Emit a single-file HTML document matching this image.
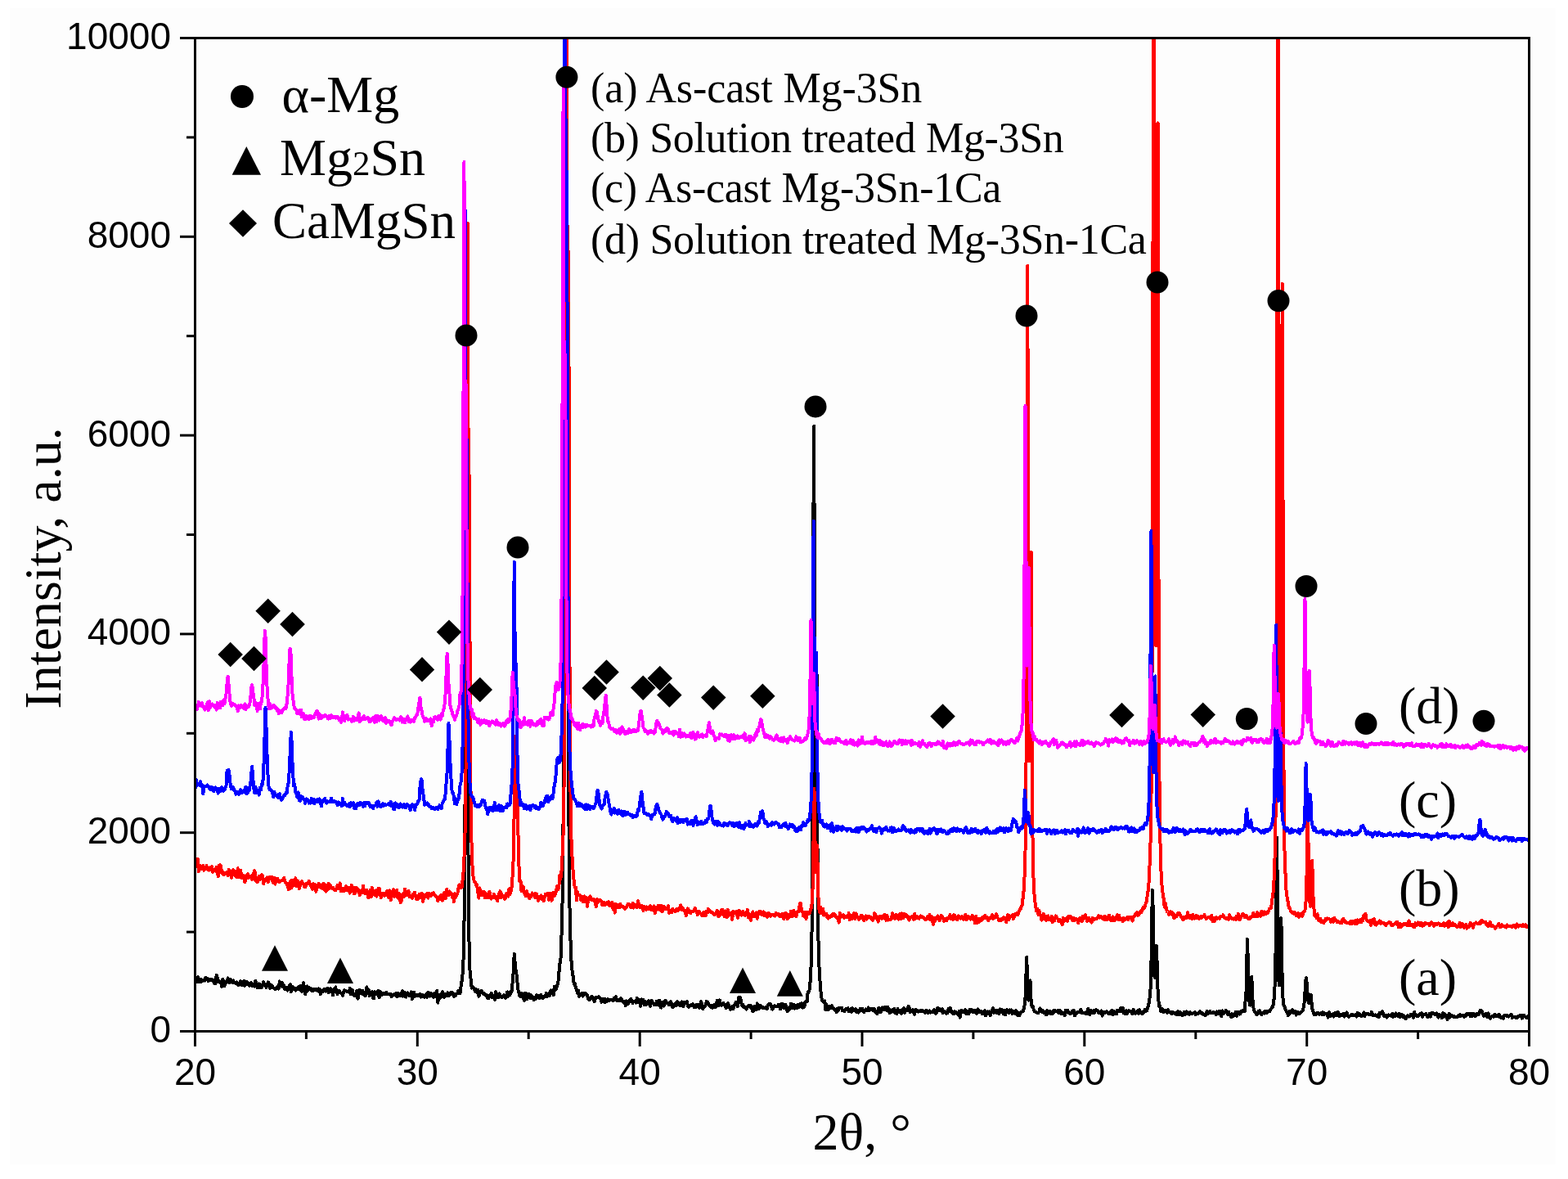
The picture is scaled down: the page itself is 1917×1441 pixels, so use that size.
<!DOCTYPE html><html><head><meta charset="utf-8"><title>XRD</title><style>html,body{margin:0;padding:0;background:#fff;}svg{display:block;}.t{font-family:"Liberation Serif","Times New Roman",serif;}.s{font-family:"Liberation Sans",Arial,sans-serif;}</style></head><body>
<svg width="1917" height="1441" viewBox="0 0 1917 1441">
<rect width="1917" height="1441" fill="#ffffff"/>
<rect x="12" y="10" width="1890" height="1413" fill="#fdfdfd"/>
<defs><clipPath id="pc"><rect x="238.5" y="46.5" width="1631.0" height="1214.0"/></clipPath></defs>
<g clip-path="url(#pc)">
<polyline fill="none" stroke="#000000" stroke-width="4.0" stroke-linejoin="round" stroke-linecap="butt" shape-rendering="crispEdges" points="238.5,1198.4 239.0,1199.2 239.6,1200.0 240.1,1199.4 240.7,1198.7 241.2,1196.5 241.8,1194.2 242.3,1197.3 242.8,1200.4 243.4,1199.8 243.9,1199.2 244.5,1197.8 245.0,1196.5 245.6,1198.0 246.1,1199.6 246.7,1199.3 247.2,1198.9 247.7,1198.7 248.3,1198.5 248.8,1197.9 249.4,1197.4 249.9,1197.9 250.5,1198.4 251.0,1196.5 251.5,1194.7 252.1,1195.5 252.6,1196.3 253.2,1196.0 253.7,1195.8 254.3,1197.5 254.8,1199.3 255.4,1198.8 255.9,1198.3 256.4,1198.0 257.0,1197.7 257.5,1197.2 258.1,1196.6 258.6,1197.4 259.2,1198.1 259.7,1198.5 260.2,1198.9 260.8,1198.5 261.3,1198.1 261.9,1200.3 262.4,1202.5 263.0,1202.2 263.5,1202.0 264.1,1197.0 264.6,1192.0 265.1,1193.3 265.7,1194.7 266.2,1197.2 266.8,1199.8 267.3,1199.5 267.9,1199.2 268.4,1200.1 268.9,1201.0 269.5,1201.0 270.0,1200.9 270.6,1203.5 271.1,1206.0 271.7,1201.4 272.2,1196.8 272.8,1197.7 273.3,1198.6 273.8,1201.9 274.4,1205.2 274.9,1203.2 275.5,1201.3 276.0,1201.4 276.6,1201.5 277.1,1200.0 277.6,1198.4 278.2,1196.9 278.7,1195.4 279.3,1198.0 279.8,1200.6 280.4,1200.6 280.9,1200.7 281.4,1199.0 282.0,1197.4 282.5,1198.3 283.1,1199.2 283.6,1200.1 284.2,1201.0 284.7,1199.8 285.3,1198.5 285.8,1199.7 286.3,1200.9 286.9,1201.2 287.4,1201.6 288.0,1201.7 288.5,1201.7 289.1,1201.1 289.6,1200.5 290.1,1202.1 290.7,1203.6 291.2,1204.0 291.8,1204.4 292.3,1203.5 292.9,1202.6 293.4,1201.0 294.0,1199.4 294.5,1201.5 295.0,1203.6 295.6,1201.9 296.1,1200.3 296.7,1202.2 297.2,1204.2 297.8,1201.6 298.3,1199.0 298.8,1201.9 299.4,1204.8 299.9,1203.7 300.5,1202.6 301.0,1201.1 301.6,1199.7 302.1,1201.1 302.7,1202.6 303.2,1203.3 303.7,1203.9 304.3,1204.3 304.8,1204.8 305.4,1203.1 305.9,1201.5 306.5,1201.4 307.0,1201.3 307.5,1203.1 308.1,1204.8 308.6,1203.8 309.2,1202.8 309.7,1203.7 310.3,1204.5 310.8,1205.0 311.4,1205.6 311.9,1202.2 312.4,1198.8 313.0,1201.4 313.5,1204.1 314.1,1205.5 314.6,1207.1 315.2,1205.2 315.7,1203.4 316.2,1203.0 316.8,1202.5 317.3,1204.9 317.9,1207.1 318.4,1206.4 319.0,1205.6 319.5,1206.3 320.0,1207.0 320.6,1205.1 321.1,1203.3 321.7,1201.7 322.2,1200.2 322.8,1202.1 323.3,1204.1 323.9,1203.8 324.4,1203.5 324.9,1205.2 325.5,1206.9 326.0,1206.1 326.6,1205.3 327.1,1202.8 327.7,1200.4 328.2,1201.0 328.7,1201.6 329.3,1204.6 329.8,1207.6 330.4,1207.5 330.9,1207.4 331.5,1205.7 332.0,1204.1 332.6,1205.1 333.1,1206.1 333.6,1206.8 334.2,1207.5 334.7,1207.7 335.3,1207.9 335.8,1208.5 336.4,1209.2 336.9,1208.4 337.4,1207.5 338.0,1206.9 338.5,1206.3 339.1,1205.8 339.6,1205.4 340.2,1207.0 340.7,1208.6 341.3,1204.0 341.8,1199.4 342.3,1202.1 342.9,1204.9 343.4,1205.0 344.0,1205.2 344.5,1203.2 345.1,1201.3 345.6,1203.8 346.1,1206.4 346.7,1205.4 347.2,1204.4 347.8,1206.8 348.3,1209.3 348.9,1208.2 349.4,1207.1 350.0,1208.3 350.5,1209.3 351.0,1210.0 351.6,1210.6 352.1,1209.3 352.7,1208.0 353.2,1206.3 353.8,1204.6 354.3,1203.8 354.8,1203.1 355.4,1207.7 355.9,1212.4 356.5,1210.0 357.0,1207.7 357.6,1207.0 358.1,1206.3 358.7,1207.4 359.2,1208.6 359.7,1208.1 360.3,1207.6 360.8,1209.0 361.4,1210.5 361.9,1209.4 362.5,1208.3 363.0,1208.3 363.5,1208.3 364.1,1207.3 364.6,1206.3 365.2,1207.9 365.7,1209.4 366.3,1207.4 366.8,1205.3 367.3,1207.6 367.9,1209.9 368.4,1211.1 369.0,1212.2 369.5,1208.1 370.1,1204.0 370.6,1202.7 371.2,1201.4 371.7,1205.6 372.2,1209.7 372.8,1212.4 373.3,1215.0 373.9,1210.4 374.4,1205.8 375.0,1205.6 375.5,1205.4 376.0,1208.0 376.6,1210.5 377.1,1208.7 377.7,1206.8 378.2,1207.3 378.8,1207.8 379.3,1208.1 379.9,1208.4 380.4,1209.7 380.9,1210.9 381.5,1209.8 382.0,1208.7 382.6,1209.7 383.1,1210.8 383.7,1210.4 384.2,1210.0 384.7,1209.3 385.3,1208.6 385.8,1209.4 386.4,1210.2 386.9,1209.4 387.5,1208.7 388.0,1210.0 388.6,1211.4 389.1,1209.9 389.6,1208.5 390.2,1208.6 390.7,1208.7 391.3,1212.1 391.8,1215.4 392.4,1213.3 392.9,1211.2 393.4,1211.0 394.0,1210.8 394.5,1211.3 395.1,1211.9 395.6,1210.5 396.2,1209.1 396.7,1209.3 397.3,1209.6 397.8,1210.6 398.3,1211.6 398.9,1211.5 399.4,1211.4 400.0,1209.6 400.5,1207.8 401.1,1210.5 401.6,1213.1 402.1,1211.2 402.7,1209.4 403.2,1208.8 403.8,1208.3 404.3,1208.6 404.9,1209.0 405.4,1209.8 405.9,1210.7 406.5,1213.5 407.0,1216.3 407.6,1212.6 408.1,1208.9 408.7,1210.7 409.2,1212.5 409.8,1209.5 410.3,1206.5 410.8,1209.4 411.4,1212.3 411.9,1213.6 412.5,1214.9 413.0,1213.5 413.6,1212.0 414.1,1211.5 414.6,1210.9 415.2,1212.0 415.7,1213.0 416.3,1213.5 416.8,1214.0 417.4,1213.8 417.9,1213.7 418.5,1215.4 419.0,1217.0 419.5,1214.7 420.1,1212.3 420.6,1211.3 421.2,1210.2 421.7,1210.8 422.3,1211.3 422.8,1211.3 423.3,1211.4 423.9,1211.6 424.4,1211.9 425.0,1211.8 425.5,1211.7 426.1,1212.1 426.6,1212.5 427.2,1210.3 427.7,1208.0 428.2,1211.5 428.8,1215.0 429.3,1213.3 429.9,1211.6 430.4,1211.0 431.0,1210.3 431.5,1212.8 432.0,1215.3 432.6,1216.3 433.1,1217.2 433.7,1216.2 434.2,1215.1 434.8,1214.6 435.3,1214.1 435.9,1212.5 436.4,1210.9 436.9,1215.7 437.5,1220.6 438.0,1217.9 438.6,1215.2 439.1,1212.6 439.7,1210.1 440.2,1210.8 440.7,1211.5 441.3,1212.9 441.8,1214.3 442.4,1212.5 442.9,1210.5 443.5,1212.9 444.0,1215.2 444.5,1214.3 445.1,1213.3 445.6,1215.3 446.2,1217.3 446.7,1216.7 447.3,1216.2 447.8,1211.3 448.4,1206.4 448.9,1210.0 449.4,1213.6 450.0,1211.5 450.5,1209.5 451.1,1213.2 451.6,1217.0 452.2,1216.0 452.7,1214.9 453.2,1215.6 453.8,1216.2 454.3,1214.3 454.9,1212.2 455.4,1216.1 456.0,1219.8 456.5,1220.1 457.1,1220.3 457.6,1216.1 458.1,1212.0 458.7,1213.8 459.2,1215.5 459.8,1214.0 460.3,1212.6 460.9,1213.3 461.4,1214.1 461.9,1212.5 462.5,1210.8 463.0,1214.9 463.6,1219.1 464.1,1215.5 464.7,1212.0 465.2,1213.0 465.8,1214.1 466.3,1215.3 466.8,1216.4 467.4,1215.0 467.9,1213.6 468.5,1214.2 469.0,1214.7 469.6,1214.3 470.1,1213.9 470.6,1214.5 471.2,1215.1 471.7,1213.9 472.3,1212.6 472.8,1213.6 473.4,1214.6 473.9,1214.9 474.5,1215.2 475.0,1215.0 475.5,1214.7 476.1,1215.2 476.6,1215.8 477.2,1215.4 477.7,1215.0 478.3,1216.6 478.8,1218.1 479.3,1216.9 479.9,1215.7 480.4,1216.1 481.0,1216.4 481.5,1215.8 482.1,1215.1 482.6,1215.3 483.1,1215.5 483.7,1214.6 484.2,1213.7 484.8,1216.0 485.3,1218.3 485.9,1216.1 486.4,1213.9 487.0,1214.4 487.5,1214.8 488.0,1216.1 488.6,1217.4 489.1,1217.4 489.7,1217.4 490.2,1216.4 490.8,1215.3 491.3,1213.2 491.8,1211.2 492.4,1214.4 492.9,1217.6 493.5,1217.4 494.0,1217.2 494.6,1215.1 495.1,1213.0 495.7,1215.8 496.2,1218.6 496.7,1216.7 497.3,1214.8 497.8,1214.2 498.4,1213.6 498.9,1215.1 499.5,1216.6 500.0,1216.3 500.5,1215.9 501.1,1216.4 501.6,1216.9 502.2,1214.7 502.7,1212.4 503.3,1216.8 503.8,1221.1 504.4,1218.0 504.9,1214.9 505.4,1213.7 506.0,1212.5 506.5,1215.3 507.1,1218.1 507.6,1216.9 508.2,1215.6 508.7,1216.5 509.2,1217.4 509.8,1216.5 510.3,1215.6 510.9,1215.9 511.4,1216.2 512.0,1216.5 512.5,1216.9 513.1,1215.7 513.6,1214.6 514.1,1216.6 514.7,1218.7 515.2,1217.5 515.8,1216.3 516.3,1216.1 516.9,1215.7 517.4,1217.1 517.9,1218.3 518.5,1218.7 519.0,1219.1 519.6,1218.1 520.1,1217.1 520.7,1216.1 521.2,1215.1 521.8,1216.9 522.3,1218.8 522.8,1215.7 523.4,1212.7 523.9,1213.7 524.5,1214.7 525.0,1216.1 525.6,1217.5 526.1,1215.7 526.6,1213.8 527.2,1215.5 527.7,1217.1 528.3,1216.8 528.8,1216.5 529.4,1217.6 529.9,1218.7 530.4,1216.3 531.0,1214.0 531.5,1214.4 532.1,1214.8 532.6,1216.2 533.2,1217.6 533.7,1214.3 534.3,1211.0 534.8,1218.3 535.3,1225.6 535.9,1220.8 536.4,1216.0 537.0,1215.9 537.5,1215.8 538.1,1217.6 538.6,1219.5 539.1,1218.1 539.7,1216.9 540.2,1214.6 540.8,1212.3 541.3,1215.3 541.9,1218.3 542.4,1218.6 543.0,1218.8 543.5,1217.0 544.0,1215.3 544.6,1215.3 545.1,1215.4 545.7,1216.2 546.2,1217.0 546.8,1215.2 547.3,1213.3 547.8,1215.0 548.4,1216.8 548.9,1216.6 549.5,1216.4 550.0,1215.4 550.6,1214.4 551.1,1213.5 551.7,1212.6 552.2,1214.1 552.7,1215.4 553.3,1214.5 553.8,1213.5 554.4,1215.7 554.9,1217.9 555.5,1216.7 556.0,1215.4 556.5,1216.1 557.1,1216.8 557.6,1215.7 558.2,1214.6 558.7,1214.5 559.3,1214.4 559.8,1212.6 560.4,1210.7 560.9,1212.1 561.4,1213.3 562.0,1213.9 562.5,1214.2 563.1,1209.9 563.6,1205.0 564.2,1202.0 564.7,1198.1 565.2,1194.1 565.8,1188.3 566.3,1178.4 566.9,1162.9 567.4,1135.9 568.0,1083.5 568.5,987.0 569.0,841.1 569.6,762.0 570.1,854.1 570.7,945.1 571.2,956.5 571.8,949.5 572.3,1017.4 572.9,1096.7 573.4,1145.0 573.9,1171.5 574.5,1186.3 575.0,1192.7 575.6,1196.3 576.1,1202.6 576.7,1207.6 577.2,1206.7 577.7,1205.4 578.3,1206.4 578.8,1207.2 579.4,1208.6 579.9,1209.9 580.5,1210.8 581.0,1211.7 581.6,1210.5 582.1,1209.2 582.6,1211.3 583.2,1213.3 583.7,1211.5 584.3,1209.6 584.8,1213.8 585.4,1217.8 585.9,1216.0 586.4,1214.1 587.0,1213.3 587.5,1212.3 588.1,1211.6 588.6,1211.0 589.2,1211.8 589.7,1213.0 590.3,1213.9 590.8,1214.8 591.3,1214.4 591.9,1213.8 592.4,1214.4 593.0,1214.9 593.5,1216.1 594.1,1217.2 594.6,1216.8 595.1,1216.5 595.7,1218.3 596.2,1220.1 596.8,1220.2 597.3,1220.3 597.9,1218.8 598.4,1217.3 599.0,1217.8 599.5,1218.3 600.0,1216.0 600.6,1213.8 601.1,1216.3 601.7,1218.9 602.2,1218.1 602.8,1217.4 603.3,1218.2 603.8,1218.9 604.4,1220.3 604.9,1221.8 605.5,1217.0 606.0,1212.2 606.6,1215.4 607.1,1218.6 607.6,1217.0 608.2,1215.3 608.7,1217.3 609.3,1219.4 609.8,1216.9 610.4,1214.5 610.9,1215.4 611.5,1216.4 612.0,1217.2 612.5,1218.0 613.1,1218.6 613.6,1219.2 614.2,1218.6 614.7,1218.0 615.3,1217.1 615.8,1216.1 616.3,1216.4 616.9,1216.7 617.4,1218.4 618.0,1220.0 618.5,1218.7 619.1,1217.3 619.6,1214.9 620.2,1212.4 620.7,1215.1 621.2,1217.9 621.8,1216.9 622.3,1215.9 622.9,1216.0 623.4,1216.1 624.0,1214.0 624.5,1211.7 625.0,1212.1 625.6,1212.0 626.1,1206.8 626.7,1199.4 627.2,1194.1 627.8,1185.6 628.3,1172.3 628.9,1166.0 629.4,1173.3 629.9,1181.8 630.5,1185.4 631.0,1188.1 631.6,1191.1 632.1,1196.1 632.7,1203.3 633.2,1208.4 633.7,1211.1 634.3,1212.9 634.8,1215.4 635.4,1217.7 635.9,1217.7 636.5,1217.6 637.0,1215.7 637.6,1213.6 638.1,1216.0 638.6,1218.3 639.2,1218.8 639.7,1219.2 640.3,1220.9 640.8,1222.7 641.4,1218.1 641.9,1213.5 642.4,1215.0 643.0,1216.6 643.5,1219.0 644.1,1221.3 644.6,1218.1 645.2,1214.7 645.7,1214.9 646.2,1215.0 646.8,1217.0 647.3,1219.1 647.9,1219.7 648.4,1220.3 649.0,1218.2 649.5,1216.2 650.1,1217.8 650.6,1219.3 651.1,1218.9 651.7,1218.6 652.2,1220.4 652.8,1222.3 653.3,1220.5 653.9,1218.8 654.4,1220.0 654.9,1221.1 655.5,1218.7 656.0,1216.1 656.6,1216.7 657.1,1217.4 657.7,1217.2 658.2,1217.1 658.8,1218.5 659.3,1220.0 659.8,1219.4 660.4,1218.8 660.9,1217.3 661.5,1215.9 662.0,1217.9 662.6,1219.8 663.1,1220.1 663.6,1220.4 664.2,1219.4 664.7,1218.3 665.3,1218.2 665.8,1217.9 666.4,1217.9 666.9,1217.9 667.5,1215.8 668.0,1213.8 668.5,1215.9 669.1,1218.0 669.6,1217.7 670.2,1217.4 670.7,1215.6 671.3,1213.7 671.8,1215.2 672.3,1216.7 672.9,1213.5 673.4,1210.3 674.0,1210.9 674.5,1211.5 675.1,1211.2 675.6,1210.9 676.2,1213.6 676.7,1216.2 677.2,1211.0 677.8,1205.7 678.3,1207.7 678.9,1209.6 679.4,1209.1 680.0,1208.4 680.5,1206.4 681.0,1204.1 681.6,1203.4 682.1,1202.5 682.7,1196.9 683.2,1190.6 683.8,1184.8 684.3,1178.0 684.9,1176.7 685.4,1173.9 685.9,1160.6 686.5,1143.6 687.0,1126.2 687.6,1100.8 688.1,1057.3 688.7,984.8 689.2,859.6 689.7,611.2 690.3,158.6 690.8,-10.0 691.4,-10.0 691.9,193.0 692.5,414.5 693.0,370.2 693.5,290.7 694.1,503.6 694.6,780.0 695.2,953.0 695.7,1046.3 696.3,1096.9 696.8,1126.5 697.4,1146.0 697.9,1161.5 698.4,1173.2 699.0,1180.5 699.5,1186.1 700.1,1190.0 700.6,1192.9 701.2,1198.0 701.7,1202.5 702.2,1202.3 702.8,1201.9 703.3,1204.7 703.9,1207.2 704.4,1208.5 705.0,1209.7 705.5,1212.0 706.1,1214.2 706.6,1212.5 707.1,1210.7 707.7,1214.3 708.2,1217.8 708.8,1216.3 709.3,1214.8 709.9,1214.8 710.4,1214.6 710.9,1214.3 711.5,1214.0 712.0,1215.7 712.6,1217.5 713.1,1217.0 713.7,1216.5 714.2,1215.2 714.8,1213.9 715.3,1214.1 715.8,1214.2 716.4,1215.2 716.9,1216.1 717.5,1216.2 718.0,1216.3 718.6,1218.7 719.1,1221.1 719.6,1221.6 720.2,1222.2 720.7,1221.7 721.3,1221.2 721.8,1220.6 722.4,1219.9 722.9,1218.9 723.5,1217.9 724.0,1218.4 724.5,1218.9 725.1,1219.9 725.6,1220.9 726.2,1222.4 726.7,1224.0 727.3,1222.6 727.8,1221.3 728.3,1219.9 728.9,1218.6 729.4,1219.1 730.0,1219.5 730.5,1219.0 731.1,1218.5 731.6,1218.2 732.1,1217.9 732.7,1218.7 733.2,1219.5 733.8,1220.1 734.3,1220.7 734.9,1222.7 735.4,1224.8 736.0,1222.8 736.5,1220.8 737.0,1222.4 737.6,1223.9 738.1,1224.4 738.7,1224.8 739.2,1222.8 739.8,1220.8 740.3,1222.7 740.8,1224.6 741.4,1223.8 741.9,1223.0 742.5,1221.9 743.0,1220.9 743.6,1221.9 744.1,1222.9 744.7,1222.7 745.2,1222.5 745.7,1222.2 746.3,1221.9 746.8,1221.8 747.4,1221.8 747.9,1222.1 748.5,1222.3 749.0,1222.6 749.5,1222.8 750.1,1221.2 750.6,1219.6 751.2,1220.6 751.7,1221.6 752.3,1219.9 752.8,1218.2 753.4,1220.3 753.9,1222.4 754.4,1222.8 755.0,1223.2 755.5,1222.7 756.1,1222.1 756.6,1222.2 757.2,1222.3 757.7,1222.6 758.2,1223.0 758.8,1221.6 759.3,1220.3 759.9,1221.1 760.4,1221.8 761.0,1223.0 761.5,1224.1 762.1,1224.9 762.6,1225.6 763.1,1225.0 763.7,1224.3 764.2,1226.9 764.8,1229.4 765.3,1226.4 765.9,1223.4 766.4,1224.8 766.9,1226.2 767.5,1226.5 768.0,1226.9 768.6,1225.2 769.1,1223.5 769.7,1222.6 770.2,1221.7 770.7,1221.2 771.3,1220.7 771.8,1222.2 772.4,1223.7 772.9,1224.8 773.5,1226.0 774.0,1225.1 774.6,1224.2 775.1,1224.2 775.6,1224.2 776.2,1223.7 776.7,1223.2 777.3,1224.4 777.8,1225.6 778.4,1222.6 778.9,1219.7 779.4,1222.6 780.0,1225.5 780.5,1225.4 781.1,1225.2 781.6,1223.6 782.2,1222.0 782.7,1226.0 783.3,1229.9 783.8,1225.7 784.3,1221.5 784.9,1221.8 785.4,1222.2 786.0,1222.2 786.5,1222.2 787.1,1225.1 787.6,1228.0 788.1,1225.9 788.7,1223.8 789.2,1225.7 789.8,1227.6 790.3,1227.6 790.9,1227.6 791.4,1227.2 792.0,1226.8 792.5,1225.0 793.0,1223.1 793.6,1223.9 794.1,1224.6 794.7,1227.2 795.2,1229.8 795.8,1226.4 796.3,1223.0 796.8,1223.5 797.4,1224.1 797.9,1224.9 798.5,1225.7 799.0,1226.8 799.6,1228.0 800.1,1227.4 800.7,1226.9 801.2,1227.5 801.7,1228.0 802.3,1225.9 802.8,1223.8 803.4,1226.1 803.9,1228.3 804.5,1227.9 805.0,1227.5 805.5,1225.1 806.1,1222.6 806.6,1226.3 807.2,1229.9 807.7,1230.8 808.3,1231.6 808.8,1228.1 809.3,1224.6 809.9,1225.6 810.4,1226.5 811.0,1228.1 811.5,1229.7 812.1,1226.6 812.6,1223.5 813.2,1223.2 813.7,1222.8 814.2,1223.7 814.8,1224.6 815.3,1225.4 815.9,1226.2 816.4,1226.1 817.0,1226.0 817.5,1227.3 818.0,1228.5 818.6,1228.1 819.1,1227.6 819.7,1225.9 820.2,1224.2 820.8,1226.2 821.3,1228.3 821.9,1229.7 822.4,1231.1 822.9,1230.3 823.5,1229.5 824.0,1229.1 824.6,1228.8 825.1,1227.7 825.7,1226.5 826.2,1227.6 826.7,1228.7 827.3,1226.5 827.8,1224.3 828.4,1226.3 828.9,1228.3 829.5,1227.3 830.0,1226.4 830.6,1227.8 831.1,1229.2 831.6,1228.4 832.2,1227.7 832.7,1226.0 833.3,1224.4 833.8,1226.0 834.4,1227.5 834.9,1229.0 835.4,1230.3 836.0,1227.8 836.5,1225.2 837.1,1225.8 837.6,1226.4 838.2,1226.1 838.7,1225.7 839.3,1224.9 839.8,1224.1 840.3,1226.8 840.9,1229.7 841.4,1230.1 842.0,1230.6 842.5,1230.1 843.1,1229.7 843.6,1229.2 844.1,1228.7 844.7,1228.5 845.2,1228.3 845.8,1228.8 846.3,1229.2 846.9,1228.2 847.4,1227.2 848.0,1229.1 848.5,1231.0 849.0,1231.2 849.6,1231.4 850.1,1231.3 850.7,1231.2 851.2,1229.5 851.8,1227.7 852.3,1228.3 852.8,1228.8 853.4,1228.3 853.9,1227.9 854.5,1229.9 855.0,1232.0 855.6,1230.2 856.1,1228.4 856.6,1226.2 857.2,1224.0 857.7,1226.6 858.3,1229.3 858.8,1231.1 859.4,1232.9 859.9,1231.6 860.5,1230.3 861.0,1230.5 861.5,1230.6 862.1,1229.6 862.6,1228.5 863.2,1226.2 863.7,1224.0 864.3,1224.2 864.8,1224.5 865.3,1225.3 865.9,1226.1 866.4,1227.5 867.0,1228.9 867.5,1229.6 868.1,1230.2 868.6,1230.7 869.2,1231.2 869.7,1230.1 870.2,1229.0 870.8,1230.4 871.3,1231.8 871.9,1230.4 872.4,1228.9 873.0,1228.3 873.5,1227.7 874.0,1229.3 874.6,1231.0 875.1,1228.9 875.7,1227.0 876.2,1224.9 876.8,1222.9 877.3,1224.7 877.9,1226.6 878.4,1227.9 878.9,1229.2 879.5,1225.8 880.0,1222.4 880.6,1225.5 881.1,1228.6 881.7,1228.7 882.2,1228.8 882.7,1227.6 883.3,1226.4 883.8,1226.3 884.4,1226.2 884.9,1227.2 885.5,1228.3 886.0,1228.2 886.6,1228.0 887.1,1230.0 887.6,1232.1 888.2,1231.2 888.7,1230.3 889.3,1228.2 889.8,1226.2 890.4,1227.1 890.9,1228.0 891.4,1229.7 892.0,1231.5 892.5,1232.8 893.1,1234.1 893.6,1232.3 894.2,1230.6 894.7,1230.4 895.2,1230.2 895.8,1231.8 896.3,1233.3 896.9,1231.0 897.4,1228.8 898.0,1228.2 898.5,1227.7 899.1,1226.2 899.6,1224.6 900.1,1225.2 900.7,1225.6 901.2,1227.9 901.8,1230.1 902.3,1224.8 902.9,1219.3 903.4,1219.9 903.9,1221.1 904.5,1219.7 905.0,1219.0 905.6,1222.1 906.1,1225.2 906.7,1227.3 907.2,1229.1 907.8,1228.6 908.3,1228.0 908.8,1229.5 909.4,1231.0 909.9,1231.2 910.5,1231.3 911.0,1231.1 911.6,1230.9 912.1,1232.3 912.6,1233.6 913.2,1232.6 913.7,1231.5 914.3,1230.4 914.8,1229.3 915.4,1229.0 915.9,1228.7 916.5,1228.6 917.0,1228.6 917.5,1230.2 918.1,1231.7 918.6,1230.9 919.2,1230.0 919.7,1233.3 920.3,1236.5 920.8,1235.5 921.3,1234.4 921.9,1232.1 922.4,1229.9 923.0,1229.7 923.5,1229.6 924.1,1231.9 924.6,1234.2 925.2,1230.3 925.7,1226.5 926.2,1228.1 926.8,1229.7 927.3,1231.2 927.9,1232.7 928.4,1230.7 929.0,1228.7 929.5,1229.2 930.0,1229.7 930.6,1229.9 931.1,1230.1 931.7,1231.2 932.2,1232.3 932.8,1231.8 933.3,1231.2 933.8,1231.5 934.4,1231.8 934.9,1232.0 935.5,1232.1 936.0,1231.5 936.6,1230.9 937.1,1232.0 937.7,1233.1 938.2,1231.0 938.7,1228.9 939.3,1228.1 939.8,1227.3 940.4,1226.9 940.9,1226.6 941.5,1226.9 942.0,1227.2 942.5,1228.5 943.1,1229.9 943.6,1231.7 944.2,1233.6 944.7,1232.8 945.3,1231.9 945.8,1231.1 946.4,1230.3 946.9,1229.8 947.4,1229.3 948.0,1229.8 948.5,1230.3 949.1,1230.4 949.6,1230.4 950.2,1230.2 950.7,1229.9 951.2,1228.9 951.8,1228.0 952.3,1229.0 952.9,1230.0 953.4,1231.7 954.0,1233.4 954.5,1230.0 955.1,1226.7 955.6,1228.8 956.1,1231.0 956.7,1229.1 957.2,1227.1 957.8,1229.7 958.3,1232.3 958.9,1231.3 959.4,1230.4 959.9,1229.1 960.5,1227.7 961.0,1230.1 961.6,1232.5 962.1,1234.3 962.7,1236.1 963.2,1234.2 963.8,1232.3 964.3,1233.3 964.8,1234.3 965.4,1232.8 965.9,1231.3 966.5,1229.0 967.0,1226.6 967.6,1229.4 968.1,1232.2 968.6,1231.2 969.2,1230.3 969.7,1229.2 970.3,1228.0 970.8,1230.4 971.4,1232.7 971.9,1232.1 972.4,1231.3 973.0,1230.3 973.5,1229.2 974.1,1230.6 974.6,1231.9 975.2,1229.9 975.7,1227.9 976.3,1229.4 976.8,1231.0 977.3,1229.1 977.9,1227.3 978.4,1228.7 979.0,1230.2 979.5,1228.2 980.1,1226.3 980.6,1228.9 981.1,1231.6 981.7,1230.1 982.2,1228.5 982.8,1229.5 983.3,1230.5 983.9,1227.5 984.4,1224.4 985.0,1224.1 985.5,1223.6 986.0,1224.1 986.6,1224.4 987.1,1218.7 987.7,1212.7 988.2,1212.5 988.8,1211.7 989.3,1210.8 989.8,1209.1 990.4,1202.5 990.9,1193.6 991.5,1182.7 992.0,1165.9 992.6,1134.3 993.1,1076.7 993.7,969.4 994.2,773.4 994.7,525.3 995.3,521.0 995.8,749.4 996.4,918.3 996.9,978.2 997.5,945.4 998.0,852.5 998.5,824.3 999.1,940.4 999.6,1057.9 1000.2,1126.9 1000.7,1162.9 1001.3,1178.5 1001.8,1186.9 1002.4,1197.3 1002.9,1205.2 1003.4,1211.4 1004.0,1216.4 1004.5,1219.9 1005.1,1222.8 1005.6,1223.4 1006.2,1223.8 1006.7,1224.6 1007.2,1225.2 1007.8,1224.4 1008.3,1223.5 1008.9,1228.9 1009.4,1234.1 1010.0,1231.0 1010.5,1227.9 1011.1,1231.2 1011.6,1234.4 1012.1,1234.3 1012.7,1234.3 1013.2,1232.9 1013.8,1231.6 1014.3,1230.7 1014.9,1229.9 1015.4,1230.7 1015.9,1231.5 1016.5,1230.3 1017.0,1229.1 1017.6,1230.8 1018.1,1232.5 1018.7,1232.5 1019.2,1232.4 1019.7,1233.2 1020.3,1233.9 1020.8,1234.5 1021.4,1235.0 1021.9,1235.9 1022.5,1236.9 1023.0,1234.7 1023.6,1232.6 1024.1,1234.2 1024.6,1235.7 1025.2,1233.9 1025.7,1232.0 1026.3,1232.0 1026.8,1231.9 1027.4,1232.2 1027.9,1232.5 1028.4,1232.0 1029.0,1231.6 1029.5,1233.5 1030.1,1235.5 1030.6,1235.3 1031.2,1235.2 1031.7,1235.6 1032.3,1236.0 1032.8,1234.7 1033.3,1233.4 1033.9,1233.9 1034.4,1234.3 1035.0,1233.6 1035.5,1233.0 1036.1,1232.6 1036.6,1232.2 1037.1,1234.1 1037.7,1236.0 1038.2,1236.1 1038.8,1236.1 1039.3,1234.8 1039.9,1233.4 1040.4,1235.2 1041.0,1237.0 1041.5,1234.5 1042.0,1232.0 1042.6,1233.6 1043.1,1235.2 1043.7,1234.7 1044.2,1234.3 1044.8,1234.4 1045.3,1234.5 1045.8,1233.8 1046.4,1233.2 1046.9,1235.2 1047.5,1237.2 1048.0,1236.7 1048.6,1236.3 1049.1,1237.0 1049.7,1237.6 1050.2,1236.6 1050.7,1235.6 1051.3,1234.2 1051.8,1232.8 1052.4,1233.8 1052.9,1234.7 1053.5,1233.8 1054.0,1232.8 1054.5,1234.4 1055.1,1236.0 1055.6,1236.6 1056.2,1237.4 1056.7,1236.4 1057.3,1235.5 1057.8,1234.5 1058.3,1233.5 1058.9,1233.7 1059.4,1233.9 1060.0,1234.5 1060.5,1235.0 1061.1,1233.2 1061.6,1231.5 1062.2,1233.0 1062.7,1234.6 1063.2,1234.6 1063.8,1234.6 1064.3,1233.8 1064.9,1233.0 1065.4,1233.1 1066.0,1233.3 1066.5,1234.0 1067.0,1234.7 1067.6,1233.8 1068.1,1233.0 1068.7,1233.2 1069.2,1233.4 1069.8,1235.2 1070.3,1237.0 1070.9,1236.6 1071.4,1236.1 1071.9,1237.7 1072.5,1239.2 1073.0,1236.4 1073.6,1233.6 1074.1,1232.7 1074.7,1231.7 1075.2,1234.4 1075.7,1237.0 1076.3,1236.8 1076.8,1236.7 1077.4,1234.9 1077.9,1233.1 1078.5,1232.3 1079.0,1231.5 1079.6,1233.0 1080.1,1234.5 1080.6,1232.9 1081.2,1231.2 1081.7,1232.7 1082.3,1234.3 1082.8,1232.5 1083.4,1230.6 1083.9,1232.7 1084.4,1234.7 1085.0,1232.8 1085.5,1231.0 1086.1,1232.9 1086.6,1234.8 1087.2,1236.5 1087.7,1238.2 1088.3,1236.4 1088.8,1234.5 1089.3,1235.6 1089.9,1236.6 1090.4,1235.2 1091.0,1233.9 1091.5,1233.8 1092.1,1233.7 1092.6,1233.3 1093.1,1232.8 1093.7,1235.6 1094.2,1238.2 1094.8,1237.2 1095.3,1236.1 1095.9,1237.7 1096.4,1239.2 1096.9,1236.2 1097.5,1233.2 1098.0,1234.0 1098.6,1234.7 1099.1,1234.9 1099.7,1235.0 1100.2,1236.3 1100.8,1237.7 1101.3,1238.1 1101.8,1238.7 1102.4,1236.3 1102.9,1234.0 1103.5,1233.6 1104.0,1233.2 1104.6,1232.6 1105.1,1231.9 1105.6,1234.9 1106.2,1237.9 1106.7,1236.4 1107.3,1234.9 1107.8,1234.3 1108.4,1233.7 1108.9,1234.3 1109.5,1234.9 1110.0,1232.4 1110.5,1229.9 1111.1,1230.7 1111.6,1231.6 1112.2,1234.3 1112.7,1237.1 1113.3,1236.7 1113.8,1236.3 1114.3,1236.3 1114.9,1236.2 1115.4,1235.2 1116.0,1234.2 1116.5,1235.9 1117.1,1237.5 1117.6,1238.7 1118.2,1239.9 1118.7,1236.8 1119.2,1233.7 1119.8,1234.9 1120.3,1236.0 1120.9,1235.5 1121.4,1235.0 1122.0,1235.8 1122.5,1236.6 1123.0,1236.3 1123.6,1236.0 1124.1,1235.9 1124.7,1235.8 1125.2,1235.2 1125.8,1234.6 1126.3,1235.5 1126.9,1236.4 1127.4,1235.9 1127.9,1235.3 1128.5,1235.8 1129.0,1236.2 1129.6,1236.3 1130.1,1236.3 1130.7,1237.0 1131.2,1237.7 1131.7,1236.4 1132.3,1235.1 1132.8,1235.4 1133.4,1235.6 1133.9,1236.9 1134.5,1238.2 1135.0,1236.9 1135.5,1235.6 1136.1,1235.5 1136.6,1235.4 1137.2,1236.5 1137.7,1237.6 1138.3,1237.0 1138.8,1236.5 1139.4,1236.4 1139.9,1236.3 1140.4,1236.6 1141.0,1236.8 1141.5,1235.5 1142.1,1234.1 1142.6,1235.7 1143.2,1237.3 1143.7,1238.0 1144.2,1238.6 1144.8,1237.6 1145.3,1236.5 1145.9,1234.1 1146.4,1231.8 1147.0,1233.5 1147.5,1235.2 1148.1,1234.1 1148.6,1233.0 1149.1,1233.8 1149.7,1234.6 1150.2,1235.1 1150.8,1235.5 1151.3,1234.3 1151.9,1233.1 1152.4,1235.6 1152.9,1238.2 1153.5,1236.9 1154.0,1235.7 1154.6,1236.6 1155.1,1237.6 1155.7,1237.5 1156.2,1237.4 1156.8,1238.1 1157.3,1238.7 1157.8,1238.5 1158.4,1238.3 1158.9,1235.6 1159.5,1233.0 1160.0,1234.5 1160.6,1236.0 1161.1,1233.9 1161.6,1231.9 1162.2,1233.6 1162.7,1235.4 1163.3,1236.6 1163.8,1237.8 1164.4,1238.1 1164.9,1238.5 1165.5,1239.0 1166.0,1239.5 1166.5,1238.0 1167.1,1236.4 1167.6,1237.2 1168.2,1237.9 1168.7,1237.7 1169.3,1237.4 1169.8,1238.5 1170.3,1239.6 1170.9,1239.8 1171.4,1240.0 1172.0,1238.0 1172.5,1236.0 1173.1,1239.9 1173.6,1243.7 1174.2,1239.9 1174.7,1236.0 1175.2,1235.5 1175.8,1235.0 1176.3,1235.8 1176.9,1236.6 1177.4,1236.7 1178.0,1236.9 1178.5,1236.7 1179.0,1236.5 1179.6,1235.5 1180.1,1234.4 1180.7,1236.6 1181.2,1238.9 1181.8,1237.6 1182.3,1236.4 1182.8,1237.9 1183.4,1239.4 1183.9,1239.3 1184.5,1239.2 1185.0,1236.6 1185.6,1233.9 1186.1,1234.1 1186.7,1234.4 1187.2,1234.3 1187.7,1234.2 1188.3,1235.4 1188.8,1236.7 1189.4,1236.5 1189.9,1236.4 1190.5,1236.6 1191.0,1236.8 1191.5,1235.7 1192.1,1234.6 1192.6,1235.7 1193.2,1236.8 1193.7,1237.7 1194.3,1238.7 1194.8,1236.1 1195.4,1233.5 1195.9,1234.7 1196.4,1235.9 1197.0,1236.3 1197.5,1236.8 1198.1,1236.4 1198.6,1235.9 1199.2,1235.8 1199.7,1235.6 1200.2,1237.5 1200.8,1239.4 1201.3,1238.9 1201.9,1238.5 1202.4,1238.2 1203.0,1237.9 1203.5,1236.6 1204.1,1235.2 1204.6,1238.3 1205.1,1241.4 1205.7,1239.8 1206.2,1238.2 1206.8,1237.4 1207.3,1236.5 1207.9,1236.8 1208.4,1236.9 1208.9,1236.7 1209.5,1236.5 1210.0,1238.8 1210.6,1241.2 1211.1,1239.2 1211.7,1237.3 1212.2,1237.0 1212.8,1236.7 1213.3,1234.5 1213.8,1232.3 1214.4,1235.0 1214.9,1237.8 1215.5,1236.1 1216.0,1234.5 1216.6,1234.5 1217.1,1234.6 1217.6,1236.3 1218.2,1238.0 1218.7,1236.7 1219.3,1235.2 1219.8,1236.8 1220.4,1238.4 1220.9,1238.6 1221.4,1238.8 1222.0,1236.0 1222.5,1233.3 1223.1,1234.9 1223.6,1236.5 1224.2,1235.3 1224.7,1234.0 1225.3,1235.6 1225.8,1237.2 1226.3,1238.3 1226.9,1239.2 1227.4,1237.1 1228.0,1234.8 1228.5,1237.6 1229.1,1240.4 1229.6,1238.2 1230.1,1236.0 1230.7,1235.0 1231.2,1234.1 1231.8,1235.1 1232.3,1236.2 1232.9,1237.2 1233.4,1238.2 1234.0,1236.2 1234.5,1234.3 1235.0,1235.7 1235.6,1237.0 1236.1,1235.7 1236.7,1234.4 1237.2,1236.9 1237.8,1239.3 1238.3,1238.3 1238.8,1237.4 1239.4,1236.8 1239.9,1236.3 1240.5,1237.8 1241.0,1239.2 1241.6,1237.1 1242.1,1235.0 1242.7,1236.0 1243.2,1236.9 1243.7,1239.1 1244.3,1241.4 1244.8,1239.7 1245.4,1238.0 1245.9,1239.5 1246.5,1241.0 1247.0,1240.0 1247.5,1238.8 1248.1,1237.9 1248.6,1236.8 1249.2,1236.8 1249.7,1236.6 1250.3,1236.2 1250.8,1235.6 1251.4,1234.0 1251.9,1232.0 1252.4,1229.6 1253.0,1225.8 1253.5,1219.6 1254.1,1207.5 1254.6,1186.8 1255.2,1170.0 1255.7,1183.7 1256.2,1205.3 1256.8,1217.4 1257.3,1222.5 1257.9,1222.6 1258.4,1218.0 1259.0,1205.9 1259.5,1198.4 1260.0,1210.3 1260.6,1223.0 1261.1,1228.0 1261.7,1230.3 1262.2,1230.6 1262.8,1230.3 1263.3,1232.5 1263.9,1234.5 1264.4,1235.6 1264.9,1236.6 1265.5,1236.6 1266.0,1236.6 1266.6,1237.0 1267.1,1237.3 1267.7,1237.7 1268.2,1238.0 1268.7,1238.0 1269.3,1238.0 1269.8,1237.2 1270.4,1236.3 1270.9,1234.4 1271.5,1232.4 1272.0,1233.6 1272.6,1234.8 1273.1,1235.7 1273.6,1236.7 1274.2,1235.9 1274.7,1235.2 1275.3,1236.3 1275.8,1237.5 1276.4,1237.7 1276.9,1238.0 1277.4,1237.4 1278.0,1236.8 1278.5,1238.6 1279.1,1240.4 1279.6,1237.8 1280.2,1235.3 1280.7,1237.1 1281.3,1238.9 1281.8,1237.7 1282.3,1236.5 1282.9,1236.4 1283.4,1236.2 1284.0,1237.6 1284.5,1239.0 1285.1,1237.9 1285.6,1236.8 1286.1,1238.1 1286.7,1239.3 1287.2,1237.3 1287.8,1235.3 1288.3,1236.2 1288.9,1237.2 1289.4,1236.3 1290.0,1235.4 1290.5,1235.9 1291.0,1236.4 1291.6,1236.2 1292.1,1236.0 1292.7,1235.4 1293.2,1234.7 1293.8,1236.4 1294.3,1238.1 1294.8,1236.5 1295.4,1234.8 1295.9,1235.2 1296.5,1235.6 1297.0,1237.4 1297.6,1239.2 1298.1,1239.3 1298.6,1239.4 1299.2,1239.1 1299.7,1238.8 1300.3,1238.4 1300.8,1238.0 1301.4,1239.6 1301.9,1241.2 1302.5,1237.8 1303.0,1234.5 1303.5,1234.8 1304.1,1235.2 1304.6,1234.9 1305.2,1234.7 1305.7,1236.5 1306.3,1238.3 1306.8,1237.9 1307.3,1237.4 1307.9,1238.1 1308.4,1238.8 1309.0,1238.6 1309.5,1238.4 1310.1,1237.3 1310.6,1236.1 1311.2,1235.6 1311.7,1235.2 1312.2,1235.2 1312.8,1235.3 1313.3,1238.3 1313.9,1241.4 1314.4,1240.4 1315.0,1239.3 1315.5,1239.0 1316.0,1238.6 1316.6,1237.7 1317.1,1236.8 1317.7,1236.9 1318.2,1237.1 1318.8,1237.0 1319.3,1236.9 1319.9,1237.1 1320.4,1237.2 1320.9,1235.5 1321.5,1233.7 1322.0,1235.9 1322.6,1238.1 1323.1,1237.8 1323.7,1237.4 1324.2,1237.9 1324.7,1238.4 1325.3,1238.1 1325.8,1237.9 1326.4,1238.4 1326.9,1238.9 1327.5,1238.0 1328.0,1237.2 1328.6,1237.9 1329.1,1238.6 1329.6,1235.5 1330.2,1232.5 1330.7,1233.7 1331.3,1235.0 1331.8,1237.5 1332.4,1240.0 1332.9,1237.3 1333.4,1234.7 1334.0,1235.5 1334.5,1236.3 1335.1,1237.2 1335.6,1238.1 1336.2,1236.7 1336.7,1235.3 1337.3,1236.8 1337.8,1238.4 1338.3,1236.6 1338.9,1234.8 1339.4,1234.5 1340.0,1234.2 1340.5,1234.9 1341.1,1235.5 1341.6,1235.4 1342.1,1235.2 1342.7,1236.7 1343.2,1238.1 1343.8,1237.8 1344.3,1237.4 1344.9,1237.9 1345.4,1238.3 1345.9,1236.9 1346.5,1235.5 1347.0,1238.5 1347.6,1241.6 1348.1,1239.2 1348.7,1236.8 1349.2,1236.8 1349.8,1236.9 1350.3,1237.4 1350.8,1237.9 1351.4,1237.4 1351.9,1236.9 1352.5,1236.7 1353.0,1236.4 1353.6,1237.2 1354.1,1237.9 1354.6,1238.7 1355.2,1239.4 1355.7,1239.1 1356.3,1238.8 1356.8,1238.8 1357.4,1238.9 1357.9,1237.3 1358.5,1235.8 1359.0,1235.4 1359.5,1235.1 1360.1,1237.5 1360.6,1240.0 1361.2,1238.0 1361.7,1236.1 1362.3,1236.8 1362.8,1237.5 1363.3,1237.8 1363.9,1238.1 1364.4,1238.7 1365.0,1239.4 1365.5,1236.9 1366.1,1234.5 1366.6,1235.2 1367.2,1235.8 1367.7,1235.8 1368.2,1235.6 1368.8,1235.6 1369.3,1235.6 1369.9,1233.7 1370.4,1231.9 1371.0,1234.1 1371.5,1236.3 1372.0,1234.1 1372.6,1231.9 1373.1,1235.0 1373.7,1238.1 1374.2,1238.4 1374.8,1238.7 1375.3,1238.8 1375.9,1238.7 1376.4,1237.0 1376.9,1235.3 1377.5,1237.1 1378.0,1238.9 1378.6,1237.2 1379.1,1235.6 1379.7,1235.3 1380.2,1235.1 1380.7,1235.4 1381.3,1235.7 1381.8,1235.8 1382.4,1236.0 1382.9,1236.9 1383.5,1237.8 1384.0,1238.3 1384.5,1238.8 1385.1,1236.2 1385.6,1233.6 1386.2,1234.9 1386.7,1236.2 1387.3,1237.4 1387.8,1238.7 1388.4,1238.1 1388.9,1237.5 1389.4,1237.8 1390.0,1238.2 1390.5,1236.5 1391.1,1234.7 1391.6,1236.9 1392.2,1239.0 1392.7,1236.7 1393.2,1234.3 1393.8,1235.7 1394.3,1237.0 1394.9,1237.9 1395.4,1238.7 1396.0,1238.9 1396.5,1239.2 1397.1,1237.9 1397.6,1236.5 1398.1,1236.8 1398.7,1237.0 1399.2,1235.5 1399.8,1234.0 1400.3,1233.8 1400.9,1233.6 1401.4,1234.6 1401.9,1235.5 1402.5,1233.7 1403.0,1231.7 1403.6,1230.4 1404.1,1228.9 1404.7,1225.6 1405.2,1221.5 1405.8,1218.7 1406.3,1213.3 1406.8,1201.9 1407.4,1182.5 1407.9,1149.4 1408.5,1108.3 1409.0,1088.0 1409.6,1109.1 1410.1,1148.7 1410.6,1178.9 1411.2,1192.1 1411.7,1194.8 1412.3,1189.4 1412.8,1175.8 1413.4,1159.1 1413.9,1155.8 1414.5,1173.2 1415.0,1193.8 1415.5,1208.7 1416.1,1218.1 1416.6,1225.1 1417.2,1230.0 1417.7,1230.3 1418.3,1230.1 1418.8,1233.4 1419.3,1236.4 1419.9,1234.6 1420.4,1232.7 1421.0,1233.6 1421.5,1234.5 1422.1,1235.8 1422.6,1237.1 1423.1,1236.4 1423.7,1235.6 1424.2,1235.3 1424.8,1234.9 1425.3,1235.6 1425.9,1236.3 1426.4,1236.9 1427.0,1237.6 1427.5,1235.8 1428.0,1234.1 1428.6,1235.5 1429.1,1236.8 1429.7,1237.1 1430.2,1237.3 1430.8,1237.1 1431.3,1236.8 1431.8,1237.9 1432.4,1238.9 1432.9,1237.8 1433.5,1236.8 1434.0,1237.0 1434.6,1237.3 1435.1,1237.7 1435.7,1238.1 1436.2,1238.7 1436.7,1239.3 1437.3,1238.5 1437.8,1237.6 1438.4,1239.1 1438.9,1240.5 1439.5,1238.4 1440.0,1236.4 1440.5,1238.2 1441.1,1240.1 1441.6,1238.3 1442.2,1236.5 1442.7,1237.0 1443.3,1237.5 1443.8,1237.9 1444.4,1238.3 1444.9,1239.7 1445.4,1241.1 1446.0,1240.2 1446.5,1239.2 1447.1,1238.2 1447.6,1237.2 1448.2,1238.7 1448.7,1240.1 1449.2,1238.8 1449.8,1237.5 1450.3,1237.0 1450.9,1236.5 1451.4,1237.6 1452.0,1238.6 1452.5,1238.4 1453.1,1238.2 1453.6,1239.0 1454.1,1239.7 1454.7,1238.4 1455.2,1237.2 1455.8,1237.9 1456.3,1238.7 1456.9,1238.9 1457.4,1239.1 1457.9,1238.8 1458.5,1238.6 1459.0,1238.4 1459.6,1238.2 1460.1,1237.7 1460.7,1237.2 1461.2,1238.6 1461.7,1240.0 1462.3,1239.4 1462.8,1238.8 1463.4,1239.1 1463.9,1239.4 1464.5,1238.7 1465.0,1237.9 1465.6,1238.2 1466.1,1238.4 1466.6,1237.4 1467.2,1236.4 1467.7,1237.3 1468.3,1238.2 1468.8,1238.8 1469.4,1239.4 1469.9,1239.0 1470.4,1238.6 1471.0,1239.4 1471.5,1240.2 1472.1,1239.9 1472.6,1239.6 1473.2,1240.5 1473.7,1241.4 1474.3,1240.0 1474.8,1238.6 1475.3,1237.2 1475.9,1235.8 1476.4,1237.3 1477.0,1238.8 1477.5,1238.1 1478.1,1237.4 1478.6,1236.6 1479.1,1235.7 1479.7,1237.0 1480.2,1238.3 1480.8,1238.0 1481.3,1237.7 1481.9,1237.9 1482.4,1238.1 1483.0,1237.5 1483.5,1236.9 1484.0,1237.4 1484.6,1237.8 1485.1,1237.8 1485.7,1237.9 1486.2,1239.1 1486.8,1240.4 1487.3,1238.4 1487.8,1236.5 1488.4,1237.2 1488.9,1237.9 1489.5,1238.4 1490.0,1238.8 1490.6,1237.2 1491.1,1235.6 1491.7,1235.7 1492.2,1235.8 1492.7,1238.9 1493.3,1242.0 1493.8,1238.7 1494.4,1235.5 1494.9,1237.4 1495.5,1239.3 1496.0,1238.0 1496.5,1236.8 1497.1,1236.7 1497.6,1236.7 1498.2,1235.6 1498.7,1234.6 1499.3,1235.5 1499.8,1236.6 1500.4,1238.2 1500.9,1239.8 1501.4,1238.3 1502.0,1236.8 1502.5,1238.7 1503.1,1240.5 1503.6,1240.4 1504.2,1240.2 1504.7,1241.7 1505.2,1243.1 1505.8,1241.1 1506.3,1239.1 1506.9,1240.5 1507.4,1242.0 1508.0,1241.7 1508.5,1241.4 1509.0,1240.4 1509.6,1239.4 1510.1,1238.2 1510.7,1236.9 1511.2,1239.3 1511.8,1241.8 1512.3,1239.2 1512.9,1236.7 1513.4,1237.2 1513.9,1237.8 1514.5,1238.7 1515.0,1239.6 1515.6,1239.6 1516.1,1239.5 1516.7,1237.7 1517.2,1235.8 1517.7,1236.1 1518.3,1236.4 1518.8,1235.8 1519.4,1235.2 1519.9,1235.8 1520.5,1236.3 1521.0,1236.5 1521.6,1236.3 1522.1,1230.5 1522.6,1223.0 1523.2,1218.5 1523.7,1207.7 1524.3,1179.4 1524.8,1148.0 1525.4,1158.2 1525.9,1189.8 1526.4,1208.7 1527.0,1217.9 1527.5,1225.1 1528.1,1228.6 1528.6,1224.0 1529.2,1214.2 1529.7,1200.1 1530.3,1193.8 1530.8,1206.4 1531.3,1219.8 1531.9,1227.4 1532.4,1231.3 1533.0,1234.1 1533.5,1236.0 1534.1,1236.5 1534.6,1236.8 1535.1,1237.8 1535.7,1238.7 1536.2,1239.5 1536.8,1240.2 1537.3,1239.4 1537.9,1238.7 1538.4,1237.1 1539.0,1235.6 1539.5,1235.4 1540.0,1235.3 1540.6,1236.2 1541.1,1237.1 1541.7,1238.7 1542.2,1240.2 1542.8,1239.1 1543.3,1238.0 1543.8,1237.7 1544.4,1237.4 1544.9,1237.9 1545.5,1238.4 1546.0,1237.0 1546.6,1235.6 1547.1,1235.6 1547.6,1235.7 1548.2,1236.8 1548.7,1237.9 1549.3,1237.1 1549.8,1236.2 1550.4,1235.9 1550.9,1235.6 1551.5,1235.9 1552.0,1236.3 1552.5,1235.2 1553.1,1234.0 1553.6,1233.4 1554.2,1232.6 1554.7,1231.9 1555.3,1231.0 1555.8,1230.5 1556.3,1229.6 1556.9,1226.7 1557.4,1222.7 1558.0,1216.4 1558.5,1206.5 1559.1,1191.3 1559.6,1160.4 1560.2,1102.9 1560.7,1028.6 1561.2,1024.0 1561.8,1098.1 1562.3,1154.2 1562.9,1183.1 1563.4,1198.9 1564.0,1204.3 1564.5,1199.2 1565.0,1182.5 1565.6,1152.3 1566.1,1122.2 1566.7,1136.3 1567.2,1174.8 1567.8,1202.8 1568.3,1218.0 1568.9,1224.5 1569.4,1227.9 1569.9,1229.7 1570.5,1230.8 1571.0,1232.3 1571.6,1233.4 1572.1,1235.1 1572.7,1236.5 1573.2,1237.0 1573.7,1237.4 1574.3,1239.3 1574.8,1241.1 1575.4,1240.7 1575.9,1240.2 1576.5,1238.0 1577.0,1235.7 1577.6,1236.9 1578.1,1238.0 1578.6,1236.5 1579.2,1235.0 1579.7,1234.5 1580.3,1234.1 1580.8,1236.0 1581.4,1237.9 1581.9,1237.8 1582.4,1237.9 1583.0,1236.9 1583.5,1235.9 1584.1,1238.3 1584.6,1240.6 1585.2,1238.7 1585.7,1236.8 1586.2,1236.7 1586.8,1236.6 1587.3,1238.0 1587.9,1239.3 1588.4,1238.9 1589.0,1238.4 1589.5,1237.9 1590.1,1237.3 1590.6,1237.1 1591.1,1236.7 1591.7,1236.4 1592.2,1235.9 1592.8,1234.6 1593.3,1232.8 1593.9,1230.7 1594.4,1227.4 1594.9,1221.0 1595.5,1212.4 1596.0,1203.7 1596.6,1195.6 1597.1,1195.0 1597.7,1202.6 1598.2,1210.1 1598.8,1216.3 1599.3,1222.3 1599.8,1225.6 1600.4,1226.3 1600.9,1225.0 1601.5,1220.2 1602.0,1215.5 1602.6,1215.8 1603.1,1220.0 1603.6,1226.6 1604.2,1232.4 1604.7,1234.4 1605.3,1235.4 1605.8,1237.7 1606.4,1239.6 1606.9,1240.1 1607.5,1240.4 1608.0,1240.2 1608.5,1239.9 1609.1,1239.5 1609.6,1239.0 1610.2,1238.6 1610.7,1238.1 1611.3,1237.9 1611.8,1237.6 1612.3,1238.7 1612.9,1239.8 1613.4,1239.6 1614.0,1239.5 1614.5,1238.8 1615.1,1238.2 1615.6,1238.9 1616.2,1239.6 1616.7,1238.4 1617.2,1237.3 1617.8,1238.6 1618.3,1240.0 1618.9,1239.2 1619.4,1238.5 1620.0,1238.6 1620.5,1238.8 1621.0,1239.0 1621.6,1239.3 1622.1,1239.4 1622.7,1239.5 1623.2,1241.5 1623.8,1243.6 1624.3,1240.5 1624.8,1237.3 1625.4,1238.7 1625.9,1240.1 1626.5,1240.9 1627.0,1241.8 1627.6,1241.4 1628.1,1241.0 1628.7,1240.3 1629.2,1239.5 1629.7,1241.0 1630.3,1242.6 1630.8,1240.4 1631.4,1238.3 1631.9,1238.2 1632.5,1238.0 1633.0,1239.5 1633.5,1241.1 1634.1,1239.6 1634.6,1238.1 1635.2,1237.5 1635.7,1236.8 1636.3,1239.3 1636.8,1241.8 1637.4,1241.7 1637.9,1241.6 1638.4,1241.6 1639.0,1241.6 1639.5,1240.6 1640.1,1239.7 1640.6,1240.1 1641.2,1240.6 1641.7,1239.6 1642.2,1238.6 1642.8,1240.6 1643.3,1242.6 1643.9,1241.8 1644.4,1241.1 1645.0,1241.1 1645.5,1241.2 1646.1,1239.3 1646.6,1237.4 1647.1,1239.6 1647.7,1241.7 1648.2,1242.3 1648.8,1242.8 1649.3,1242.5 1649.9,1242.2 1650.4,1241.8 1650.9,1241.4 1651.5,1240.8 1652.0,1240.1 1652.6,1239.9 1653.1,1239.6 1653.7,1240.4 1654.2,1241.2 1654.8,1241.0 1655.3,1240.9 1655.8,1240.8 1656.4,1240.7 1656.9,1240.2 1657.5,1239.7 1658.0,1241.1 1658.6,1242.5 1659.1,1240.3 1659.6,1238.1 1660.2,1239.0 1660.7,1239.8 1661.3,1239.4 1661.8,1239.0 1662.4,1240.2 1662.9,1241.4 1663.5,1241.7 1664.0,1241.9 1664.5,1241.8 1665.1,1241.6 1665.6,1241.2 1666.2,1240.7 1666.7,1239.1 1667.3,1237.4 1667.8,1239.9 1668.3,1242.4 1668.9,1241.1 1669.4,1239.9 1670.0,1239.4 1670.5,1238.9 1671.1,1239.0 1671.6,1239.1 1672.1,1238.9 1672.7,1238.8 1673.2,1239.5 1673.8,1240.3 1674.3,1240.4 1674.9,1240.5 1675.4,1240.2 1676.0,1239.9 1676.5,1238.3 1677.0,1236.8 1677.6,1238.7 1678.1,1240.6 1678.7,1241.0 1679.2,1241.3 1679.8,1241.3 1680.3,1241.4 1680.8,1240.9 1681.4,1240.4 1681.9,1240.9 1682.5,1241.4 1683.0,1241.9 1683.6,1242.4 1684.1,1241.4 1684.7,1240.4 1685.2,1241.8 1685.7,1243.2 1686.3,1240.6 1686.8,1237.9 1687.4,1238.3 1687.9,1238.5 1688.5,1238.6 1689.0,1238.7 1689.5,1237.4 1690.1,1236.2 1690.6,1237.2 1691.2,1238.3 1691.7,1240.1 1692.3,1241.9 1692.8,1242.0 1693.4,1242.2 1693.9,1241.6 1694.4,1241.0 1695.0,1242.3 1695.5,1243.7 1696.1,1242.7 1696.6,1241.6 1697.2,1241.1 1697.7,1240.5 1698.2,1240.9 1698.8,1241.4 1699.3,1241.0 1699.9,1240.7 1700.4,1241.4 1701.0,1242.1 1701.5,1240.5 1702.1,1238.9 1702.6,1240.8 1703.1,1242.6 1703.7,1241.4 1704.2,1240.3 1704.8,1241.2 1705.3,1242.0 1705.9,1240.2 1706.4,1238.4 1706.9,1239.2 1707.5,1240.0 1708.0,1240.4 1708.6,1240.8 1709.1,1241.5 1709.7,1242.2 1710.2,1240.7 1710.7,1239.2 1711.3,1241.3 1711.8,1243.3 1712.4,1242.4 1712.9,1241.5 1713.5,1240.8 1714.0,1240.1 1714.6,1241.4 1715.1,1242.8 1715.6,1242.2 1716.2,1241.5 1716.7,1242.5 1717.3,1243.4 1717.8,1244.3 1718.4,1245.3 1718.9,1244.3 1719.4,1243.2 1720.0,1242.3 1720.5,1241.4 1721.1,1241.4 1721.6,1241.4 1722.2,1242.0 1722.7,1242.6 1723.3,1242.1 1723.8,1241.7 1724.3,1240.6 1724.9,1239.6 1725.4,1239.5 1726.0,1239.5 1726.5,1240.4 1727.1,1241.2 1727.6,1242.4 1728.1,1243.6 1728.7,1240.1 1729.2,1236.5 1729.8,1239.0 1730.3,1241.4 1730.9,1240.8 1731.4,1240.3 1732.0,1241.1 1732.5,1241.9 1733.0,1242.1 1733.6,1242.2 1734.1,1241.7 1734.7,1241.2 1735.2,1240.5 1735.8,1239.7 1736.3,1239.4 1736.8,1239.0 1737.4,1238.6 1737.9,1238.3 1738.5,1240.4 1739.0,1242.6 1739.6,1241.6 1740.1,1240.6 1740.7,1240.3 1741.2,1240.1 1741.7,1240.3 1742.3,1240.5 1742.8,1239.8 1743.4,1239.0 1743.9,1240.2 1744.5,1241.4 1745.0,1242.2 1745.5,1242.9 1746.1,1242.7 1746.6,1242.6 1747.2,1240.6 1747.7,1238.6 1748.3,1240.6 1748.8,1242.6 1749.3,1241.0 1749.9,1239.5 1750.4,1238.6 1751.0,1237.8 1751.5,1238.3 1752.1,1238.8 1752.6,1238.9 1753.2,1239.1 1753.7,1239.7 1754.2,1240.4 1754.8,1239.6 1755.3,1238.9 1755.9,1238.7 1756.4,1238.4 1757.0,1239.4 1757.5,1240.3 1758.0,1241.9 1758.6,1243.5 1759.1,1241.6 1759.7,1239.8 1760.2,1240.5 1760.8,1241.3 1761.3,1240.9 1761.9,1240.7 1762.4,1242.5 1762.9,1244.4 1763.5,1241.3 1764.0,1238.2 1764.6,1240.4 1765.1,1242.6 1765.7,1241.0 1766.2,1239.3 1766.7,1239.8 1767.3,1240.4 1767.8,1240.8 1768.4,1241.2 1768.9,1243.6 1769.5,1246.0 1770.0,1243.3 1770.6,1240.6 1771.1,1239.9 1771.6,1239.1 1772.2,1241.3 1772.7,1243.5 1773.3,1242.0 1773.8,1240.5 1774.4,1241.0 1774.9,1241.6 1775.4,1241.9 1776.0,1242.2 1776.5,1242.5 1777.1,1242.7 1777.6,1242.5 1778.2,1242.3 1778.7,1242.6 1779.3,1242.7 1779.8,1242.7 1780.3,1242.6 1780.9,1242.8 1781.4,1243.1 1782.0,1242.2 1782.5,1241.3 1783.1,1241.1 1783.6,1240.8 1784.1,1240.5 1784.7,1240.2 1785.2,1241.2 1785.8,1242.2 1786.3,1241.6 1786.9,1241.0 1787.4,1241.2 1787.9,1241.5 1788.5,1241.4 1789.0,1241.3 1789.6,1242.1 1790.1,1242.8 1790.7,1241.8 1791.2,1240.8 1791.8,1241.2 1792.3,1241.6 1792.8,1240.3 1793.4,1238.9 1793.9,1238.9 1794.5,1239.0 1795.0,1239.5 1795.6,1240.0 1796.1,1239.4 1796.6,1238.9 1797.2,1240.3 1797.7,1241.8 1798.3,1240.6 1798.8,1239.4 1799.4,1240.6 1799.9,1241.8 1800.5,1240.2 1801.0,1238.6 1801.5,1239.7 1802.1,1240.7 1802.6,1241.3 1803.2,1241.8 1803.7,1241.7 1804.3,1241.6 1804.8,1240.3 1805.3,1238.8 1805.9,1239.7 1806.4,1240.5 1807.0,1240.4 1807.5,1240.2 1808.1,1239.2 1808.6,1238.1 1809.2,1236.4 1809.7,1235.0 1810.2,1235.0 1810.8,1235.4 1811.3,1235.6 1811.9,1235.9 1812.4,1237.9 1813.0,1239.8 1813.5,1240.9 1814.0,1241.8 1814.6,1240.8 1815.1,1239.8 1815.7,1239.3 1816.2,1238.7 1816.8,1240.3 1817.3,1241.8 1817.9,1242.4 1818.4,1242.9 1818.9,1240.7 1819.5,1238.4 1820.0,1240.3 1820.6,1242.2 1821.1,1243.5 1821.7,1244.8 1822.2,1243.8 1822.7,1242.8 1823.3,1242.5 1823.8,1242.3 1824.4,1242.1 1824.9,1242.0 1825.5,1242.4 1826.0,1242.7 1826.6,1241.3 1827.1,1240.0 1827.6,1240.0 1828.2,1240.1 1828.7,1241.0 1829.3,1241.9 1829.8,1241.3 1830.4,1240.6 1830.9,1241.4 1831.4,1242.1 1832.0,1240.8 1832.5,1239.6 1833.1,1241.5 1833.6,1243.4 1834.2,1243.6 1834.7,1243.7 1835.2,1243.2 1835.8,1242.7 1836.3,1242.7 1836.9,1242.8 1837.4,1243.8 1838.0,1244.8 1838.5,1243.0 1839.1,1241.3 1839.6,1241.4 1840.1,1241.5 1840.7,1241.4 1841.2,1241.3 1841.8,1241.7 1842.3,1242.1 1842.9,1241.6 1843.4,1241.2 1843.9,1241.8 1844.5,1242.4 1845.0,1241.9 1845.6,1241.3 1846.1,1240.8 1846.7,1240.2 1847.2,1240.1 1847.8,1240.2 1848.3,1242.1 1848.8,1244.1 1849.4,1243.5 1849.9,1242.9 1850.5,1243.0 1851.0,1243.0 1851.6,1243.3 1852.1,1243.6 1852.6,1243.5 1853.2,1243.4 1853.7,1243.9 1854.3,1244.3 1854.8,1244.1 1855.4,1243.8 1855.9,1242.9 1856.5,1242.0 1857.0,1241.7 1857.5,1241.4 1858.1,1241.1 1858.6,1240.9 1859.2,1240.8 1859.7,1240.8 1860.3,1242.7 1860.8,1244.6 1861.3,1243.3 1861.9,1242.0 1862.4,1241.4 1863.0,1240.8 1863.5,1241.7 1864.1,1242.5 1864.6,1242.6 1865.2,1242.7 1865.7,1243.4 1866.2,1244.2 1866.8,1243.4 1867.3,1242.5 1867.9,1243.4 1868.4,1244.2 1869.0,1244.0 1869.5,1243.8"/>
<polyline fill="none" stroke="#ff0000" stroke-width="4.0" stroke-linejoin="round" stroke-linecap="butt" shape-rendering="crispEdges" points="238.5,1057.8 239.0,1056.7 239.6,1055.6 240.1,1056.0 240.7,1056.4 241.2,1053.0 241.8,1049.6 242.3,1057.4 242.8,1065.1 243.4,1064.1 243.9,1063.0 244.5,1060.5 245.0,1058.0 245.6,1060.0 246.1,1062.1 246.7,1061.3 247.2,1060.5 247.7,1059.2 248.3,1057.9 248.8,1060.8 249.4,1063.8 249.9,1061.7 250.5,1059.6 251.0,1059.7 251.5,1059.8 252.1,1059.0 252.6,1058.2 253.2,1060.4 253.7,1062.7 254.3,1061.8 254.8,1060.9 255.4,1062.2 255.9,1063.6 256.4,1061.7 257.0,1059.9 257.5,1061.4 258.1,1062.9 258.6,1061.2 259.2,1059.4 259.7,1062.6 260.2,1065.7 260.8,1064.5 261.3,1063.4 261.9,1063.7 262.4,1064.0 263.0,1064.2 263.5,1064.5 264.1,1062.1 264.6,1059.7 265.1,1063.0 265.7,1066.3 266.2,1068.6 266.8,1071.0 267.3,1064.4 267.9,1057.8 268.4,1057.6 268.9,1057.4 269.5,1057.8 270.0,1058.3 270.6,1062.6 271.1,1066.9 271.7,1065.9 272.2,1065.0 272.8,1067.0 273.3,1069.0 273.8,1068.6 274.4,1068.3 274.9,1067.6 275.5,1066.9 276.0,1067.2 276.6,1067.6 277.1,1066.9 277.6,1066.2 278.2,1068.1 278.7,1069.9 279.3,1066.3 279.8,1062.7 280.4,1063.9 280.9,1065.0 281.4,1066.2 282.0,1067.3 282.5,1070.1 283.1,1072.9 283.6,1068.4 284.2,1064.0 284.7,1063.5 285.3,1063.1 285.8,1064.1 286.3,1065.1 286.9,1067.9 287.4,1070.7 288.0,1068.6 288.5,1066.6 289.1,1069.4 289.6,1072.3 290.1,1066.7 290.7,1061.2 291.2,1066.6 291.8,1072.0 292.3,1072.0 292.9,1071.9 293.4,1067.7 294.0,1063.5 294.5,1066.4 295.0,1069.4 295.6,1071.4 296.1,1073.4 296.7,1071.6 297.2,1069.8 297.8,1071.5 298.3,1073.3 298.8,1075.8 299.4,1078.4 299.9,1074.8 300.5,1071.3 301.0,1070.4 301.6,1069.5 302.1,1068.8 302.7,1068.1 303.2,1070.7 303.7,1073.3 304.3,1072.0 304.8,1070.7 305.4,1070.9 305.9,1071.2 306.5,1071.5 307.0,1071.9 307.5,1073.4 308.1,1074.9 308.6,1072.0 309.2,1069.1 309.7,1068.3 310.3,1067.4 310.8,1065.7 311.4,1064.1 311.9,1070.4 312.4,1076.7 313.0,1074.7 313.5,1072.8 314.1,1075.4 314.6,1078.0 315.2,1075.5 315.7,1073.0 316.2,1071.9 316.8,1070.8 317.3,1073.1 317.9,1075.3 318.4,1074.4 319.0,1073.5 319.5,1071.4 320.0,1069.4 320.6,1070.0 321.1,1070.7 321.7,1075.3 322.2,1080.0 322.8,1077.7 323.3,1075.3 323.9,1075.6 324.4,1075.9 324.9,1074.8 325.5,1073.7 326.0,1073.1 326.6,1072.4 327.1,1075.2 327.7,1077.9 328.2,1076.1 328.7,1074.3 329.3,1073.1 329.8,1071.9 330.4,1073.0 330.9,1074.2 331.5,1072.9 332.0,1071.7 332.6,1073.8 333.1,1075.8 333.6,1077.5 334.2,1079.2 334.7,1075.9 335.3,1072.6 335.8,1076.6 336.4,1080.6 336.9,1077.2 337.4,1073.7 338.0,1075.4 338.5,1077.1 339.1,1075.6 339.6,1074.2 340.2,1075.6 340.7,1076.9 341.3,1077.6 341.8,1078.3 342.3,1077.7 342.9,1077.0 343.4,1076.6 344.0,1076.2 344.5,1076.2 345.1,1076.2 345.6,1075.9 346.1,1075.6 346.7,1074.2 347.2,1072.8 347.8,1074.9 348.3,1077.0 348.9,1078.0 349.4,1079.1 350.0,1080.0 350.5,1081.0 351.0,1080.7 351.6,1080.4 352.1,1083.7 352.7,1087.0 353.2,1083.5 353.8,1079.9 354.3,1078.7 354.8,1077.4 355.4,1081.5 355.9,1085.6 356.5,1080.6 357.0,1075.7 357.6,1079.2 358.1,1082.7 358.7,1079.5 359.2,1076.2 359.7,1078.6 360.3,1080.9 360.8,1077.1 361.4,1073.2 361.9,1078.3 362.5,1083.3 363.0,1081.6 363.5,1079.9 364.1,1078.6 364.6,1077.2 365.2,1081.7 365.7,1086.1 366.3,1084.4 366.8,1082.7 367.3,1081.3 367.9,1080.0 368.4,1078.6 369.0,1077.3 369.5,1078.7 370.1,1080.0 370.6,1080.0 371.2,1080.1 371.7,1081.9 372.2,1083.7 372.8,1084.0 373.3,1084.4 373.9,1082.0 374.4,1079.6 375.0,1079.9 375.5,1080.1 376.0,1080.1 376.6,1080.1 377.1,1078.6 377.7,1077.2 378.2,1078.5 378.8,1079.8 379.3,1080.8 379.9,1081.8 380.4,1083.3 380.9,1084.8 381.5,1086.0 382.0,1087.2 382.6,1083.7 383.1,1080.1 383.7,1082.5 384.2,1084.8 384.7,1083.1 385.3,1081.4 385.8,1085.6 386.4,1089.9 386.9,1086.3 387.5,1082.7 388.0,1083.7 388.6,1084.7 389.1,1082.4 389.6,1080.1 390.2,1080.5 390.7,1080.9 391.3,1082.8 391.8,1084.8 392.4,1084.0 392.9,1083.2 393.4,1084.7 394.0,1086.1 394.5,1082.9 395.1,1079.7 395.6,1083.4 396.2,1087.0 396.7,1084.1 397.3,1081.2 397.8,1085.4 398.3,1089.7 398.9,1086.2 399.4,1082.8 400.0,1085.2 400.5,1087.7 401.1,1083.7 401.6,1079.7 402.1,1083.0 402.7,1086.3 403.2,1084.3 403.8,1082.2 404.3,1083.1 404.9,1083.9 405.4,1084.8 405.9,1085.8 406.5,1085.2 407.0,1084.6 407.6,1085.6 408.1,1086.6 408.7,1087.4 409.2,1088.3 409.8,1088.3 410.3,1088.3 410.8,1087.2 411.4,1086.1 411.9,1084.1 412.5,1082.0 413.0,1083.0 413.6,1084.0 414.1,1085.1 414.6,1086.1 415.2,1082.8 415.7,1079.5 416.3,1084.3 416.8,1089.1 417.4,1087.4 417.9,1085.7 418.5,1085.6 419.0,1085.6 419.5,1087.5 420.1,1089.5 420.6,1089.0 421.2,1088.5 421.7,1087.8 422.3,1087.1 422.8,1085.1 423.3,1083.2 423.9,1085.6 424.4,1088.0 425.0,1088.3 425.5,1088.5 426.1,1086.7 426.6,1084.8 427.2,1088.1 427.7,1091.5 428.2,1090.7 428.8,1090.0 429.3,1086.0 429.9,1081.9 430.4,1085.5 431.0,1089.1 431.5,1086.8 432.0,1084.5 432.6,1088.5 433.1,1092.5 433.7,1091.9 434.2,1091.3 434.8,1088.0 435.3,1084.7 435.9,1085.0 436.4,1085.4 436.9,1087.0 437.5,1088.8 438.0,1088.3 438.6,1087.9 439.1,1091.0 439.7,1094.1 440.2,1092.9 440.7,1091.7 441.3,1090.0 441.8,1088.3 442.4,1089.7 442.9,1091.1 443.5,1086.8 444.0,1082.5 444.5,1086.4 445.1,1090.4 445.6,1091.4 446.2,1092.4 446.7,1090.8 447.3,1089.2 447.8,1088.5 448.4,1087.8 448.9,1090.1 449.4,1092.4 450.0,1094.9 450.5,1097.4 451.1,1094.6 451.6,1091.8 452.2,1089.7 452.7,1087.6 453.2,1091.8 453.8,1096.1 454.3,1090.6 454.9,1085.0 455.4,1089.0 456.0,1092.9 456.5,1091.1 457.1,1089.3 457.6,1091.8 458.1,1094.3 458.7,1091.4 459.2,1088.4 459.8,1092.0 460.3,1095.6 460.9,1094.0 461.4,1092.4 461.9,1089.2 462.5,1086.0 463.0,1085.8 463.6,1085.6 464.1,1088.5 464.7,1091.4 465.2,1094.2 465.8,1096.9 466.3,1095.0 466.8,1093.1 467.4,1093.0 467.9,1092.9 468.5,1092.3 469.0,1091.8 469.6,1093.3 470.1,1094.8 470.6,1094.2 471.2,1093.5 471.7,1093.4 472.3,1093.2 472.8,1091.1 473.4,1089.0 473.9,1092.6 474.5,1096.2 475.0,1096.5 475.5,1096.9 476.1,1092.6 476.6,1088.3 477.2,1094.3 477.7,1100.3 478.3,1097.8 478.8,1095.3 479.3,1093.5 479.9,1091.6 480.4,1089.4 481.0,1087.2 481.5,1091.4 482.1,1095.7 482.6,1095.6 483.1,1095.5 483.7,1093.6 484.2,1091.8 484.8,1089.9 485.3,1088.0 485.9,1092.9 486.4,1097.7 487.0,1095.0 487.5,1092.2 488.0,1092.4 488.6,1092.6 489.1,1098.0 489.7,1103.3 490.2,1102.1 490.8,1100.8 491.3,1098.8 491.8,1096.9 492.4,1094.6 492.9,1092.3 493.5,1094.1 494.0,1096.0 494.6,1091.2 495.1,1086.5 495.7,1090.4 496.2,1094.3 496.7,1092.9 497.3,1091.6 497.8,1090.7 498.4,1089.9 498.9,1089.5 499.5,1089.0 500.0,1092.5 500.5,1096.0 501.1,1095.3 501.6,1094.7 502.2,1095.0 502.7,1095.3 503.3,1096.6 503.8,1097.9 504.4,1095.4 504.9,1092.9 505.4,1092.4 506.0,1092.0 506.5,1091.3 507.1,1090.6 507.6,1093.1 508.2,1095.6 508.7,1097.5 509.2,1099.4 509.8,1097.9 510.3,1096.5 510.9,1097.7 511.4,1098.9 512.0,1095.9 512.5,1092.8 513.1,1093.8 513.6,1094.8 514.1,1094.2 514.7,1093.6 515.2,1092.7 515.8,1091.8 516.3,1096.8 516.9,1101.8 517.4,1100.3 517.9,1098.7 518.5,1096.2 519.0,1093.6 519.6,1093.7 520.1,1093.7 520.7,1094.9 521.2,1096.0 521.8,1093.8 522.3,1091.5 522.8,1094.6 523.4,1097.7 523.9,1094.9 524.5,1092.1 525.0,1093.6 525.6,1095.1 526.1,1094.0 526.6,1092.9 527.2,1093.7 527.7,1094.6 528.3,1093.2 528.8,1091.9 529.4,1091.6 529.9,1091.2 530.4,1092.3 531.0,1093.3 531.5,1093.8 532.1,1094.2 532.6,1094.8 533.2,1095.4 533.7,1095.9 534.3,1096.4 534.8,1098.7 535.3,1101.1 535.9,1099.9 536.4,1098.8 537.0,1097.1 537.5,1095.5 538.1,1097.1 538.6,1098.7 539.1,1096.4 539.7,1094.0 540.2,1097.3 540.8,1100.6 541.3,1099.0 541.9,1097.4 542.4,1094.2 543.0,1091.0 543.5,1094.4 544.0,1097.7 544.6,1097.8 545.1,1097.9 545.7,1092.3 546.2,1086.6 546.8,1089.8 547.3,1092.9 547.8,1093.4 548.4,1093.9 548.9,1091.6 549.5,1089.3 550.0,1090.6 550.6,1091.9 551.1,1091.9 551.7,1091.8 552.2,1093.9 552.7,1096.0 553.3,1095.3 553.8,1094.8 554.4,1098.4 554.9,1102.1 555.5,1097.1 556.0,1092.0 556.5,1094.5 557.1,1096.9 557.6,1094.9 558.2,1092.8 558.7,1092.6 559.3,1092.4 559.8,1089.3 560.4,1086.1 560.9,1083.8 561.4,1081.4 562.0,1082.2 562.5,1082.8 563.1,1083.9 563.6,1085.0 564.2,1084.5 564.7,1083.7 565.2,1079.1 565.8,1073.6 566.3,1068.6 566.9,1061.8 567.4,1049.9 568.0,1033.5 568.5,1018.9 569.0,992.5 569.6,932.2 570.1,813.5 570.7,587.8 571.2,299.8 571.8,273.0 572.3,484.9 572.9,592.7 573.4,569.5 573.9,617.5 574.5,784.1 575.0,908.0 575.6,977.8 576.1,1015.5 576.7,1036.4 577.2,1051.3 577.7,1061.8 578.3,1068.5 578.8,1073.6 579.4,1075.8 579.9,1077.2 580.5,1078.1 581.0,1078.6 581.6,1080.1 582.1,1081.4 582.6,1081.7 583.2,1081.9 583.7,1086.4 584.3,1090.7 584.8,1094.2 585.4,1097.6 585.9,1091.5 586.4,1085.5 587.0,1088.9 587.5,1092.3 588.1,1093.1 588.6,1093.8 589.2,1091.7 589.7,1089.7 590.3,1091.8 590.8,1093.8 591.3,1091.8 591.9,1089.8 592.4,1093.6 593.0,1097.5 593.5,1094.8 594.1,1092.1 594.6,1093.4 595.1,1094.8 595.7,1095.9 596.2,1097.1 596.8,1095.5 597.3,1093.9 597.9,1092.0 598.4,1090.0 599.0,1092.2 599.5,1094.3 600.0,1096.5 600.6,1098.7 601.1,1097.5 601.7,1096.2 602.2,1096.8 602.8,1097.3 603.3,1095.2 603.8,1093.0 604.4,1094.8 604.9,1096.6 605.5,1097.4 606.0,1098.2 606.6,1096.9 607.1,1095.7 607.6,1098.6 608.2,1101.4 608.7,1097.9 609.3,1094.5 609.8,1093.0 610.4,1091.5 610.9,1090.4 611.5,1089.3 612.0,1093.4 612.5,1097.5 613.1,1095.3 613.6,1093.2 614.2,1094.7 614.7,1096.3 615.3,1095.5 615.8,1094.7 616.3,1096.7 616.9,1098.7 617.4,1098.2 618.0,1097.7 618.5,1095.1 619.1,1092.4 619.6,1093.2 620.2,1093.9 620.7,1094.7 621.2,1095.5 621.8,1091.0 622.3,1086.4 622.9,1089.9 623.4,1093.3 624.0,1091.7 624.5,1089.7 625.0,1087.2 625.6,1083.9 626.1,1077.7 626.7,1069.3 627.2,1060.4 627.8,1045.5 628.3,1016.6 628.9,974.0 629.4,929.2 629.9,900.0 630.5,905.8 631.0,931.3 631.6,950.8 632.1,960.3 632.7,975.0 633.2,1002.4 633.7,1031.8 634.3,1053.1 634.8,1067.6 635.4,1077.2 635.9,1077.9 636.5,1077.1 637.0,1083.6 637.6,1089.3 638.1,1085.9 638.6,1082.4 639.2,1083.2 639.7,1083.8 640.3,1087.9 640.8,1091.8 641.4,1092.6 641.9,1093.3 642.4,1094.4 643.0,1095.4 643.5,1092.3 644.1,1089.2 644.6,1091.8 645.2,1094.3 645.7,1094.6 646.2,1094.9 646.8,1096.7 647.3,1098.5 647.9,1096.4 648.4,1094.3 649.0,1095.3 649.5,1096.2 650.1,1093.8 650.6,1091.5 651.1,1092.7 651.7,1093.9 652.2,1093.6 652.8,1093.2 653.3,1095.1 653.9,1097.0 654.4,1094.5 654.9,1092.0 655.5,1092.4 656.0,1092.7 656.6,1094.9 657.1,1097.1 657.7,1098.9 658.2,1100.7 658.8,1098.5 659.3,1096.3 659.8,1096.2 660.4,1096.2 660.9,1095.4 661.5,1094.5 662.0,1096.9 662.6,1099.3 663.1,1098.5 663.6,1097.7 664.2,1099.5 664.7,1101.3 665.3,1099.1 665.8,1096.8 666.4,1094.7 666.9,1092.6 667.5,1093.1 668.0,1093.6 668.5,1093.0 669.1,1092.4 669.6,1092.1 670.2,1091.8 670.7,1095.8 671.3,1099.8 671.8,1099.1 672.3,1098.4 672.9,1095.1 673.4,1091.7 674.0,1096.3 674.5,1100.8 675.1,1098.1 675.6,1095.4 676.2,1093.3 676.7,1091.1 677.2,1092.9 677.8,1094.7 678.3,1093.6 678.9,1092.4 679.4,1090.7 680.0,1088.9 680.5,1086.2 681.0,1083.2 681.6,1085.3 682.1,1087.2 682.7,1086.0 683.2,1084.5 683.8,1077.3 684.3,1069.6 684.9,1072.1 685.4,1074.2 685.9,1070.0 686.5,1064.8 687.0,1055.6 687.6,1044.0 688.1,1032.5 688.7,1016.0 689.2,989.0 689.7,947.1 690.3,874.5 690.8,735.9 691.4,473.1 691.9,40.1 692.5,-10.0 693.0,-10.0 693.5,275.3 694.1,386.2 694.6,314.3 695.2,307.1 695.7,537.0 696.3,761.6 696.8,891.0 697.4,958.8 697.9,998.6 698.4,1023.3 699.0,1037.4 699.5,1047.0 700.1,1056.9 700.6,1064.6 701.2,1071.4 701.7,1077.2 702.2,1081.1 702.8,1084.4 703.3,1084.6 703.9,1084.5 704.4,1092.7 705.0,1100.4 705.5,1095.4 706.1,1090.3 706.6,1092.1 707.1,1093.8 707.7,1093.8 708.2,1093.7 708.8,1094.0 709.3,1094.2 709.9,1097.4 710.4,1100.5 710.9,1098.2 711.5,1095.9 712.0,1099.0 712.6,1102.1 713.1,1102.1 713.7,1101.9 714.2,1098.7 714.8,1095.5 715.3,1098.8 715.8,1102.1 716.4,1099.6 716.9,1097.2 717.5,1102.5 718.0,1107.8 718.6,1103.3 719.1,1098.9 719.6,1098.3 720.2,1097.7 720.7,1096.6 721.3,1095.4 721.8,1096.5 722.4,1097.7 722.9,1098.9 723.5,1100.2 724.0,1099.7 724.5,1099.3 725.1,1099.1 725.6,1099.0 726.2,1100.0 726.7,1101.0 727.3,1102.0 727.8,1102.9 728.3,1105.6 728.9,1108.2 729.4,1103.7 730.0,1099.1 730.5,1100.9 731.1,1102.7 731.6,1102.1 732.1,1101.6 732.7,1100.7 733.2,1099.8 733.8,1100.2 734.3,1100.5 734.9,1101.0 735.4,1101.5 736.0,1103.9 736.5,1106.4 737.0,1105.1 737.6,1103.8 738.1,1103.3 738.7,1102.8 739.2,1104.5 739.8,1106.1 740.3,1105.5 740.8,1104.9 741.4,1104.2 741.9,1103.4 742.5,1104.4 743.0,1105.5 743.6,1103.9 744.1,1102.4 744.7,1104.9 745.2,1107.3 745.7,1107.4 746.3,1107.3 746.8,1106.2 747.4,1105.0 747.9,1103.9 748.5,1102.7 749.0,1106.8 749.5,1110.8 750.1,1108.8 750.6,1106.8 751.2,1111.2 751.7,1115.6 752.3,1110.3 752.8,1105.0 753.4,1107.2 753.9,1109.5 754.4,1107.6 755.0,1105.7 755.5,1106.7 756.1,1107.7 756.6,1108.5 757.2,1109.4 757.7,1107.0 758.2,1104.7 758.8,1105.8 759.3,1106.9 759.9,1107.3 760.4,1107.8 761.0,1107.8 761.5,1107.8 762.1,1108.6 762.6,1109.4 763.1,1110.1 763.7,1110.8 764.2,1110.6 764.8,1110.3 765.3,1109.5 765.9,1108.7 766.4,1107.8 766.9,1107.0 767.5,1105.8 768.0,1104.7 768.6,1105.2 769.1,1105.7 769.7,1105.9 770.2,1106.1 770.7,1107.8 771.3,1109.5 771.8,1108.0 772.4,1106.5 772.9,1105.3 773.5,1104.0 774.0,1106.8 774.6,1109.6 775.1,1107.5 775.6,1105.5 776.2,1105.6 776.7,1105.6 777.3,1106.4 777.8,1107.2 778.4,1108.2 778.9,1109.2 779.4,1105.1 780.0,1101.1 780.5,1103.1 781.1,1105.1 781.6,1107.1 782.2,1109.1 782.7,1108.5 783.3,1107.9 783.8,1107.2 784.3,1106.6 784.9,1107.1 785.4,1107.5 786.0,1110.2 786.5,1113.0 787.1,1110.3 787.6,1107.7 788.1,1109.4 788.7,1111.2 789.2,1111.4 789.8,1111.7 790.3,1110.1 790.9,1108.5 791.4,1110.0 792.0,1111.4 792.5,1110.3 793.0,1109.1 793.6,1108.9 794.1,1108.7 794.7,1107.9 795.2,1107.0 795.8,1109.8 796.3,1112.5 796.8,1110.6 797.4,1108.8 797.9,1108.7 798.5,1108.6 799.0,1108.0 799.6,1107.3 800.1,1111.7 800.7,1116.0 801.2,1114.6 801.7,1113.2 802.3,1112.0 802.8,1110.7 803.4,1109.9 803.9,1109.1 804.5,1107.9 805.0,1106.7 805.5,1109.2 806.1,1111.8 806.6,1111.7 807.2,1111.7 807.7,1109.3 808.3,1106.8 808.8,1110.5 809.3,1114.1 809.9,1113.4 810.4,1112.8 811.0,1110.3 811.5,1107.8 812.1,1108.3 812.6,1108.9 813.2,1109.2 813.7,1109.4 814.2,1110.4 814.8,1111.4 815.3,1111.2 815.9,1110.9 816.4,1109.0 817.0,1107.0 817.5,1111.6 818.0,1116.0 818.6,1114.5 819.1,1112.9 819.7,1114.2 820.2,1115.5 820.8,1115.4 821.3,1115.3 821.9,1113.1 822.4,1111.0 822.9,1111.8 823.5,1112.6 824.0,1113.2 824.6,1113.8 825.1,1114.0 825.7,1114.2 826.2,1113.1 826.7,1112.0 827.3,1111.5 827.8,1111.0 828.4,1112.0 828.9,1112.9 829.5,1111.7 830.0,1110.4 830.6,1110.6 831.1,1110.8 831.6,1108.5 832.2,1106.4 832.7,1109.3 833.3,1112.3 833.8,1110.8 834.4,1109.4 834.9,1110.2 835.4,1111.1 836.0,1112.0 836.5,1112.9 837.1,1113.6 837.6,1114.2 838.2,1116.6 838.7,1119.0 839.3,1116.8 839.8,1114.6 840.3,1112.5 840.9,1110.4 841.4,1112.7 842.0,1115.0 842.5,1114.2 843.1,1113.3 843.6,1114.8 844.1,1116.3 844.7,1114.9 845.2,1113.5 845.8,1113.6 846.3,1113.5 846.9,1113.8 847.4,1114.0 848.0,1113.8 848.5,1113.5 849.0,1111.7 849.6,1110.0 850.1,1111.5 850.7,1113.0 851.2,1113.9 851.8,1114.8 852.3,1116.5 852.8,1118.2 853.4,1116.2 853.9,1114.1 854.5,1114.0 855.0,1114.0 855.6,1115.3 856.1,1116.6 856.6,1116.5 857.2,1116.5 857.7,1117.9 858.3,1119.4 858.8,1117.9 859.4,1116.5 859.9,1115.7 860.5,1114.9 861.0,1116.9 861.5,1118.8 862.1,1119.1 862.6,1119.4 863.2,1116.7 863.7,1113.9 864.3,1114.8 864.8,1115.6 865.3,1113.1 865.9,1110.6 866.4,1112.4 867.0,1114.3 867.5,1113.7 868.1,1113.1 868.6,1114.1 869.2,1115.2 869.7,1115.0 870.2,1114.7 870.8,1115.3 871.3,1115.8 871.9,1116.1 872.4,1116.3 873.0,1117.2 873.5,1118.1 874.0,1117.8 874.6,1117.5 875.1,1116.4 875.7,1115.2 876.2,1114.1 876.8,1113.0 877.3,1116.3 877.9,1119.7 878.4,1120.0 878.9,1120.2 879.5,1117.7 880.0,1115.1 880.6,1116.5 881.1,1117.9 881.7,1115.0 882.2,1112.0 882.7,1111.9 883.3,1111.8 883.8,1113.5 884.4,1115.2 884.9,1117.6 885.5,1120.0 886.0,1116.6 886.6,1113.3 887.1,1113.8 887.6,1114.2 888.2,1117.7 888.7,1121.1 889.3,1116.4 889.8,1111.7 890.4,1115.2 890.9,1118.7 891.4,1118.5 892.0,1118.3 892.5,1117.4 893.1,1116.4 893.6,1116.9 894.2,1117.4 894.7,1120.7 895.2,1123.9 895.8,1118.7 896.3,1113.6 896.9,1114.6 897.4,1115.7 898.0,1115.8 898.5,1116.0 899.1,1115.5 899.6,1115.0 900.1,1114.3 900.7,1113.6 901.2,1117.7 901.8,1121.8 902.3,1120.0 902.9,1118.2 903.4,1115.5 903.9,1112.8 904.5,1114.2 905.0,1115.6 905.6,1117.0 906.1,1118.5 906.7,1118.5 907.2,1118.5 907.8,1116.1 908.3,1113.7 908.8,1115.7 909.4,1117.6 909.9,1118.1 910.5,1118.6 911.0,1118.7 911.6,1118.7 912.1,1118.5 912.6,1118.3 913.2,1115.1 913.7,1111.9 914.3,1116.7 914.8,1121.5 915.4,1119.3 915.9,1117.2 916.5,1119.5 917.0,1121.8 917.5,1123.5 918.1,1125.1 918.6,1121.1 919.2,1117.2 919.7,1115.8 920.3,1114.4 920.8,1117.2 921.3,1120.1 921.9,1118.7 922.4,1117.4 923.0,1117.1 923.5,1116.8 924.1,1116.1 924.6,1115.4 925.2,1119.1 925.7,1122.8 926.2,1119.9 926.8,1117.0 927.3,1115.6 927.9,1114.1 928.4,1115.2 929.0,1116.4 929.5,1115.3 930.0,1114.2 930.6,1116.0 931.1,1117.7 931.7,1116.9 932.2,1116.1 932.8,1115.3 933.3,1114.5 933.8,1116.7 934.4,1119.0 934.9,1117.4 935.5,1115.8 936.0,1117.6 936.6,1119.5 937.1,1120.2 937.7,1120.9 938.2,1118.7 938.7,1116.5 939.3,1116.1 939.8,1115.8 940.4,1116.9 940.9,1118.0 941.5,1119.0 942.0,1119.9 942.5,1118.7 943.1,1117.5 943.6,1117.8 944.2,1118.0 944.7,1117.9 945.3,1117.8 945.8,1118.3 946.4,1118.8 946.9,1119.3 947.4,1119.7 948.0,1118.0 948.5,1116.2 949.1,1116.5 949.6,1116.9 950.2,1117.6 950.7,1118.4 951.2,1117.6 951.8,1116.9 952.3,1118.1 952.9,1119.3 953.4,1119.9 954.0,1120.5 954.5,1119.7 955.1,1119.0 955.6,1118.1 956.1,1117.2 956.7,1116.9 957.2,1116.6 957.8,1119.8 958.3,1123.2 958.9,1122.0 959.4,1120.9 959.9,1118.3 960.5,1115.7 961.0,1116.1 961.6,1116.4 962.1,1119.9 962.7,1123.3 963.2,1122.7 963.8,1122.0 964.3,1120.0 964.8,1118.0 965.4,1119.2 965.9,1120.5 966.5,1117.0 967.0,1113.5 967.6,1115.4 968.1,1117.5 968.6,1118.5 969.2,1119.6 969.7,1116.3 970.3,1112.9 970.8,1114.4 971.4,1115.8 971.9,1117.7 972.4,1119.6 973.0,1119.9 973.5,1120.0 974.1,1117.2 974.6,1114.3 975.2,1114.5 975.7,1114.4 976.3,1114.5 976.8,1114.2 977.3,1109.1 977.9,1104.8 978.4,1104.0 979.0,1104.7 979.5,1108.8 980.1,1112.5 980.6,1113.4 981.1,1114.0 981.7,1116.9 982.2,1119.6 982.8,1118.4 983.3,1117.1 983.9,1115.9 984.4,1114.7 985.0,1119.0 985.5,1123.2 986.0,1119.2 986.6,1115.2 987.1,1116.2 987.7,1117.2 988.2,1117.0 988.8,1116.8 989.3,1116.3 989.8,1115.7 990.4,1114.0 990.9,1111.9 991.5,1110.8 992.0,1109.0 992.6,1104.3 993.1,1096.8 993.7,1082.2 994.2,1054.8 994.7,1012.3 995.3,964.0 995.8,970.4 996.4,1020.4 996.9,1055.0 997.5,1066.3 998.0,1058.7 998.5,1038.8 999.1,1033.2 999.6,1058.0 1000.2,1085.9 1000.7,1103.0 1001.3,1110.5 1001.8,1114.8 1002.4,1112.0 1002.9,1108.5 1003.4,1112.7 1004.0,1116.4 1004.5,1115.9 1005.1,1115.2 1005.6,1112.9 1006.2,1110.5 1006.7,1114.6 1007.2,1118.6 1007.8,1117.3 1008.3,1116.1 1008.9,1116.6 1009.4,1117.1 1010.0,1117.0 1010.5,1116.9 1011.1,1119.4 1011.6,1121.8 1012.1,1122.2 1012.7,1122.5 1013.2,1121.4 1013.8,1120.2 1014.3,1120.7 1014.9,1121.3 1015.4,1120.2 1015.9,1119.1 1016.5,1119.3 1017.0,1119.6 1017.6,1118.3 1018.1,1117.1 1018.7,1118.0 1019.2,1119.0 1019.7,1118.0 1020.3,1117.1 1020.8,1118.6 1021.4,1120.1 1021.9,1120.8 1022.5,1121.5 1023.0,1121.1 1023.6,1120.6 1024.1,1122.0 1024.6,1123.3 1025.2,1125.4 1025.7,1127.5 1026.3,1121.6 1026.8,1115.6 1027.4,1118.4 1027.9,1121.2 1028.4,1120.6 1029.0,1120.0 1029.5,1120.2 1030.1,1120.4 1030.6,1119.3 1031.2,1118.2 1031.7,1120.0 1032.3,1121.7 1032.8,1121.3 1033.3,1120.9 1033.9,1120.5 1034.4,1120.1 1035.0,1120.7 1035.5,1121.3 1036.1,1121.0 1036.6,1120.7 1037.1,1118.5 1037.7,1116.2 1038.2,1120.4 1038.8,1124.5 1039.3,1122.6 1039.9,1120.8 1040.4,1119.9 1041.0,1119.1 1041.5,1120.8 1042.0,1122.6 1042.6,1121.5 1043.1,1120.3 1043.7,1118.4 1044.2,1116.3 1044.8,1120.0 1045.3,1123.5 1045.8,1119.9 1046.4,1116.4 1046.9,1117.9 1047.5,1119.6 1048.0,1119.9 1048.6,1120.4 1049.1,1122.0 1049.7,1123.7 1050.2,1123.6 1050.7,1123.5 1051.3,1122.3 1051.8,1121.1 1052.4,1119.9 1052.9,1118.7 1053.5,1119.0 1054.0,1119.4 1054.5,1121.3 1055.1,1123.1 1055.6,1124.1 1056.2,1125.1 1056.7,1123.7 1057.3,1122.2 1057.8,1120.9 1058.3,1119.4 1058.9,1121.5 1059.4,1123.6 1060.0,1121.7 1060.5,1119.8 1061.1,1119.6 1061.6,1119.5 1062.2,1119.5 1062.7,1119.7 1063.2,1120.8 1063.8,1121.9 1064.3,1121.6 1064.9,1121.3 1065.4,1122.4 1066.0,1123.5 1066.5,1124.0 1067.0,1124.6 1067.6,1123.8 1068.1,1122.9 1068.7,1119.6 1069.2,1116.1 1069.8,1117.0 1070.3,1117.9 1070.9,1120.2 1071.4,1122.4 1071.9,1122.0 1072.5,1121.6 1073.0,1124.2 1073.6,1126.6 1074.1,1123.6 1074.7,1120.7 1075.2,1120.2 1075.7,1119.9 1076.3,1121.1 1076.8,1122.3 1077.4,1122.4 1077.9,1122.6 1078.5,1121.1 1079.0,1119.6 1079.6,1120.6 1080.1,1121.6 1080.6,1119.8 1081.2,1118.0 1081.7,1118.4 1082.3,1118.9 1082.8,1121.8 1083.4,1124.8 1083.9,1121.8 1084.4,1118.7 1085.0,1121.7 1085.5,1124.6 1086.1,1124.3 1086.6,1123.9 1087.2,1123.9 1087.7,1123.8 1088.3,1123.8 1088.8,1123.9 1089.3,1123.4 1089.9,1122.9 1090.4,1119.5 1091.0,1116.1 1091.5,1117.4 1092.1,1118.7 1092.6,1119.0 1093.1,1119.4 1093.7,1121.2 1094.2,1123.0 1094.8,1120.4 1095.3,1117.8 1095.9,1118.3 1096.4,1118.8 1096.9,1119.1 1097.5,1119.5 1098.0,1121.6 1098.6,1123.7 1099.1,1120.4 1099.7,1117.2 1100.2,1117.5 1100.8,1117.8 1101.3,1120.4 1101.8,1123.0 1102.4,1119.7 1102.9,1116.4 1103.5,1119.4 1104.0,1122.3 1104.6,1121.2 1105.1,1120.1 1105.6,1118.6 1106.2,1117.1 1106.7,1118.4 1107.3,1119.8 1107.8,1119.0 1108.4,1118.3 1108.9,1119.7 1109.5,1121.1 1110.0,1121.4 1110.5,1121.7 1111.1,1123.1 1111.6,1124.6 1112.2,1122.9 1112.7,1121.2 1113.3,1121.4 1113.8,1121.6 1114.3,1120.8 1114.9,1120.0 1115.4,1120.7 1116.0,1121.4 1116.5,1122.6 1117.1,1123.9 1117.6,1120.2 1118.2,1116.6 1118.7,1119.6 1119.2,1122.7 1119.8,1121.2 1120.3,1119.7 1120.9,1120.5 1121.4,1121.2 1122.0,1121.4 1122.5,1121.6 1123.0,1122.2 1123.6,1122.7 1124.1,1121.9 1124.7,1121.0 1125.2,1120.2 1125.8,1119.5 1126.3,1120.4 1126.9,1121.3 1127.4,1121.1 1127.9,1121.0 1128.5,1121.0 1129.0,1121.0 1129.6,1121.7 1130.1,1122.4 1130.7,1123.4 1131.2,1124.4 1131.7,1123.7 1132.3,1122.9 1132.8,1123.1 1133.4,1123.2 1133.9,1121.5 1134.5,1119.8 1135.0,1121.1 1135.5,1122.5 1136.1,1120.3 1136.6,1118.2 1137.2,1121.2 1137.7,1124.2 1138.3,1122.1 1138.8,1120.2 1139.4,1122.9 1139.9,1125.6 1140.4,1127.8 1141.0,1129.9 1141.5,1125.9 1142.1,1121.8 1142.6,1123.8 1143.2,1125.7 1143.7,1124.5 1144.2,1123.2 1144.8,1121.8 1145.3,1120.5 1145.9,1120.0 1146.4,1119.5 1147.0,1121.2 1147.5,1122.8 1148.1,1123.9 1148.6,1125.0 1149.1,1123.9 1149.7,1122.8 1150.2,1120.8 1150.8,1118.8 1151.3,1119.5 1151.9,1120.1 1152.4,1121.1 1152.9,1122.1 1153.5,1123.9 1154.0,1125.6 1154.6,1124.2 1155.1,1122.9 1155.7,1122.9 1156.2,1122.9 1156.8,1123.9 1157.3,1125.1 1157.8,1123.5 1158.4,1121.9 1158.9,1122.2 1159.5,1122.4 1160.0,1122.3 1160.6,1122.1 1161.1,1120.2 1161.6,1118.2 1162.2,1120.7 1162.7,1123.2 1163.3,1123.0 1163.8,1122.8 1164.4,1123.3 1164.9,1123.7 1165.5,1121.0 1166.0,1118.3 1166.5,1118.5 1167.1,1118.8 1167.6,1120.8 1168.2,1122.8 1168.7,1122.1 1169.3,1121.4 1169.8,1122.8 1170.3,1124.3 1170.9,1121.9 1171.4,1119.5 1172.0,1121.0 1172.5,1122.4 1173.1,1121.5 1173.6,1120.4 1174.2,1121.5 1174.7,1122.5 1175.2,1121.4 1175.8,1120.2 1176.3,1121.3 1176.9,1122.4 1177.4,1123.0 1178.0,1123.7 1178.5,1123.4 1179.0,1123.2 1179.6,1120.5 1180.1,1117.8 1180.7,1121.1 1181.2,1124.4 1181.8,1123.9 1182.3,1123.4 1182.8,1121.6 1183.4,1119.9 1183.9,1120.0 1184.5,1120.2 1185.0,1121.2 1185.6,1122.2 1186.1,1122.9 1186.7,1123.6 1187.2,1122.5 1187.7,1121.4 1188.3,1120.1 1188.8,1118.9 1189.4,1121.1 1189.9,1123.4 1190.5,1123.3 1191.0,1123.1 1191.5,1125.8 1192.1,1128.4 1192.6,1124.0 1193.2,1119.7 1193.7,1124.1 1194.3,1128.5 1194.8,1127.6 1195.4,1126.7 1195.9,1125.0 1196.4,1123.3 1197.0,1124.9 1197.5,1126.5 1198.1,1124.8 1198.6,1123.1 1199.2,1124.2 1199.7,1125.3 1200.2,1123.4 1200.8,1121.4 1201.3,1122.3 1201.9,1123.1 1202.4,1121.8 1203.0,1120.4 1203.5,1119.6 1204.1,1118.9 1204.6,1120.3 1205.1,1121.8 1205.7,1121.3 1206.2,1120.8 1206.8,1122.2 1207.3,1123.6 1207.9,1124.4 1208.4,1125.1 1208.9,1123.4 1209.5,1121.7 1210.0,1122.0 1210.6,1122.2 1211.1,1122.3 1211.7,1122.5 1212.2,1120.4 1212.8,1118.3 1213.3,1120.5 1213.8,1122.8 1214.4,1122.5 1214.9,1122.2 1215.5,1122.1 1216.0,1122.0 1216.6,1120.7 1217.1,1119.4 1217.6,1118.3 1218.2,1117.2 1218.7,1119.2 1219.3,1121.2 1219.8,1121.8 1220.4,1122.5 1220.9,1123.7 1221.4,1124.9 1222.0,1124.7 1222.5,1124.5 1223.1,1124.9 1223.6,1125.2 1224.2,1123.9 1224.7,1122.6 1225.3,1123.5 1225.8,1124.3 1226.3,1122.7 1226.9,1121.1 1227.4,1122.0 1228.0,1122.9 1228.5,1123.1 1229.1,1123.4 1229.6,1125.3 1230.1,1127.3 1230.7,1124.4 1231.2,1121.6 1231.8,1119.9 1232.3,1118.2 1232.9,1121.3 1233.4,1124.4 1234.0,1121.8 1234.5,1119.3 1235.0,1120.0 1235.6,1120.7 1236.1,1120.3 1236.7,1119.9 1237.2,1119.1 1237.8,1118.2 1238.3,1120.7 1238.8,1123.1 1239.4,1122.0 1239.9,1120.9 1240.5,1119.2 1241.0,1117.4 1241.6,1117.8 1242.1,1118.3 1242.7,1117.3 1243.2,1116.3 1243.7,1117.2 1244.3,1118.0 1244.8,1116.5 1245.4,1114.8 1245.9,1113.8 1246.5,1112.6 1247.0,1111.9 1247.5,1111.0 1248.1,1110.0 1248.6,1108.6 1249.2,1107.5 1249.7,1105.8 1250.3,1101.0 1250.8,1095.2 1251.4,1090.8 1251.9,1084.6 1252.4,1075.1 1253.0,1060.9 1253.5,1040.5 1254.1,1002.7 1254.6,918.1 1255.2,755.5 1255.7,491.2 1256.2,325.0 1256.8,518.3 1257.3,756.6 1257.9,885.1 1258.4,930.3 1259.0,914.0 1259.5,832.8 1260.0,703.3 1260.6,674.5 1261.1,808.9 1261.7,937.3 1262.2,1006.5 1262.8,1040.8 1263.3,1066.8 1263.9,1083.7 1264.4,1092.1 1264.9,1098.0 1265.5,1102.9 1266.0,1106.7 1266.6,1110.5 1267.1,1113.6 1267.7,1112.2 1268.2,1110.5 1268.7,1114.2 1269.3,1117.7 1269.8,1115.2 1270.4,1112.6 1270.9,1115.2 1271.5,1117.7 1272.0,1118.6 1272.6,1119.5 1273.1,1122.2 1273.6,1124.7 1274.2,1121.7 1274.7,1118.6 1275.3,1117.8 1275.8,1116.9 1276.4,1119.8 1276.9,1122.6 1277.4,1121.2 1278.0,1119.8 1278.5,1122.4 1279.1,1125.0 1279.6,1122.4 1280.2,1119.9 1280.7,1119.7 1281.3,1119.5 1281.8,1121.9 1282.3,1124.3 1282.9,1123.2 1283.4,1122.1 1284.0,1123.3 1284.5,1124.6 1285.1,1122.3 1285.6,1119.9 1286.1,1123.7 1286.7,1127.3 1287.2,1125.0 1287.8,1122.6 1288.3,1124.1 1288.9,1125.5 1289.4,1123.3 1290.0,1121.1 1290.5,1120.3 1291.0,1119.5 1291.6,1120.8 1292.1,1122.2 1292.7,1122.6 1293.2,1123.2 1293.8,1124.8 1294.3,1126.5 1294.8,1125.3 1295.4,1124.1 1295.9,1124.6 1296.5,1125.0 1297.0,1125.0 1297.6,1124.9 1298.1,1127.6 1298.6,1130.3 1299.2,1126.0 1299.7,1121.8 1300.3,1124.1 1300.8,1126.4 1301.4,1124.9 1301.9,1123.4 1302.5,1123.8 1303.0,1124.2 1303.5,1123.3 1304.1,1122.3 1304.6,1124.0 1305.2,1125.7 1305.7,1122.9 1306.3,1120.2 1306.8,1120.1 1307.3,1120.0 1307.9,1121.2 1308.4,1122.4 1309.0,1121.4 1309.5,1120.4 1310.1,1122.5 1310.6,1124.5 1311.2,1124.8 1311.7,1125.1 1312.2,1123.3 1312.8,1121.6 1313.3,1123.4 1313.9,1125.3 1314.4,1123.9 1315.0,1122.6 1315.5,1123.4 1316.0,1124.2 1316.6,1124.3 1317.1,1124.3 1317.7,1126.2 1318.2,1128.1 1318.8,1125.9 1319.3,1123.8 1319.9,1122.7 1320.4,1121.6 1320.9,1121.5 1321.5,1121.5 1322.0,1123.8 1322.6,1126.1 1323.1,1123.0 1323.7,1120.0 1324.2,1121.3 1324.7,1122.6 1325.3,1122.7 1325.8,1122.7 1326.4,1120.5 1326.9,1118.2 1327.5,1120.3 1328.0,1122.5 1328.6,1124.1 1329.1,1125.8 1329.6,1125.1 1330.2,1124.3 1330.7,1123.1 1331.3,1121.9 1331.8,1123.5 1332.4,1125.1 1332.9,1124.8 1333.4,1124.6 1334.0,1126.1 1334.5,1127.7 1335.1,1124.7 1335.6,1121.8 1336.2,1122.3 1336.7,1122.8 1337.3,1123.3 1337.8,1123.8 1338.3,1123.5 1338.9,1123.2 1339.4,1123.3 1340.0,1123.4 1340.5,1123.0 1341.1,1122.7 1341.6,1121.9 1342.1,1121.2 1342.7,1120.2 1343.2,1119.3 1343.8,1120.4 1344.3,1121.5 1344.9,1120.6 1345.4,1119.8 1345.9,1120.1 1346.5,1120.5 1347.0,1120.9 1347.6,1121.3 1348.1,1122.3 1348.7,1123.3 1349.2,1123.5 1349.8,1123.8 1350.3,1121.7 1350.8,1119.7 1351.4,1121.2 1351.9,1122.8 1352.5,1123.5 1353.0,1124.3 1353.6,1123.6 1354.1,1122.9 1354.6,1121.3 1355.2,1119.7 1355.7,1119.1 1356.3,1118.6 1356.8,1121.7 1357.4,1124.8 1357.9,1124.9 1358.5,1125.0 1359.0,1124.3 1359.5,1123.5 1360.1,1122.0 1360.6,1120.5 1361.2,1123.0 1361.7,1125.4 1362.3,1125.0 1362.8,1124.6 1363.3,1123.2 1363.9,1121.8 1364.4,1121.6 1365.0,1121.4 1365.5,1119.7 1366.1,1118.0 1366.6,1120.9 1367.2,1123.8 1367.7,1121.4 1368.2,1119.0 1368.8,1121.4 1369.3,1123.9 1369.9,1123.9 1370.4,1124.0 1371.0,1123.4 1371.5,1122.8 1372.0,1124.4 1372.6,1126.0 1373.1,1124.0 1373.7,1121.9 1374.2,1122.8 1374.8,1123.6 1375.3,1123.7 1375.9,1123.8 1376.4,1123.1 1376.9,1122.4 1377.5,1121.6 1378.0,1120.8 1378.6,1122.5 1379.1,1124.2 1379.7,1123.3 1380.2,1122.4 1380.7,1121.8 1381.3,1121.1 1381.8,1121.1 1382.4,1121.0 1382.9,1121.3 1383.5,1121.5 1384.0,1123.6 1384.5,1125.7 1385.1,1123.3 1385.6,1120.9 1386.2,1120.3 1386.7,1119.8 1387.3,1118.7 1387.8,1117.7 1388.4,1117.3 1388.9,1116.8 1389.4,1115.9 1390.0,1114.9 1390.5,1116.9 1391.1,1119.0 1391.6,1118.6 1392.2,1118.2 1392.7,1116.8 1393.2,1115.3 1393.8,1114.5 1394.3,1113.5 1394.9,1114.2 1395.4,1114.9 1396.0,1113.9 1396.5,1112.9 1397.1,1111.1 1397.6,1109.2 1398.1,1109.9 1398.7,1110.6 1399.2,1109.2 1399.8,1107.5 1400.3,1105.7 1400.9,1103.6 1401.4,1102.5 1401.9,1101.0 1402.5,1096.3 1403.0,1090.9 1403.6,1089.0 1404.1,1086.2 1404.7,1076.0 1405.2,1063.6 1405.8,1053.7 1406.3,1039.8 1406.8,1017.0 1407.4,983.1 1407.9,926.9 1408.5,827.6 1409.0,634.5 1409.6,242.4 1410.1,-10.0 1410.6,-10.0 1411.2,-10.0 1411.7,280.8 1412.3,618.8 1412.8,762.6 1413.4,789.5 1413.9,718.5 1414.5,520.0 1415.0,208.7 1415.5,150.2 1416.1,477.0 1416.6,758.3 1417.2,909.3 1417.7,982.6 1418.3,1021.6 1418.8,1045.5 1419.3,1061.4 1419.9,1072.5 1420.4,1080.7 1421.0,1086.4 1421.5,1090.8 1422.1,1094.7 1422.6,1097.9 1423.1,1103.6 1423.7,1108.7 1424.2,1106.3 1424.8,1103.7 1425.3,1106.9 1425.9,1109.9 1426.4,1112.2 1427.0,1114.4 1427.5,1114.5 1428.0,1114.5 1428.6,1116.2 1429.1,1117.8 1429.7,1117.4 1430.2,1117.0 1430.8,1115.6 1431.3,1114.1 1431.8,1115.5 1432.4,1116.9 1432.9,1116.1 1433.5,1115.3 1434.0,1118.0 1434.6,1120.7 1435.1,1121.4 1435.7,1122.1 1436.2,1120.3 1436.7,1118.5 1437.3,1119.6 1437.8,1120.6 1438.4,1119.6 1438.9,1118.5 1439.5,1117.4 1440.0,1116.2 1440.5,1117.1 1441.1,1118.1 1441.6,1117.0 1442.2,1116.1 1442.7,1117.4 1443.3,1118.7 1443.8,1119.9 1444.4,1121.1 1444.9,1121.9 1445.4,1122.7 1446.0,1123.5 1446.5,1124.2 1447.1,1122.6 1447.6,1120.9 1448.2,1121.4 1448.7,1121.9 1449.2,1121.9 1449.8,1122.0 1450.3,1122.0 1450.9,1122.1 1451.4,1118.6 1452.0,1115.2 1452.5,1117.2 1453.1,1119.2 1453.6,1120.8 1454.1,1122.3 1454.7,1120.5 1455.2,1118.6 1455.8,1120.1 1456.3,1121.5 1456.9,1122.3 1457.4,1123.0 1457.9,1120.5 1458.5,1118.0 1459.0,1119.8 1459.6,1121.6 1460.1,1122.1 1460.7,1122.6 1461.2,1122.3 1461.7,1122.1 1462.3,1120.5 1462.8,1118.9 1463.4,1120.6 1463.9,1122.3 1464.5,1121.3 1465.0,1120.3 1465.6,1121.6 1466.1,1122.9 1466.6,1122.5 1467.2,1122.2 1467.7,1121.2 1468.3,1120.3 1468.8,1121.0 1469.4,1121.7 1469.9,1120.8 1470.4,1119.9 1471.0,1119.9 1471.5,1119.9 1472.1,1119.1 1472.6,1118.2 1473.2,1119.6 1473.7,1120.9 1474.3,1121.9 1474.8,1123.0 1475.3,1122.4 1475.9,1121.7 1476.4,1121.6 1477.0,1121.6 1477.5,1121.0 1478.1,1120.5 1478.6,1120.6 1479.1,1120.7 1479.7,1121.9 1480.2,1123.2 1480.8,1121.0 1481.3,1118.9 1481.9,1122.4 1482.4,1125.9 1483.0,1123.9 1483.5,1121.9 1484.0,1124.1 1484.6,1126.3 1485.1,1125.4 1485.7,1124.4 1486.2,1122.8 1486.8,1121.2 1487.3,1122.3 1487.8,1123.3 1488.4,1122.8 1488.9,1122.3 1489.5,1122.4 1490.0,1122.5 1490.6,1122.7 1491.1,1122.9 1491.7,1121.5 1492.2,1120.1 1492.7,1119.9 1493.3,1119.7 1493.8,1119.9 1494.4,1120.0 1494.9,1119.1 1495.5,1118.3 1496.0,1119.4 1496.5,1120.7 1497.1,1121.4 1497.6,1122.1 1498.2,1122.4 1498.7,1122.6 1499.3,1122.7 1499.8,1122.8 1500.4,1122.4 1500.9,1121.8 1501.4,1122.9 1502.0,1123.9 1502.5,1121.1 1503.1,1118.2 1503.6,1119.7 1504.2,1121.1 1504.7,1121.1 1505.2,1121.1 1505.8,1122.3 1506.3,1123.5 1506.9,1123.4 1507.4,1123.3 1508.0,1123.5 1508.5,1123.7 1509.0,1123.0 1509.6,1122.2 1510.1,1123.0 1510.7,1123.8 1511.2,1121.7 1511.8,1119.6 1512.3,1120.4 1512.9,1121.3 1513.4,1119.0 1513.9,1116.9 1514.5,1120.4 1515.0,1124.0 1515.6,1123.9 1516.1,1123.8 1516.7,1121.7 1517.2,1119.6 1517.7,1119.3 1518.3,1119.1 1518.8,1117.9 1519.4,1116.7 1519.9,1117.2 1520.5,1117.8 1521.0,1119.4 1521.6,1121.0 1522.1,1120.9 1522.6,1120.9 1523.2,1119.9 1523.7,1119.0 1524.3,1120.3 1524.8,1121.6 1525.4,1121.8 1525.9,1121.7 1526.4,1122.7 1527.0,1123.4 1527.5,1123.1 1528.1,1122.9 1528.6,1121.6 1529.2,1120.4 1529.7,1120.5 1530.3,1120.6 1530.8,1120.3 1531.3,1120.1 1531.9,1118.0 1532.4,1115.8 1533.0,1117.8 1533.5,1119.8 1534.1,1119.4 1534.6,1119.1 1535.1,1119.7 1535.7,1120.3 1536.2,1117.8 1536.8,1115.2 1537.3,1117.5 1537.9,1119.8 1538.4,1118.4 1539.0,1116.9 1539.5,1117.6 1540.0,1118.3 1540.6,1119.0 1541.1,1119.7 1541.7,1117.0 1542.2,1114.2 1542.8,1114.2 1543.3,1114.2 1543.8,1116.3 1544.4,1118.4 1544.9,1116.4 1545.5,1114.3 1546.0,1114.5 1546.6,1114.7 1547.1,1116.1 1547.6,1117.4 1548.2,1116.3 1548.7,1115.1 1549.3,1115.5 1549.8,1115.9 1550.4,1114.7 1550.9,1113.4 1551.5,1112.2 1552.0,1110.8 1552.5,1110.6 1553.1,1110.3 1553.6,1109.9 1554.2,1109.1 1554.7,1104.2 1555.3,1098.7 1555.8,1096.6 1556.3,1093.5 1556.9,1086.8 1557.4,1078.2 1558.0,1065.8 1558.5,1049.0 1559.1,1027.1 1559.6,993.3 1560.2,932.6 1560.7,817.4 1561.2,587.0 1561.8,158.6 1562.3,-10.0 1562.9,-10.0 1563.4,332.8 1564.0,671.2 1564.5,836.9 1565.0,905.4 1565.6,912.1 1566.1,866.5 1566.7,746.7 1567.2,520.7 1567.8,346.9 1568.3,523.1 1568.9,774.8 1569.4,924.3 1569.9,1000.2 1570.5,1039.6 1571.0,1058.0 1571.6,1069.2 1572.1,1081.4 1572.7,1090.8 1573.2,1094.4 1573.7,1096.9 1574.3,1100.4 1574.8,1103.2 1575.4,1106.7 1575.9,1109.8 1576.5,1110.1 1577.0,1110.1 1577.6,1112.2 1578.1,1114.2 1578.6,1114.6 1579.2,1114.9 1579.7,1115.4 1580.3,1115.7 1580.8,1116.1 1581.4,1116.5 1581.9,1115.6 1582.4,1114.6 1583.0,1115.9 1583.5,1117.0 1584.1,1118.1 1584.6,1119.1 1585.2,1119.2 1585.7,1119.3 1586.2,1117.7 1586.8,1116.2 1587.3,1118.5 1587.9,1120.8 1588.4,1120.4 1589.0,1120.0 1589.5,1118.3 1590.1,1116.7 1590.6,1116.9 1591.1,1117.1 1591.7,1118.5 1592.2,1119.7 1592.8,1117.3 1593.3,1114.7 1593.9,1114.9 1594.4,1114.8 1594.9,1113.8 1595.5,1112.0 1596.0,1108.0 1596.6,1101.2 1597.1,1088.2 1597.7,1062.7 1598.2,1020.9 1598.8,988.0 1599.3,1011.4 1599.8,1053.8 1600.4,1082.0 1600.9,1096.0 1601.5,1104.3 1602.0,1107.7 1602.6,1100.1 1603.1,1084.9 1603.6,1065.6 1604.2,1051.9 1604.7,1067.4 1605.3,1090.4 1605.8,1103.6 1606.4,1110.1 1606.9,1115.6 1607.5,1119.4 1608.0,1119.7 1608.5,1119.6 1609.1,1121.0 1609.6,1122.2 1610.2,1119.7 1610.7,1117.2 1611.3,1121.1 1611.8,1124.9 1612.3,1125.2 1612.9,1125.5 1613.4,1124.1 1614.0,1122.6 1614.5,1124.7 1615.1,1126.7 1615.6,1125.9 1616.2,1125.1 1616.7,1125.8 1617.2,1126.4 1617.8,1127.3 1618.3,1128.1 1618.9,1126.6 1619.4,1125.0 1620.0,1124.0 1620.5,1123.0 1621.0,1123.9 1621.6,1124.7 1622.1,1123.6 1622.7,1122.5 1623.2,1122.9 1623.8,1123.4 1624.3,1123.4 1624.8,1123.4 1625.4,1123.4 1625.9,1123.4 1626.5,1125.0 1627.0,1126.6 1627.6,1126.3 1628.1,1126.1 1628.7,1124.6 1629.2,1123.2 1629.7,1125.0 1630.3,1126.9 1630.8,1124.5 1631.4,1122.1 1631.9,1123.0 1632.5,1123.9 1633.0,1124.4 1633.5,1124.8 1634.1,1126.0 1634.6,1127.2 1635.2,1126.9 1635.7,1126.6 1636.3,1126.5 1636.8,1126.4 1637.4,1127.2 1637.9,1128.0 1638.4,1127.5 1639.0,1127.0 1639.5,1127.6 1640.1,1128.2 1640.6,1126.3 1641.2,1124.5 1641.7,1123.7 1642.2,1122.9 1642.8,1124.0 1643.3,1125.1 1643.9,1126.2 1644.4,1127.3 1645.0,1126.8 1645.5,1126.5 1646.1,1127.2 1646.6,1127.9 1647.1,1128.0 1647.7,1128.1 1648.2,1128.1 1648.8,1128.1 1649.3,1128.5 1649.9,1128.8 1650.4,1127.5 1650.9,1126.2 1651.5,1127.7 1652.0,1129.3 1652.6,1127.6 1653.1,1126.0 1653.7,1126.8 1654.2,1127.7 1654.8,1126.7 1655.3,1125.6 1655.8,1127.2 1656.4,1128.7 1656.9,1126.8 1657.5,1124.8 1658.0,1127.1 1658.6,1129.4 1659.1,1126.9 1659.6,1124.4 1660.2,1125.7 1660.7,1127.0 1661.3,1126.6 1661.8,1126.1 1662.4,1125.3 1662.9,1124.4 1663.5,1125.9 1664.0,1127.3 1664.5,1125.3 1665.1,1123.3 1665.6,1124.2 1666.2,1125.2 1666.7,1122.1 1667.3,1119.1 1667.8,1118.7 1668.3,1118.5 1668.9,1117.6 1669.4,1117.0 1670.0,1120.1 1670.5,1123.3 1671.1,1124.5 1671.6,1125.7 1672.1,1125.9 1672.7,1125.9 1673.2,1126.1 1673.8,1126.1 1674.3,1125.7 1674.9,1125.3 1675.4,1128.2 1676.0,1131.0 1676.5,1129.8 1677.0,1128.5 1677.6,1126.4 1678.1,1124.4 1678.7,1125.7 1679.2,1127.0 1679.8,1125.1 1680.3,1123.2 1680.8,1126.7 1681.4,1130.1 1681.9,1130.3 1682.5,1130.6 1683.0,1130.1 1683.6,1129.7 1684.1,1128.4 1684.7,1127.2 1685.2,1126.9 1685.7,1126.5 1686.3,1126.0 1686.8,1125.5 1687.4,1127.2 1687.9,1129.0 1688.5,1128.1 1689.0,1127.2 1689.5,1127.7 1690.1,1128.1 1690.6,1127.9 1691.2,1127.7 1691.7,1128.0 1692.3,1128.2 1692.8,1129.2 1693.4,1130.1 1693.9,1130.7 1694.4,1131.3 1695.0,1130.0 1695.5,1128.8 1696.1,1128.7 1696.6,1128.7 1697.2,1127.9 1697.7,1127.1 1698.2,1127.1 1698.8,1127.1 1699.3,1127.3 1699.9,1127.4 1700.4,1129.0 1701.0,1130.6 1701.5,1130.1 1702.1,1129.6 1702.6,1130.2 1703.1,1130.8 1703.7,1130.4 1704.2,1130.0 1704.8,1129.4 1705.3,1128.7 1705.9,1128.1 1706.4,1127.4 1706.9,1128.1 1707.5,1128.9 1708.0,1128.0 1708.6,1127.2 1709.1,1130.1 1709.7,1132.9 1710.2,1131.6 1710.7,1130.3 1711.3,1129.9 1711.8,1129.4 1712.4,1131.4 1712.9,1133.4 1713.5,1131.5 1714.0,1129.5 1714.6,1130.2 1715.1,1130.9 1715.6,1130.2 1716.2,1129.4 1716.7,1129.7 1717.3,1130.0 1717.8,1129.3 1718.4,1128.6 1718.9,1129.2 1719.4,1129.8 1720.0,1130.5 1720.5,1131.2 1721.1,1129.1 1721.6,1127.0 1722.2,1126.2 1722.7,1125.5 1723.3,1128.5 1723.8,1131.5 1724.3,1130.6 1724.9,1129.8 1725.4,1130.5 1726.0,1131.3 1726.5,1130.5 1727.1,1129.7 1727.6,1131.3 1728.1,1132.8 1728.7,1133.0 1729.2,1133.2 1729.8,1130.8 1730.3,1128.3 1730.9,1129.8 1731.4,1131.2 1732.0,1130.1 1732.5,1129.0 1733.0,1128.2 1733.6,1127.3 1734.1,1128.4 1734.7,1129.4 1735.2,1130.1 1735.8,1130.8 1736.3,1129.3 1736.8,1127.8 1737.4,1127.9 1737.9,1128.0 1738.5,1130.0 1739.0,1132.1 1739.6,1131.1 1740.1,1130.2 1740.7,1130.5 1741.2,1130.8 1741.7,1129.5 1742.3,1128.1 1742.8,1128.2 1743.4,1128.4 1743.9,1128.7 1744.5,1129.1 1745.0,1129.0 1745.5,1128.9 1746.1,1128.9 1746.6,1128.9 1747.2,1130.1 1747.7,1131.4 1748.3,1130.5 1748.8,1129.5 1749.3,1128.3 1749.9,1127.1 1750.4,1127.7 1751.0,1128.2 1751.5,1128.9 1752.1,1129.6 1752.6,1130.7 1753.2,1131.9 1753.7,1130.4 1754.2,1128.9 1754.8,1129.2 1755.3,1129.5 1755.9,1129.7 1756.4,1130.0 1757.0,1129.4 1757.5,1128.8 1758.0,1128.6 1758.6,1128.4 1759.1,1128.8 1759.7,1129.2 1760.2,1130.2 1760.8,1131.3 1761.3,1131.0 1761.9,1130.8 1762.4,1130.4 1762.9,1129.9 1763.5,1130.6 1764.0,1131.2 1764.6,1129.9 1765.1,1128.4 1765.7,1130.1 1766.2,1131.7 1766.7,1131.3 1767.3,1131.0 1767.8,1130.6 1768.4,1130.3 1768.9,1128.8 1769.5,1127.4 1770.0,1130.3 1770.6,1133.2 1771.1,1129.4 1771.6,1125.6 1772.2,1127.1 1772.7,1128.6 1773.3,1128.7 1773.8,1128.8 1774.4,1130.1 1774.9,1131.4 1775.4,1129.7 1776.0,1128.0 1776.5,1129.4 1777.1,1130.7 1777.6,1130.5 1778.2,1130.2 1778.7,1130.2 1779.3,1130.2 1779.8,1131.2 1780.3,1132.2 1780.9,1132.7 1781.4,1133.2 1782.0,1132.4 1782.5,1131.7 1783.1,1131.2 1783.6,1130.6 1784.1,1129.1 1784.7,1127.6 1785.2,1130.5 1785.8,1133.4 1786.3,1132.1 1786.9,1130.9 1787.4,1129.8 1787.9,1128.7 1788.5,1130.4 1789.0,1132.0 1789.6,1133.1 1790.1,1134.1 1790.7,1132.8 1791.2,1131.5 1791.8,1130.6 1792.3,1129.7 1792.8,1132.2 1793.4,1134.8 1793.9,1133.4 1794.5,1132.1 1795.0,1131.9 1795.6,1131.6 1796.1,1132.1 1796.6,1132.6 1797.2,1130.1 1797.7,1127.6 1798.3,1129.1 1798.8,1130.6 1799.4,1130.4 1799.9,1130.2 1800.5,1132.0 1801.0,1133.7 1801.5,1131.5 1802.1,1129.2 1802.6,1129.1 1803.2,1129.0 1803.7,1128.3 1804.3,1127.5 1804.8,1127.9 1805.3,1128.2 1805.9,1128.5 1806.4,1128.8 1807.0,1129.0 1807.5,1129.1 1808.1,1128.3 1808.6,1127.4 1809.2,1128.4 1809.7,1129.4 1810.2,1127.3 1810.8,1125.4 1811.3,1125.0 1811.9,1125.0 1812.4,1125.9 1813.0,1127.1 1813.5,1127.3 1814.0,1127.5 1814.6,1127.4 1815.1,1127.1 1815.7,1126.9 1816.2,1126.7 1816.8,1128.5 1817.3,1130.3 1817.9,1129.7 1818.4,1129.0 1818.9,1130.7 1819.5,1132.4 1820.0,1130.8 1820.6,1129.1 1821.1,1128.0 1821.7,1126.8 1822.2,1128.5 1822.7,1130.3 1823.3,1131.2 1823.8,1132.2 1824.4,1131.6 1824.9,1131.0 1825.5,1131.6 1826.0,1132.2 1826.6,1132.4 1827.1,1132.6 1827.6,1133.8 1828.2,1134.9 1828.7,1133.8 1829.3,1132.6 1829.8,1132.1 1830.4,1131.7 1830.9,1131.1 1831.4,1130.5 1832.0,1129.7 1832.5,1128.9 1833.1,1131.1 1833.6,1133.4 1834.2,1133.2 1834.7,1133.1 1835.2,1131.6 1835.8,1130.1 1836.3,1131.3 1836.9,1132.5 1837.4,1132.4 1838.0,1132.3 1838.5,1131.9 1839.1,1131.6 1839.6,1131.7 1840.1,1131.8 1840.7,1132.7 1841.2,1133.5 1841.8,1132.0 1842.3,1130.5 1842.9,1130.9 1843.4,1131.3 1843.9,1131.5 1844.5,1131.8 1845.0,1131.8 1845.6,1131.9 1846.1,1131.8 1846.7,1131.7 1847.2,1132.2 1847.8,1132.6 1848.3,1132.9 1848.8,1133.3 1849.4,1132.3 1849.9,1131.2 1850.5,1131.9 1851.0,1132.5 1851.6,1131.9 1852.1,1131.2 1852.6,1132.5 1853.2,1133.9 1853.7,1131.7 1854.3,1129.5 1854.8,1130.3 1855.4,1131.2 1855.9,1131.9 1856.5,1132.6 1857.0,1132.0 1857.5,1131.4 1858.1,1131.4 1858.6,1131.3 1859.2,1131.2 1859.7,1131.0 1860.3,1131.6 1860.8,1132.1 1861.3,1131.0 1861.9,1130.0 1862.4,1130.8 1863.0,1131.6 1863.5,1131.7 1864.1,1131.9 1864.6,1131.1 1865.2,1130.4 1865.7,1131.8 1866.2,1133.2 1866.8,1132.8 1867.3,1132.3 1867.9,1132.8 1868.4,1133.4 1869.0,1133.7 1869.5,1134.1"/>
<polyline fill="none" stroke="#0000ff" stroke-width="4.0" stroke-linejoin="round" stroke-linecap="butt" shape-rendering="crispEdges" points="238.5,964.4 239.0,958.5 239.6,952.6 240.1,956.5 240.7,960.5 241.2,959.3 241.8,958.2 242.3,958.4 242.8,958.8 243.4,959.2 243.9,959.7 244.5,957.6 245.0,955.4 245.6,957.9 246.1,960.4 246.7,959.8 247.2,959.1 247.7,964.7 248.3,970.2 248.8,966.3 249.4,962.4 249.9,961.7 250.5,960.9 251.0,961.0 251.5,961.2 252.1,960.7 252.6,960.3 253.2,959.9 253.7,959.5 254.3,960.5 254.8,961.5 255.4,962.7 255.9,964.0 256.4,963.1 257.0,962.2 257.5,963.8 258.1,965.4 258.6,963.9 259.2,962.3 259.7,962.6 260.2,962.9 260.8,964.9 261.3,967.0 261.9,965.8 262.4,964.7 263.0,963.6 263.5,962.5 264.1,963.1 264.6,963.7 265.1,964.8 265.7,965.8 266.2,967.7 266.8,969.5 267.3,966.6 267.9,963.7 268.4,963.7 268.9,963.7 269.5,965.4 270.0,967.0 270.6,964.6 271.1,962.2 271.7,963.1 272.2,963.9 272.8,965.4 273.3,966.9 273.8,966.2 274.4,965.4 274.9,964.1 275.5,962.4 276.0,961.5 276.6,959.9 277.1,951.5 277.6,941.7 278.2,942.1 278.7,944.1 279.3,941.0 279.8,941.9 280.4,946.1 280.9,949.7 281.4,955.8 282.0,960.7 282.5,962.8 283.1,964.4 283.6,963.7 284.2,962.8 284.7,962.5 285.3,962.1 285.8,964.0 286.3,965.8 286.9,966.1 287.4,966.4 288.0,968.6 288.5,970.8 289.1,970.2 289.6,969.5 290.1,969.0 290.7,968.3 291.2,969.5 291.8,970.7 292.3,969.0 292.9,967.3 293.4,966.3 294.0,965.3 294.5,967.2 295.0,969.2 295.6,969.1 296.1,969.1 296.7,968.1 297.2,967.1 297.8,966.4 298.3,965.7 298.8,967.1 299.4,968.5 299.9,965.0 300.5,961.6 301.0,965.8 301.6,970.1 302.1,969.9 302.7,969.6 303.2,966.5 303.7,963.3 304.3,964.7 304.8,965.7 305.4,962.2 305.9,957.5 306.5,955.5 307.0,952.6 307.5,943.2 308.1,937.0 308.6,942.1 309.2,949.6 309.7,957.3 310.3,963.7 310.8,967.0 311.4,969.2 311.9,965.7 312.4,961.8 313.0,964.4 313.5,966.7 314.1,967.8 314.6,968.8 315.2,967.5 315.7,966.1 316.2,968.8 316.8,971.5 317.3,967.3 317.9,963.0 318.4,964.3 319.0,965.4 319.5,962.1 320.0,958.3 320.6,959.1 321.1,958.8 321.7,951.0 322.2,940.3 322.8,927.2 323.3,909.4 323.9,886.0 324.4,865.0 324.9,868.2 325.5,888.5 326.0,907.2 326.6,924.7 327.1,939.5 327.7,949.9 328.2,957.4 328.7,962.5 329.3,964.4 329.8,965.4 330.4,965.5 330.9,965.3 331.5,965.9 332.0,966.5 332.6,967.1 333.1,967.7 333.6,971.0 334.2,974.3 334.7,971.0 335.3,967.6 335.8,969.0 336.4,970.3 336.9,970.8 337.4,971.4 338.0,972.4 338.5,973.3 339.1,974.1 339.6,974.8 340.2,972.8 340.7,970.8 341.3,970.5 341.8,970.1 342.3,972.5 342.9,974.8 343.4,976.4 344.0,977.9 344.5,977.1 345.1,976.3 345.6,975.3 346.1,974.2 346.7,973.1 347.2,971.9 347.8,972.1 348.3,972.3 348.9,970.8 349.4,969.2 350.0,969.5 350.5,969.6 351.0,965.7 351.6,961.2 352.1,959.4 352.7,956.4 353.2,949.9 353.8,940.8 354.3,930.1 354.8,917.0 355.4,902.7 355.9,895.0 356.5,904.1 357.0,921.3 357.6,933.8 358.1,944.4 358.7,953.9 359.2,960.6 359.7,960.4 360.3,959.0 360.8,963.9 361.4,968.1 361.9,969.2 362.5,969.9 363.0,972.3 363.5,974.6 364.1,971.6 364.6,968.5 365.2,973.5 365.7,978.3 366.3,978.6 366.8,978.7 367.3,975.9 367.9,973.0 368.4,973.5 369.0,973.9 369.5,974.2 370.1,974.4 370.6,975.4 371.2,976.5 371.7,977.3 372.2,978.1 372.8,980.0 373.3,981.8 373.9,979.1 374.4,976.3 375.0,977.6 375.5,978.8 376.0,978.1 376.6,977.4 377.1,979.5 377.7,981.7 378.2,980.6 378.8,979.5 379.3,980.5 379.9,981.5 380.4,978.7 380.9,975.8 381.5,977.1 382.0,978.2 382.6,977.5 383.1,976.7 383.7,979.5 384.2,982.3 384.7,981.2 385.3,980.1 385.8,978.9 386.4,977.7 386.9,977.6 387.5,977.5 388.0,978.7 388.6,980.0 389.1,978.5 389.6,977.1 390.2,976.8 390.7,976.5 391.3,978.3 391.8,980.2 392.4,982.8 392.9,985.4 393.4,982.2 394.0,979.0 394.5,978.6 395.1,978.3 395.6,977.5 396.2,976.6 396.7,976.3 397.3,976.1 397.8,978.3 398.3,980.6 398.9,981.1 399.4,981.5 400.0,980.5 400.5,979.5 401.1,980.0 401.6,980.4 402.1,980.1 402.7,979.8 403.2,979.8 403.8,979.8 404.3,977.7 404.9,975.6 405.4,977.0 405.9,978.4 406.5,979.4 407.0,980.3 407.6,979.5 408.1,978.8 408.7,979.5 409.2,980.2 409.8,980.0 410.3,979.8 410.8,980.5 411.4,981.1 411.9,982.5 412.5,983.9 413.0,982.2 413.6,980.5 414.1,980.6 414.6,980.8 415.2,981.9 415.7,983.0 416.3,982.8 416.8,982.5 417.4,983.8 417.9,985.1 418.5,980.5 419.0,975.9 419.5,979.8 420.1,983.6 420.6,982.2 421.2,980.9 421.7,981.8 422.3,982.8 422.8,983.7 423.3,984.6 423.9,984.8 424.4,985.0 425.0,984.8 425.5,984.6 426.1,983.4 426.6,982.3 427.2,984.0 427.7,985.9 428.2,983.6 428.8,981.3 429.3,981.5 429.9,981.8 430.4,983.0 431.0,984.1 431.5,982.5 432.0,980.9 432.6,984.2 433.1,987.7 433.7,986.4 434.2,985.1 434.8,986.6 435.3,988.1 435.9,985.4 436.4,982.7 436.9,982.2 437.5,981.7 438.0,982.2 438.6,982.8 439.1,983.4 439.7,984.1 440.2,982.4 440.7,980.7 441.3,981.9 441.8,983.0 442.4,982.5 442.9,982.0 443.5,984.0 444.0,986.1 444.5,983.4 445.1,980.8 445.6,983.1 446.2,985.4 446.7,983.5 447.3,981.6 447.8,981.3 448.4,981.0 448.9,981.4 449.4,981.8 450.0,981.2 450.5,980.7 451.1,982.4 451.6,984.1 452.2,985.2 452.7,986.4 453.2,985.4 453.8,984.4 454.3,985.0 454.9,985.6 455.4,986.9 456.0,988.2 456.5,986.6 457.1,985.0 457.6,985.0 458.1,985.0 458.7,984.4 459.2,983.8 459.8,982.2 460.3,980.4 460.9,983.2 461.4,985.9 461.9,982.6 462.5,979.3 463.0,982.1 463.6,985.0 464.1,984.1 464.7,983.4 465.2,984.9 465.8,986.4 466.3,985.1 466.8,983.8 467.4,983.0 467.9,982.2 468.5,983.6 469.0,985.0 469.6,983.7 470.1,982.5 470.6,982.9 471.2,983.2 471.7,983.5 472.3,983.8 472.8,983.6 473.4,983.4 473.9,983.4 474.5,983.4 475.0,982.7 475.5,982.1 476.1,983.0 476.6,984.0 477.2,981.8 477.7,979.7 478.3,982.4 478.8,985.1 479.3,984.0 479.9,983.0 480.4,986.0 481.0,988.9 481.5,989.2 482.1,989.4 482.6,985.4 483.1,981.4 483.7,983.9 484.2,986.3 484.8,985.9 485.3,985.5 485.9,984.4 486.4,983.3 487.0,985.3 487.5,987.3 488.0,986.3 488.6,985.3 489.1,983.8 489.7,982.4 490.2,984.3 490.8,986.1 491.3,986.2 491.8,986.3 492.4,986.5 492.9,986.6 493.5,984.8 494.0,983.1 494.6,985.2 495.1,987.3 495.7,987.4 496.2,987.5 496.7,985.2 497.3,983.0 497.8,983.6 498.4,984.2 498.9,985.0 499.5,985.7 500.0,985.2 500.5,984.7 501.1,987.5 501.6,990.3 502.2,988.4 502.7,986.5 503.3,985.0 503.8,983.4 504.4,983.5 504.9,983.6 505.4,984.3 506.0,985.0 506.5,987.6 507.1,990.2 507.6,986.8 508.2,983.4 508.7,983.3 509.2,983.2 509.8,983.0 510.3,982.6 510.9,980.7 511.4,978.3 512.0,979.0 512.5,978.7 513.1,970.3 513.6,960.5 514.1,956.0 514.7,953.3 515.2,952.0 515.8,955.2 516.3,962.0 516.9,968.5 517.4,970.8 517.9,972.1 518.5,978.5 519.0,984.0 519.6,982.8 520.1,981.4 520.7,982.4 521.2,983.2 521.8,982.4 522.3,981.5 522.8,982.0 523.4,982.3 523.9,983.8 524.5,985.3 525.0,985.7 525.6,986.3 526.1,986.2 526.6,986.2 527.2,987.2 527.7,988.2 528.3,988.1 528.8,987.9 529.4,987.4 529.9,986.8 530.4,988.0 531.0,989.1 531.5,988.8 532.1,988.5 532.6,987.5 533.2,986.6 533.7,987.4 534.3,988.2 534.8,988.7 535.3,989.3 535.9,987.8 536.4,986.3 537.0,985.3 537.5,984.3 538.1,985.3 538.6,986.2 539.1,987.2 539.7,988.2 540.2,985.0 540.8,981.7 541.3,981.0 541.9,980.3 542.4,979.1 543.0,977.7 543.5,977.7 544.0,977.1 544.6,969.8 545.1,960.8 545.7,957.1 546.2,950.9 546.8,939.2 547.3,924.0 547.8,902.0 548.4,884.0 548.9,887.4 549.5,904.2 550.0,920.2 550.6,935.3 551.1,946.8 551.7,954.8 552.2,962.6 552.7,968.2 553.3,968.9 553.8,968.8 554.4,971.7 554.9,974.3 555.5,978.4 556.0,982.3 556.5,979.4 557.1,976.3 557.6,979.9 558.2,983.4 558.7,980.5 559.3,977.3 559.8,977.7 560.4,977.8 560.9,974.9 561.4,971.7 562.0,966.1 562.5,959.9 563.1,958.4 563.6,955.8 564.2,950.1 564.7,941.9 565.2,925.8 565.8,901.3 566.3,862.1 566.9,786.9 567.4,648.2 568.0,424.9 568.5,256.0 569.0,372.5 569.6,523.7 570.1,548.1 570.7,536.2 571.2,640.7 571.8,777.1 572.3,864.1 572.9,906.2 573.4,928.4 573.9,945.4 574.5,957.2 575.0,964.8 575.6,970.6 576.1,972.2 576.7,973.0 577.2,973.8 577.7,974.1 578.3,975.3 578.8,976.2 579.4,978.8 579.9,981.1 580.5,982.9 581.0,984.6 581.6,984.3 582.1,984.0 582.6,984.8 583.2,985.6 583.7,984.8 584.3,983.9 584.8,985.2 585.4,986.3 585.9,985.6 586.4,984.7 587.0,984.8 587.5,984.7 588.1,983.1 588.6,981.1 589.2,979.7 589.7,978.0 590.3,978.1 590.8,978.7 591.3,978.2 591.9,978.6 592.4,980.4 593.0,982.1 593.5,985.3 594.1,988.3 594.6,988.0 595.1,987.6 595.7,991.6 596.2,995.4 596.8,993.1 597.3,990.7 597.9,988.9 598.4,987.0 599.0,988.6 599.5,990.2 600.0,989.7 600.6,989.2 601.1,988.0 601.7,986.9 602.2,989.1 602.8,991.3 603.3,989.1 603.8,986.8 604.4,984.0 604.9,981.1 605.5,985.4 606.0,989.7 606.6,987.8 607.1,985.9 607.6,988.2 608.2,990.5 608.7,987.9 609.3,985.4 609.8,984.8 610.4,984.2 610.9,987.5 611.5,990.9 612.0,987.9 612.5,984.8 613.1,986.4 613.6,987.9 614.2,989.4 614.7,990.8 615.3,989.1 615.8,987.3 616.3,986.9 616.9,986.5 617.4,986.5 618.0,986.4 618.5,986.9 619.1,987.4 619.6,985.0 620.2,982.4 620.7,983.5 621.2,984.5 621.8,983.6 622.3,982.4 622.9,983.1 623.4,983.6 624.0,977.8 624.5,971.1 625.0,965.8 625.6,958.3 626.1,950.1 626.7,933.8 627.2,894.7 627.8,821.9 628.3,722.4 628.9,687.0 629.4,759.1 629.9,816.4 630.5,821.9 631.0,811.6 631.6,845.7 632.1,897.1 632.7,933.8 633.2,953.7 633.7,960.5 634.3,963.4 634.8,969.7 635.4,974.7 635.9,979.8 636.5,984.4 637.0,982.9 637.6,981.2 638.1,982.1 638.6,982.8 639.2,982.9 639.7,982.9 640.3,985.5 640.8,987.9 641.4,987.7 641.9,987.4 642.4,985.8 643.0,984.2 643.5,986.4 644.1,988.6 644.6,988.0 645.2,987.5 645.7,988.0 646.2,988.5 646.8,986.8 647.3,985.0 647.9,987.7 648.4,990.3 649.0,988.6 649.5,986.8 650.1,986.0 650.6,985.2 651.1,984.6 651.7,983.9 652.2,984.2 652.8,984.5 653.3,985.8 653.9,987.2 654.4,986.0 654.9,984.8 655.5,986.6 656.0,988.3 656.6,987.8 657.1,987.3 657.7,988.3 658.2,989.3 658.8,988.7 659.3,988.0 659.8,986.8 660.4,985.6 660.9,983.2 661.5,980.7 662.0,982.9 662.6,985.1 663.1,985.1 663.6,985.1 664.2,983.7 664.7,982.1 665.3,981.6 665.8,980.9 666.4,978.2 666.9,975.5 667.5,974.4 668.0,973.8 668.5,973.1 669.1,973.0 669.6,976.8 670.2,980.4 670.7,979.5 671.3,978.3 671.8,977.5 672.3,976.6 672.9,975.1 673.4,973.5 674.0,974.2 674.5,974.7 675.1,975.4 675.6,975.9 676.2,972.7 676.7,969.0 677.2,964.3 677.8,958.9 678.3,957.3 678.9,955.0 679.4,948.9 680.0,942.3 680.5,935.3 681.0,929.6 681.6,926.5 682.1,926.0 682.7,928.2 683.2,931.0 683.8,931.6 684.3,930.8 684.9,929.4 685.4,925.2 685.9,914.6 686.5,898.9 687.0,883.1 687.6,856.2 688.1,799.4 688.7,693.4 689.2,496.2 689.7,141.0 690.3,-10.0 690.8,-10.0 691.4,99.1 691.9,310.2 692.5,282.3 693.0,209.4 693.5,368.8 694.1,601.6 694.6,756.9 695.2,840.6 695.7,885.2 696.3,911.8 696.8,928.7 697.4,940.5 697.9,947.6 698.4,952.6 699.0,958.3 699.5,962.9 700.1,967.7 700.6,971.9 701.2,974.5 701.7,976.8 702.2,977.0 702.8,977.0 703.3,978.3 703.9,979.5 704.4,980.8 705.0,981.8 705.5,983.7 706.1,985.4 706.6,983.4 707.1,981.4 707.7,981.5 708.2,981.5 708.8,983.5 709.3,985.4 709.9,984.1 710.4,982.8 710.9,983.6 711.5,984.4 712.0,985.3 712.6,986.3 713.1,987.0 713.7,987.6 714.2,986.0 714.8,984.3 715.3,986.7 715.8,989.0 716.4,986.2 716.9,983.4 717.5,986.2 718.0,988.9 718.6,986.5 719.1,984.0 719.6,984.3 720.2,984.6 720.7,986.8 721.3,989.1 721.8,987.9 722.4,986.7 722.9,986.3 723.5,985.9 724.0,986.3 724.5,986.6 725.1,987.5 725.6,988.3 726.2,987.2 726.7,985.8 727.3,984.7 727.8,983.0 728.3,982.0 728.9,980.3 729.4,974.3 730.0,968.1 730.5,966.0 731.1,966.8 731.6,969.6 732.1,973.4 732.7,979.1 733.2,983.8 733.8,985.5 734.3,986.6 734.9,987.7 735.4,988.5 736.0,987.0 736.5,985.2 737.0,984.5 737.6,983.5 738.1,983.4 738.7,982.8 739.2,978.6 739.8,973.8 740.3,971.6 740.8,969.8 741.4,968.0 741.9,968.7 742.5,969.9 743.0,972.0 743.6,976.5 744.1,980.4 744.7,982.8 745.2,984.7 745.7,988.4 746.3,991.7 746.8,993.8 747.4,995.6 747.9,993.3 748.5,990.9 749.0,991.6 749.5,992.2 750.1,990.0 750.6,987.7 751.2,990.7 751.7,993.6 752.3,993.5 752.8,993.3 753.4,992.1 753.9,990.9 754.4,993.0 755.0,995.1 755.5,992.5 756.1,989.9 756.6,991.5 757.2,993.1 757.7,993.6 758.2,994.2 758.8,992.8 759.3,991.4 759.9,993.9 760.4,996.4 761.0,996.8 761.5,997.1 762.1,994.5 762.6,991.8 763.1,991.8 763.7,991.8 764.2,994.0 764.8,996.3 765.3,995.7 765.9,995.0 766.4,993.8 766.9,992.6 767.5,993.7 768.0,994.8 768.6,995.0 769.1,995.2 769.7,995.1 770.2,995.0 770.7,996.0 771.3,997.0 771.8,996.4 772.4,995.9 772.9,997.4 773.5,999.0 774.0,998.6 774.6,998.3 775.1,997.7 775.6,997.0 776.2,997.5 776.7,998.0 777.3,998.2 777.8,998.4 778.4,997.4 778.9,996.1 779.4,993.1 780.0,989.7 780.5,990.4 781.1,990.5 781.6,986.3 782.2,981.1 782.7,978.0 783.3,974.9 783.8,969.6 784.3,968.0 784.9,972.5 785.4,978.2 786.0,982.7 786.5,986.3 787.1,990.8 787.6,994.4 788.1,994.2 788.7,993.5 789.2,993.8 789.8,993.9 790.3,995.0 790.9,996.0 791.4,995.4 792.0,994.7 792.5,995.5 793.0,996.4 793.6,996.3 794.1,996.3 794.7,996.8 795.2,997.2 795.8,999.2 796.3,1001.2 796.8,998.7 797.4,996.0 797.9,996.4 798.5,996.7 799.0,995.9 799.6,995.0 800.1,995.0 800.7,994.8 801.2,990.9 801.7,986.7 802.3,985.0 802.8,983.5 803.4,983.0 803.9,983.8 804.5,985.8 805.0,988.7 805.5,990.4 806.1,991.9 806.6,993.2 807.2,994.2 807.7,994.9 808.3,995.3 808.8,997.5 809.3,999.4 809.9,1000.7 810.4,1001.8 811.0,1000.4 811.5,998.8 812.1,998.2 812.6,997.5 813.2,997.1 813.7,996.6 814.2,994.2 814.8,992.0 815.3,992.5 815.9,993.4 816.4,994.0 817.0,994.8 817.5,996.2 818.0,997.7 818.6,998.0 819.1,998.3 819.7,997.5 820.2,996.6 820.8,999.5 821.3,1002.4 821.9,1003.2 822.4,1004.0 822.9,1002.0 823.5,1000.0 824.0,1000.9 824.6,1001.9 825.1,1002.0 825.7,1002.1 826.2,1002.9 826.7,1003.7 827.3,1001.5 827.8,999.2 828.4,1002.7 828.9,1006.2 829.5,1004.0 830.0,1001.7 830.6,1003.6 831.1,1005.5 831.6,1004.1 832.2,1002.9 832.7,1002.4 833.3,1002.0 833.8,1002.4 834.4,1002.8 834.9,1004.1 835.4,1005.4 836.0,1003.7 836.5,1002.0 837.1,1002.7 837.6,1003.5 838.2,1003.5 838.7,1003.6 839.3,1002.4 839.8,1001.1 840.3,1004.4 840.9,1007.6 841.4,1006.8 842.0,1006.0 842.5,1005.4 843.1,1004.7 843.6,1006.0 844.1,1007.3 844.7,1005.1 845.2,1002.8 845.8,1003.9 846.3,1004.9 846.9,1006.9 847.4,1008.9 848.0,1008.1 848.5,1007.3 849.0,1003.9 849.6,1000.5 850.1,999.3 850.7,998.3 851.2,1000.9 851.8,1003.5 852.3,1005.9 852.8,1008.3 853.4,1006.7 853.9,1005.1 854.5,1005.4 855.0,1005.6 855.6,1006.4 856.1,1007.2 856.6,1005.5 857.2,1003.8 857.7,1005.0 858.3,1006.1 858.8,1006.7 859.4,1007.3 859.9,1006.9 860.5,1006.4 861.0,1006.1 861.5,1005.9 862.1,1004.6 862.6,1003.2 863.2,1004.0 863.7,1004.8 864.3,1003.0 864.8,1000.8 865.3,1001.2 865.9,1000.9 866.4,999.4 867.0,997.6 867.5,990.5 868.1,985.2 868.6,985.0 869.2,986.5 869.7,992.1 870.2,997.1 870.8,1000.2 871.3,1002.7 871.9,1004.6 872.4,1006.2 873.0,1006.9 873.5,1007.4 874.0,1005.8 874.6,1004.0 875.1,1004.2 875.7,1004.3 876.2,1006.6 876.8,1008.8 877.3,1006.3 877.9,1003.8 878.4,1006.1 878.9,1008.5 879.5,1007.2 880.0,1006.0 880.6,1007.2 881.1,1008.5 881.7,1008.7 882.2,1008.8 882.7,1009.0 883.3,1009.3 883.8,1009.4 884.4,1009.5 884.9,1007.7 885.5,1005.7 886.0,1007.1 886.6,1008.3 887.1,1007.9 887.6,1007.4 888.2,1007.4 888.7,1007.5 889.3,1008.3 889.8,1009.2 890.4,1007.6 890.9,1006.0 891.4,1005.6 892.0,1005.3 892.5,1005.4 893.1,1005.5 893.6,1006.1 894.2,1006.7 894.7,1007.9 895.2,1009.0 895.8,1007.4 896.3,1005.8 896.9,1007.9 897.4,1010.0 898.0,1009.2 898.5,1008.3 899.1,1007.9 899.6,1007.6 900.1,1006.6 900.7,1005.7 901.2,1007.5 901.8,1009.4 902.3,1010.0 902.9,1010.5 903.4,1008.0 903.9,1005.3 904.5,1008.4 905.0,1011.4 905.6,1011.8 906.1,1012.2 906.7,1010.7 907.2,1009.2 907.8,1009.3 908.3,1009.3 908.8,1011.3 909.4,1013.2 909.9,1011.9 910.5,1010.6 911.0,1008.4 911.6,1006.2 912.1,1007.2 912.6,1008.3 913.2,1008.3 913.7,1008.3 914.3,1008.5 914.8,1008.6 915.4,1006.4 915.9,1004.0 916.5,1007.3 917.0,1010.5 917.5,1009.0 918.1,1007.4 918.6,1008.2 919.2,1009.1 919.7,1008.8 920.3,1008.6 920.8,1009.7 921.3,1010.9 921.9,1009.7 922.4,1008.4 923.0,1007.7 923.5,1006.9 924.1,1008.0 924.6,1008.9 925.2,1009.3 925.7,1009.6 926.2,1007.1 926.8,1004.3 927.3,1005.1 927.9,1005.7 928.4,1002.9 929.0,999.6 929.5,996.3 930.0,992.8 930.6,993.0 931.1,994.3 931.7,991.9 932.2,991.0 932.8,995.8 933.3,1000.6 933.8,1001.3 934.4,1001.6 934.9,1004.2 935.5,1006.4 936.0,1005.3 936.6,1004.1 937.1,1004.9 937.7,1005.6 938.2,1007.8 938.7,1009.9 939.3,1009.0 939.8,1008.1 940.4,1008.0 940.9,1007.9 941.5,1007.4 942.0,1007.0 942.5,1008.0 943.1,1009.1 943.6,1007.2 944.2,1005.4 944.7,1005.7 945.3,1005.9 945.8,1006.8 946.4,1007.6 946.9,1006.5 947.4,1005.3 948.0,1005.1 948.5,1005.0 949.1,1005.6 949.6,1006.4 950.2,1006.6 950.7,1006.8 951.2,1007.0 951.8,1007.2 952.3,1009.4 952.9,1011.5 953.4,1011.0 954.0,1010.5 954.5,1010.9 955.1,1011.3 955.6,1010.2 956.1,1009.1 956.7,1008.9 957.2,1008.6 957.8,1007.8 958.3,1007.0 958.9,1008.3 959.4,1009.5 959.9,1007.8 960.5,1006.0 961.0,1007.5 961.6,1009.1 962.1,1010.4 962.7,1011.7 963.2,1012.4 963.8,1013.1 964.3,1012.3 964.8,1011.4 965.4,1009.4 965.9,1007.4 966.5,1008.8 967.0,1010.2 967.6,1008.9 968.1,1007.6 968.6,1009.3 969.2,1011.1 969.7,1010.2 970.3,1009.3 970.8,1010.5 971.4,1011.6 971.9,1013.6 972.4,1015.6 973.0,1014.1 973.5,1012.7 974.1,1014.5 974.6,1016.2 975.2,1014.2 975.7,1012.2 976.3,1011.7 976.8,1011.2 977.3,1012.8 977.9,1014.3 978.4,1014.3 979.0,1014.3 979.5,1011.5 980.1,1008.7 980.6,1008.9 981.1,1009.2 981.7,1007.2 982.2,1005.3 982.8,1006.4 983.3,1007.5 983.9,1008.4 984.4,1009.4 985.0,1008.1 985.5,1006.8 986.0,1006.0 986.6,1005.0 987.1,1003.5 987.7,1001.8 988.2,1002.6 988.8,1003.0 989.3,1001.4 989.8,999.0 990.4,994.8 990.9,988.9 991.5,980.2 992.0,966.4 992.6,940.3 993.1,890.5 993.7,807.7 994.2,688.3 994.7,637.0 995.3,736.3 995.8,837.1 996.4,881.8 996.9,878.9 997.5,837.8 998.0,797.5 998.5,836.9 999.1,906.8 999.6,951.4 1000.2,972.9 1000.7,984.3 1001.3,991.6 1001.8,996.6 1002.4,1000.8 1002.9,1004.1 1003.4,1004.9 1004.0,1005.4 1004.5,1004.1 1005.1,1002.7 1005.6,1005.2 1006.2,1007.5 1006.7,1008.8 1007.2,1009.9 1007.8,1010.3 1008.3,1010.5 1008.9,1009.3 1009.4,1008.0 1010.0,1007.7 1010.5,1007.4 1011.1,1009.8 1011.6,1012.2 1012.1,1012.1 1012.7,1012.0 1013.2,1011.7 1013.8,1011.5 1014.3,1009.9 1014.9,1008.2 1015.4,1011.9 1015.9,1015.6 1016.5,1010.9 1017.0,1006.2 1017.6,1008.9 1018.1,1011.7 1018.7,1014.3 1019.2,1016.9 1019.7,1014.7 1020.3,1012.4 1020.8,1012.8 1021.4,1013.1 1021.9,1011.6 1022.5,1010.2 1023.0,1012.8 1023.6,1015.4 1024.1,1012.7 1024.6,1010.1 1025.2,1011.7 1025.7,1013.3 1026.3,1013.1 1026.8,1013.0 1027.4,1011.8 1027.9,1010.6 1028.4,1012.7 1029.0,1014.7 1029.5,1012.5 1030.1,1010.3 1030.6,1011.1 1031.2,1012.0 1031.7,1012.7 1032.3,1013.4 1032.8,1013.0 1033.3,1012.6 1033.9,1013.5 1034.4,1014.4 1035.0,1014.9 1035.5,1015.4 1036.1,1014.1 1036.6,1012.9 1037.1,1012.7 1037.7,1012.5 1038.2,1012.5 1038.8,1012.6 1039.3,1012.9 1039.9,1013.3 1040.4,1014.7 1041.0,1016.1 1041.5,1015.4 1042.0,1014.6 1042.6,1015.4 1043.1,1016.2 1043.7,1015.8 1044.2,1015.3 1044.8,1014.5 1045.3,1013.5 1045.8,1015.0 1046.4,1016.5 1046.9,1014.3 1047.5,1012.2 1048.0,1013.1 1048.6,1014.0 1049.1,1015.5 1049.7,1017.0 1050.2,1014.5 1050.7,1012.0 1051.3,1013.1 1051.8,1014.2 1052.4,1012.6 1052.9,1011.1 1053.5,1012.1 1054.0,1013.0 1054.5,1011.9 1055.1,1010.8 1055.6,1011.8 1056.2,1012.8 1056.7,1012.4 1057.3,1012.2 1057.8,1012.8 1058.3,1013.5 1058.9,1015.0 1059.4,1016.6 1060.0,1015.4 1060.5,1014.3 1061.1,1014.7 1061.6,1015.1 1062.2,1014.4 1062.7,1013.6 1063.2,1013.3 1063.8,1012.9 1064.3,1012.2 1064.9,1011.4 1065.4,1010.3 1066.0,1009.2 1066.5,1011.0 1067.0,1012.9 1067.6,1014.5 1068.1,1016.2 1068.7,1015.2 1069.2,1014.3 1069.8,1013.5 1070.3,1012.6 1070.9,1014.9 1071.4,1017.2 1071.9,1015.1 1072.5,1013.0 1073.0,1012.8 1073.6,1012.5 1074.1,1011.9 1074.7,1011.3 1075.2,1011.6 1075.7,1012.0 1076.3,1012.9 1076.8,1013.8 1077.4,1016.2 1077.9,1018.6 1078.5,1016.6 1079.0,1014.5 1079.6,1013.7 1080.1,1012.8 1080.6,1013.1 1081.2,1013.4 1081.7,1013.6 1082.3,1013.9 1082.8,1012.3 1083.4,1010.8 1083.9,1012.6 1084.4,1014.4 1085.0,1015.0 1085.5,1015.6 1086.1,1015.3 1086.6,1015.0 1087.2,1015.3 1087.7,1015.6 1088.3,1013.8 1088.8,1011.9 1089.3,1011.6 1089.9,1011.2 1090.4,1014.2 1091.0,1017.2 1091.5,1017.1 1092.1,1017.0 1092.6,1014.6 1093.1,1012.1 1093.7,1014.0 1094.2,1015.7 1094.8,1015.5 1095.3,1015.2 1095.9,1015.5 1096.4,1015.8 1096.9,1015.3 1097.5,1014.9 1098.0,1014.2 1098.6,1013.5 1099.1,1014.4 1099.7,1015.2 1100.2,1015.3 1100.8,1015.4 1101.3,1015.3 1101.8,1015.2 1102.4,1013.4 1102.9,1011.6 1103.5,1010.4 1104.0,1009.2 1104.6,1011.3 1105.1,1013.3 1105.6,1012.4 1106.2,1011.5 1106.7,1013.2 1107.3,1015.0 1107.8,1015.4 1108.4,1015.8 1108.9,1015.5 1109.5,1015.2 1110.0,1014.7 1110.5,1014.3 1111.1,1014.9 1111.6,1015.4 1112.2,1016.6 1112.7,1017.7 1113.3,1015.8 1113.8,1013.9 1114.3,1015.5 1114.9,1017.0 1115.4,1016.7 1116.0,1016.5 1116.5,1016.0 1117.1,1015.5 1117.6,1016.6 1118.2,1017.8 1118.7,1015.7 1119.2,1013.6 1119.8,1015.2 1120.3,1016.8 1120.9,1014.9 1121.4,1013.0 1122.0,1013.1 1122.5,1013.2 1123.0,1012.9 1123.6,1012.6 1124.1,1014.1 1124.7,1015.7 1125.2,1014.5 1125.8,1013.3 1126.3,1014.4 1126.9,1015.5 1127.4,1014.4 1127.9,1013.3 1128.5,1015.4 1129.0,1017.5 1129.6,1018.2 1130.1,1018.9 1130.7,1017.2 1131.2,1015.6 1131.7,1016.9 1132.3,1018.2 1132.8,1017.2 1133.4,1016.1 1133.9,1017.8 1134.5,1019.4 1135.0,1017.5 1135.5,1015.6 1136.1,1014.1 1136.6,1012.6 1137.2,1015.6 1137.7,1018.7 1138.3,1017.0 1138.8,1015.4 1139.4,1014.4 1139.9,1013.4 1140.4,1013.6 1141.0,1013.9 1141.5,1012.9 1142.1,1012.0 1142.6,1013.5 1143.2,1015.2 1143.7,1014.5 1144.2,1013.9 1144.8,1016.7 1145.3,1019.5 1145.9,1018.9 1146.4,1018.3 1147.0,1016.1 1147.5,1013.9 1148.1,1014.2 1148.6,1014.4 1149.1,1015.3 1149.7,1016.3 1150.2,1014.9 1150.8,1013.5 1151.3,1015.2 1151.9,1016.9 1152.4,1016.8 1152.9,1016.8 1153.5,1016.0 1154.0,1015.2 1154.6,1015.3 1155.1,1015.5 1155.7,1016.4 1156.2,1017.4 1156.8,1018.3 1157.3,1019.1 1157.8,1019.1 1158.4,1019.2 1158.9,1017.7 1159.5,1016.3 1160.0,1017.0 1160.6,1017.8 1161.1,1016.2 1161.6,1014.5 1162.2,1015.5 1162.7,1016.4 1163.3,1014.9 1163.8,1013.3 1164.4,1014.7 1164.9,1016.1 1165.5,1014.0 1166.0,1012.1 1166.5,1012.3 1167.1,1012.6 1167.6,1013.7 1168.2,1014.7 1168.7,1015.4 1169.3,1016.0 1169.8,1014.2 1170.3,1012.4 1170.9,1013.3 1171.4,1014.2 1172.0,1014.9 1172.5,1015.5 1173.1,1015.6 1173.6,1015.7 1174.2,1014.7 1174.7,1013.7 1175.2,1014.5 1175.8,1015.4 1176.3,1015.0 1176.9,1014.6 1177.4,1016.2 1178.0,1017.7 1178.5,1016.9 1179.0,1016.1 1179.6,1014.3 1180.1,1012.6 1180.7,1011.8 1181.2,1011.1 1181.8,1013.4 1182.3,1015.7 1182.8,1016.9 1183.4,1018.1 1183.9,1017.3 1184.5,1016.4 1185.0,1017.1 1185.6,1017.8 1186.1,1016.4 1186.7,1015.0 1187.2,1014.1 1187.7,1013.1 1188.3,1015.0 1188.8,1016.9 1189.4,1016.2 1189.9,1015.5 1190.5,1016.0 1191.0,1016.5 1191.5,1014.6 1192.1,1012.7 1192.6,1014.3 1193.2,1015.9 1193.7,1015.3 1194.3,1014.8 1194.8,1016.3 1195.4,1017.9 1195.9,1016.7 1196.4,1015.4 1197.0,1015.5 1197.5,1015.5 1198.1,1015.5 1198.6,1015.5 1199.2,1017.3 1199.7,1019.1 1200.2,1017.9 1200.8,1016.6 1201.3,1015.8 1201.9,1014.9 1202.4,1014.4 1203.0,1013.9 1203.5,1013.7 1204.1,1013.5 1204.6,1015.7 1205.1,1018.0 1205.7,1014.9 1206.2,1011.8 1206.8,1012.8 1207.3,1013.8 1207.9,1015.4 1208.4,1017.0 1208.9,1017.7 1209.5,1018.4 1210.0,1017.4 1210.6,1016.3 1211.1,1017.3 1211.7,1018.3 1212.2,1018.3 1212.8,1018.1 1213.3,1018.2 1213.8,1018.1 1214.4,1016.9 1214.9,1015.7 1215.5,1017.0 1216.0,1018.2 1216.6,1016.7 1217.1,1015.3 1217.6,1016.5 1218.2,1017.8 1218.7,1015.4 1219.3,1013.0 1219.8,1015.0 1220.4,1016.9 1220.9,1014.8 1221.4,1012.5 1222.0,1012.0 1222.5,1011.6 1223.1,1013.2 1223.6,1015.0 1224.2,1013.7 1224.7,1012.4 1225.3,1013.7 1225.8,1015.0 1226.3,1013.7 1226.9,1012.4 1227.4,1014.9 1228.0,1017.5 1228.5,1016.0 1229.1,1014.5 1229.6,1013.4 1230.1,1012.4 1230.7,1013.6 1231.2,1014.9 1231.8,1015.5 1232.3,1016.1 1232.9,1014.4 1233.4,1012.5 1234.0,1013.3 1234.5,1014.0 1235.0,1014.8 1235.6,1015.4 1236.1,1013.1 1236.7,1010.6 1237.2,1008.1 1237.8,1005.4 1238.3,1003.0 1238.8,1001.0 1239.4,1001.7 1239.9,1003.7 1240.5,1003.2 1241.0,1003.1 1241.6,1003.7 1242.1,1003.9 1242.7,1007.6 1243.2,1011.0 1243.7,1011.3 1244.3,1011.4 1244.8,1014.4 1245.4,1017.3 1245.9,1015.8 1246.5,1014.3 1247.0,1013.1 1247.5,1011.9 1248.1,1011.5 1248.6,1010.9 1249.2,1011.9 1249.7,1012.6 1250.3,1009.9 1250.8,1006.0 1251.4,1001.3 1251.9,991.9 1252.4,976.8 1253.0,966.0 1253.5,976.1 1254.1,991.7 1254.6,1000.9 1255.2,1004.6 1255.7,1004.4 1256.2,1000.5 1256.8,994.7 1257.3,993.3 1257.9,1000.9 1258.4,1008.8 1259.0,1009.9 1259.5,1009.0 1260.0,1014.4 1260.6,1019.2 1261.1,1017.4 1261.7,1015.4 1262.2,1016.6 1262.8,1017.7 1263.3,1015.8 1263.9,1013.9 1264.4,1014.8 1264.9,1015.6 1265.5,1015.5 1266.0,1015.3 1266.6,1015.1 1267.1,1015.0 1267.7,1015.7 1268.2,1016.4 1268.7,1016.2 1269.3,1016.0 1269.8,1014.5 1270.4,1012.9 1270.9,1013.7 1271.5,1014.5 1272.0,1015.3 1272.6,1016.1 1273.1,1016.2 1273.6,1016.2 1274.2,1015.4 1274.7,1014.6 1275.3,1014.7 1275.8,1014.8 1276.4,1015.0 1276.9,1015.2 1277.4,1014.4 1278.0,1013.7 1278.5,1013.6 1279.1,1013.5 1279.6,1016.2 1280.2,1018.8 1280.7,1016.9 1281.3,1015.1 1281.8,1015.4 1282.3,1015.8 1282.9,1015.0 1283.4,1014.2 1284.0,1016.1 1284.5,1018.0 1285.1,1018.4 1285.6,1018.9 1286.1,1017.1 1286.7,1015.3 1287.2,1016.0 1287.8,1016.7 1288.3,1015.6 1288.9,1014.5 1289.4,1016.8 1290.0,1019.2 1290.5,1018.5 1291.0,1017.8 1291.6,1016.2 1292.1,1014.7 1292.7,1016.6 1293.2,1018.5 1293.8,1017.7 1294.3,1016.9 1294.8,1017.0 1295.4,1017.1 1295.9,1017.1 1296.5,1017.1 1297.0,1016.2 1297.6,1015.3 1298.1,1015.4 1298.6,1015.5 1299.2,1016.5 1299.7,1017.5 1300.3,1016.8 1300.8,1016.0 1301.4,1015.1 1301.9,1014.1 1302.5,1016.7 1303.0,1019.4 1303.5,1017.3 1304.1,1015.4 1304.6,1015.1 1305.2,1014.9 1305.7,1014.9 1306.3,1014.9 1306.8,1016.2 1307.3,1017.6 1307.9,1017.9 1308.4,1018.1 1309.0,1017.5 1309.5,1016.8 1310.1,1017.4 1310.6,1017.9 1311.2,1015.8 1311.7,1013.7 1312.2,1014.7 1312.8,1015.8 1313.3,1015.7 1313.9,1015.7 1314.4,1016.1 1315.0,1016.6 1315.5,1017.0 1316.0,1017.4 1316.6,1015.1 1317.1,1012.7 1317.7,1017.3 1318.2,1021.8 1318.8,1018.1 1319.3,1014.4 1319.9,1015.4 1320.4,1016.5 1320.9,1016.9 1321.5,1017.4 1322.0,1017.5 1322.6,1017.7 1323.1,1017.3 1323.7,1016.9 1324.2,1014.2 1324.7,1011.5 1325.3,1013.2 1325.8,1014.9 1326.4,1016.6 1326.9,1018.3 1327.5,1016.7 1328.0,1015.2 1328.6,1015.0 1329.1,1014.8 1329.6,1013.6 1330.2,1012.3 1330.7,1015.5 1331.3,1018.6 1331.8,1017.8 1332.4,1017.0 1332.9,1015.5 1333.4,1014.1 1334.0,1014.6 1334.5,1015.1 1335.1,1014.9 1335.6,1014.8 1336.2,1013.8 1336.7,1012.7 1337.3,1013.4 1337.8,1014.2 1338.3,1014.7 1338.9,1015.3 1339.4,1015.7 1340.0,1016.2 1340.5,1017.0 1341.1,1017.9 1341.6,1016.9 1342.1,1016.0 1342.7,1015.6 1343.2,1015.3 1343.8,1016.1 1344.3,1016.9 1344.9,1016.0 1345.4,1015.1 1345.9,1014.5 1346.5,1013.9 1347.0,1016.0 1347.6,1018.0 1348.1,1016.5 1348.7,1015.0 1349.2,1015.3 1349.8,1015.6 1350.3,1015.9 1350.8,1016.3 1351.4,1014.7 1351.9,1013.0 1352.5,1014.6 1353.0,1016.2 1353.6,1016.0 1354.1,1015.9 1354.6,1015.5 1355.2,1015.0 1355.7,1015.5 1356.3,1015.9 1356.8,1014.7 1357.4,1013.5 1357.9,1012.0 1358.5,1010.4 1359.0,1011.8 1359.5,1013.2 1360.1,1012.2 1360.6,1011.3 1361.2,1012.6 1361.7,1014.0 1362.3,1013.2 1362.8,1012.4 1363.3,1011.5 1363.9,1010.7 1364.4,1011.1 1365.0,1011.6 1365.5,1012.8 1366.1,1014.0 1366.6,1013.8 1367.2,1013.6 1367.7,1012.9 1368.2,1012.2 1368.8,1012.3 1369.3,1012.3 1369.9,1011.6 1370.4,1011.0 1371.0,1011.1 1371.5,1011.3 1372.0,1012.0 1372.6,1012.7 1373.1,1012.1 1373.7,1011.6 1374.2,1012.1 1374.8,1012.7 1375.3,1011.6 1375.9,1010.5 1376.4,1010.2 1376.9,1010.0 1377.5,1010.2 1378.0,1010.5 1378.6,1011.8 1379.1,1013.2 1379.7,1014.9 1380.2,1016.6 1380.7,1016.5 1381.3,1016.4 1381.8,1014.4 1382.4,1012.4 1382.9,1011.9 1383.5,1011.4 1384.0,1013.6 1384.5,1015.8 1385.1,1015.7 1385.6,1015.5 1386.2,1014.0 1386.7,1012.5 1387.3,1014.7 1387.8,1016.9 1388.4,1016.0 1388.9,1015.1 1389.4,1015.9 1390.0,1016.8 1390.5,1015.7 1391.1,1014.6 1391.6,1015.0 1392.2,1015.3 1392.7,1014.7 1393.2,1014.1 1393.8,1012.8 1394.3,1011.6 1394.9,1012.1 1395.4,1012.6 1396.0,1012.0 1396.5,1011.3 1397.1,1012.3 1397.6,1013.3 1398.1,1011.1 1398.7,1008.9 1399.2,1007.7 1399.8,1006.3 1400.3,1007.4 1400.9,1008.4 1401.4,1007.5 1401.9,1006.2 1402.5,1004.3 1403.0,1001.5 1403.6,996.8 1404.1,990.0 1404.7,976.6 1405.2,954.8 1405.8,919.2 1406.3,849.1 1406.8,733.4 1407.4,649.0 1407.9,724.0 1408.5,839.0 1409.0,904.8 1409.6,933.5 1410.1,944.2 1410.6,935.6 1411.2,900.7 1411.7,845.5 1412.3,826.4 1412.8,879.8 1413.4,936.1 1413.9,968.9 1414.5,986.2 1415.0,995.9 1415.5,999.9 1416.1,1002.3 1416.6,1005.8 1417.2,1008.7 1417.7,1010.2 1418.3,1011.4 1418.8,1011.9 1419.3,1012.2 1419.9,1012.9 1420.4,1013.4 1421.0,1013.1 1421.5,1012.8 1422.1,1014.5 1422.6,1016.1 1423.1,1014.8 1423.7,1013.5 1424.2,1013.5 1424.8,1013.5 1425.3,1014.9 1425.9,1016.4 1426.4,1015.3 1427.0,1014.2 1427.5,1015.4 1428.0,1016.6 1428.6,1017.2 1429.1,1017.8 1429.7,1016.9 1430.2,1016.0 1430.8,1016.0 1431.3,1015.9 1431.8,1016.4 1432.4,1017.0 1432.9,1016.7 1433.5,1016.4 1434.0,1014.3 1434.6,1012.2 1435.1,1012.4 1435.7,1012.6 1436.2,1014.9 1436.7,1017.3 1437.3,1016.6 1437.8,1015.9 1438.4,1013.9 1438.9,1011.8 1439.5,1012.5 1440.0,1013.2 1440.5,1014.4 1441.1,1015.6 1441.6,1014.7 1442.2,1013.8 1442.7,1014.9 1443.3,1016.1 1443.8,1015.7 1444.4,1015.3 1444.9,1015.6 1445.4,1016.0 1446.0,1014.7 1446.5,1013.5 1447.1,1015.2 1447.6,1017.0 1448.2,1018.5 1448.7,1019.8 1449.2,1017.7 1449.8,1015.5 1450.3,1017.4 1450.9,1019.2 1451.4,1018.9 1452.0,1018.6 1452.5,1018.2 1453.1,1017.8 1453.6,1017.0 1454.1,1016.3 1454.7,1015.2 1455.2,1014.1 1455.8,1014.1 1456.3,1014.1 1456.9,1015.2 1457.4,1016.4 1457.9,1016.3 1458.5,1016.3 1459.0,1016.3 1459.6,1016.4 1460.1,1016.1 1460.7,1015.8 1461.2,1015.8 1461.7,1015.8 1462.3,1014.8 1462.8,1013.8 1463.4,1013.4 1463.9,1013.0 1464.5,1014.5 1465.0,1016.0 1465.6,1016.6 1466.1,1017.1 1466.6,1016.9 1467.2,1016.6 1467.7,1015.3 1468.3,1013.9 1468.8,1014.7 1469.4,1015.5 1469.9,1014.6 1470.4,1013.7 1471.0,1015.0 1471.5,1016.3 1472.1,1015.2 1472.6,1014.2 1473.2,1014.9 1473.7,1015.6 1474.3,1016.0 1474.8,1016.4 1475.3,1016.3 1475.9,1016.2 1476.4,1017.3 1477.0,1018.5 1477.5,1016.6 1478.1,1014.6 1478.6,1013.8 1479.1,1012.9 1479.7,1015.6 1480.2,1018.2 1480.8,1018.4 1481.3,1018.6 1481.9,1018.5 1482.4,1018.3 1483.0,1017.1 1483.5,1016.0 1484.0,1016.1 1484.6,1016.2 1485.1,1015.9 1485.7,1015.6 1486.2,1014.5 1486.8,1013.5 1487.3,1014.4 1487.8,1015.2 1488.4,1016.4 1488.9,1017.5 1489.5,1016.7 1490.0,1015.9 1490.6,1018.0 1491.1,1020.1 1491.7,1017.1 1492.2,1014.2 1492.7,1015.0 1493.3,1015.8 1493.8,1017.0 1494.4,1018.1 1494.9,1016.6 1495.5,1015.0 1496.0,1014.5 1496.5,1014.0 1497.1,1013.8 1497.6,1013.6 1498.2,1014.1 1498.7,1014.7 1499.3,1016.6 1499.8,1018.5 1500.4,1017.6 1500.9,1016.7 1501.4,1016.9 1502.0,1017.0 1502.5,1016.3 1503.1,1015.4 1503.6,1016.6 1504.2,1017.7 1504.7,1017.0 1505.2,1016.3 1505.8,1015.3 1506.3,1014.3 1506.9,1014.6 1507.4,1014.9 1508.0,1015.4 1508.5,1016.0 1509.0,1016.8 1509.6,1017.7 1510.1,1016.7 1510.7,1015.8 1511.2,1016.3 1511.8,1016.8 1512.3,1018.1 1512.9,1019.4 1513.4,1017.0 1513.9,1014.5 1514.5,1014.1 1515.0,1013.6 1515.6,1015.3 1516.1,1017.0 1516.7,1016.4 1517.2,1015.8 1517.7,1015.2 1518.3,1014.6 1518.8,1014.8 1519.4,1014.9 1519.9,1014.2 1520.5,1013.4 1521.0,1013.6 1521.6,1013.4 1522.1,1010.7 1522.6,1005.9 1523.2,999.4 1523.7,991.2 1524.3,989.0 1524.8,996.1 1525.4,1003.7 1525.9,1007.7 1526.4,1010.1 1527.0,1011.2 1527.5,1009.9 1528.1,1007.0 1528.6,1003.9 1529.2,1002.5 1529.7,1005.4 1530.3,1009.5 1530.8,1012.1 1531.3,1013.2 1531.9,1014.7 1532.4,1015.8 1533.0,1015.3 1533.5,1014.7 1534.1,1013.7 1534.6,1012.7 1535.1,1012.8 1535.7,1013.0 1536.2,1013.1 1536.8,1013.3 1537.3,1013.5 1537.9,1013.7 1538.4,1014.2 1539.0,1014.6 1539.5,1015.3 1540.0,1016.0 1540.6,1015.7 1541.1,1015.5 1541.7,1016.6 1542.2,1017.7 1542.8,1017.4 1543.3,1017.1 1543.8,1016.0 1544.4,1014.8 1544.9,1016.4 1545.5,1017.9 1546.0,1017.4 1546.6,1017.0 1547.1,1015.5 1547.6,1014.0 1548.2,1014.5 1548.7,1015.0 1549.3,1015.4 1549.8,1015.9 1550.4,1014.9 1550.9,1013.8 1551.5,1014.1 1552.0,1014.4 1552.5,1013.4 1553.1,1012.2 1553.6,1011.7 1554.2,1011.0 1554.7,1008.8 1555.3,1006.1 1555.8,1004.1 1556.3,1001.1 1556.9,994.9 1557.4,985.4 1558.0,970.5 1558.5,940.2 1559.1,877.3 1559.6,787.5 1560.2,764.0 1560.7,842.1 1561.2,915.6 1561.8,956.5 1562.3,973.6 1562.9,978.7 1563.4,974.8 1564.0,958.8 1564.5,927.5 1565.0,890.2 1565.6,895.4 1566.1,936.9 1566.7,969.8 1567.2,987.7 1567.8,997.3 1568.3,1002.8 1568.9,1006.1 1569.4,1008.3 1569.9,1010.8 1570.5,1012.8 1571.0,1012.1 1571.6,1011.3 1572.1,1013.5 1572.7,1015.6 1573.2,1014.0 1573.7,1012.3 1574.3,1013.4 1574.8,1014.5 1575.4,1015.4 1575.9,1016.3 1576.5,1017.4 1577.0,1018.5 1577.6,1017.1 1578.1,1015.7 1578.6,1014.4 1579.2,1013.1 1579.7,1015.2 1580.3,1017.2 1580.8,1016.8 1581.4,1016.5 1581.9,1015.6 1582.4,1014.8 1583.0,1014.9 1583.5,1015.0 1584.1,1015.3 1584.6,1015.6 1585.2,1016.3 1585.7,1016.8 1586.2,1017.1 1586.8,1017.4 1587.3,1015.4 1587.9,1013.4 1588.4,1016.2 1589.0,1019.0 1589.5,1016.8 1590.1,1014.7 1590.6,1014.2 1591.1,1013.6 1591.7,1014.1 1592.2,1014.5 1592.8,1013.2 1593.3,1011.4 1593.9,1011.1 1594.4,1009.3 1594.9,1000.9 1595.5,985.4 1596.0,958.8 1596.6,933.0 1597.1,943.7 1597.7,971.2 1598.2,989.5 1598.8,998.5 1599.3,1002.4 1599.8,1003.3 1600.4,1001.9 1600.9,996.4 1601.5,983.1 1602.0,971.0 1602.6,980.4 1603.1,996.5 1603.6,1004.1 1604.2,1007.6 1604.7,1010.1 1605.3,1011.6 1605.8,1013.5 1606.4,1015.2 1606.9,1013.4 1607.5,1011.5 1608.0,1012.8 1608.5,1013.9 1609.1,1015.5 1609.6,1017.0 1610.2,1016.7 1610.7,1016.4 1611.3,1016.6 1611.8,1016.7 1612.3,1017.1 1612.9,1017.5 1613.4,1016.8 1614.0,1016.0 1614.5,1016.4 1615.1,1016.8 1615.6,1015.9 1616.2,1015.1 1616.7,1014.8 1617.2,1014.5 1617.8,1017.2 1618.3,1019.8 1618.9,1018.2 1619.4,1016.5 1620.0,1016.7 1620.5,1016.9 1621.0,1018.5 1621.6,1020.1 1622.1,1019.8 1622.7,1019.4 1623.2,1018.1 1623.8,1016.8 1624.3,1016.7 1624.8,1016.7 1625.4,1017.0 1625.9,1017.4 1626.5,1016.7 1627.0,1016.1 1627.6,1017.3 1628.1,1018.7 1628.7,1018.5 1629.2,1018.4 1629.7,1018.7 1630.3,1018.9 1630.8,1019.5 1631.4,1020.1 1631.9,1020.1 1632.5,1020.1 1633.0,1020.9 1633.5,1021.6 1634.1,1021.1 1634.6,1020.6 1635.2,1017.9 1635.7,1015.2 1636.3,1017.1 1636.8,1019.2 1637.4,1017.7 1637.9,1016.2 1638.4,1016.1 1639.0,1016.0 1639.5,1017.8 1640.1,1019.6 1640.6,1018.5 1641.2,1017.5 1641.7,1017.8 1642.2,1018.1 1642.8,1019.2 1643.3,1020.3 1643.9,1018.9 1644.4,1017.5 1645.0,1017.2 1645.5,1016.8 1646.1,1017.6 1646.6,1018.3 1647.1,1018.8 1647.7,1019.3 1648.2,1018.6 1648.8,1018.0 1649.3,1016.4 1649.9,1014.8 1650.4,1015.6 1650.9,1016.4 1651.5,1016.9 1652.0,1017.4 1652.6,1019.1 1653.1,1020.8 1653.7,1020.1 1654.2,1019.4 1654.8,1019.4 1655.3,1019.4 1655.8,1019.8 1656.4,1020.2 1656.9,1019.2 1657.5,1018.1 1658.0,1018.9 1658.6,1019.6 1659.1,1019.7 1659.6,1019.6 1660.2,1018.3 1660.7,1016.8 1661.3,1017.1 1661.8,1017.2 1662.4,1016.7 1662.9,1016.1 1663.5,1013.4 1664.0,1010.4 1664.5,1010.3 1665.1,1010.2 1665.6,1009.2 1666.2,1009.0 1666.7,1010.1 1667.3,1011.9 1667.8,1012.2 1668.3,1012.3 1668.9,1014.4 1669.4,1016.2 1670.0,1018.0 1670.5,1019.5 1671.1,1019.3 1671.6,1018.9 1672.1,1017.7 1672.7,1016.4 1673.2,1017.2 1673.8,1018.0 1674.3,1019.0 1674.9,1020.0 1675.4,1019.0 1676.0,1018.0 1676.5,1018.5 1677.0,1019.0 1677.6,1020.8 1678.1,1022.6 1678.7,1020.6 1679.2,1018.7 1679.8,1018.7 1680.3,1018.6 1680.8,1017.9 1681.4,1017.2 1681.9,1017.5 1682.5,1017.8 1683.0,1019.4 1683.6,1021.1 1684.1,1019.9 1684.7,1018.7 1685.2,1017.9 1685.7,1017.2 1686.3,1017.5 1686.8,1017.9 1687.4,1018.8 1687.9,1019.7 1688.5,1020.5 1689.0,1021.3 1689.5,1020.4 1690.1,1019.4 1690.6,1020.6 1691.2,1021.8 1691.7,1020.9 1692.3,1019.9 1692.8,1020.5 1693.4,1021.1 1693.9,1021.2 1694.4,1021.2 1695.0,1021.2 1695.5,1021.1 1696.1,1020.2 1696.6,1019.3 1697.2,1019.4 1697.7,1019.5 1698.2,1020.0 1698.8,1020.4 1699.3,1019.1 1699.9,1017.8 1700.4,1019.0 1701.0,1020.2 1701.5,1020.6 1702.1,1020.9 1702.6,1021.4 1703.1,1021.9 1703.7,1021.1 1704.2,1020.2 1704.8,1020.1 1705.3,1020.0 1705.9,1020.2 1706.4,1020.5 1706.9,1019.9 1707.5,1019.3 1708.0,1019.8 1708.6,1020.4 1709.1,1021.0 1709.7,1021.6 1710.2,1021.6 1710.7,1021.6 1711.3,1020.6 1711.8,1019.5 1712.4,1020.0 1712.9,1020.4 1713.5,1018.9 1714.0,1017.4 1714.6,1019.5 1715.1,1021.5 1715.6,1020.4 1716.2,1019.4 1716.7,1020.0 1717.3,1020.6 1717.8,1019.7 1718.4,1018.8 1718.9,1019.7 1719.4,1020.7 1720.0,1021.2 1720.5,1021.7 1721.1,1022.2 1721.6,1022.6 1722.2,1020.8 1722.7,1019.0 1723.3,1020.7 1723.8,1022.3 1724.3,1021.5 1724.9,1020.8 1725.4,1020.3 1726.0,1019.8 1726.5,1020.7 1727.1,1021.5 1727.6,1020.8 1728.1,1020.0 1728.7,1019.8 1729.2,1019.5 1729.8,1019.0 1730.3,1018.6 1730.9,1019.2 1731.4,1019.9 1732.0,1019.9 1732.5,1020.0 1733.0,1020.1 1733.6,1020.2 1734.1,1019.9 1734.7,1019.5 1735.2,1020.0 1735.8,1020.4 1736.3,1021.2 1736.8,1021.9 1737.4,1022.6 1737.9,1023.2 1738.5,1022.2 1739.0,1021.3 1739.6,1022.4 1740.1,1023.5 1740.7,1022.4 1741.2,1021.4 1741.7,1020.5 1742.3,1019.7 1742.8,1020.9 1743.4,1022.2 1743.9,1021.0 1744.5,1019.8 1745.0,1020.9 1745.5,1022.0 1746.1,1022.7 1746.6,1023.3 1747.2,1022.4 1747.7,1021.4 1748.3,1021.6 1748.8,1021.8 1749.3,1023.7 1749.9,1025.6 1750.4,1023.9 1751.0,1022.2 1751.5,1022.2 1752.1,1022.2 1752.6,1022.6 1753.2,1023.0 1753.7,1022.4 1754.2,1021.8 1754.8,1021.9 1755.3,1021.9 1755.9,1022.3 1756.4,1022.6 1757.0,1020.6 1757.5,1018.4 1758.0,1021.2 1758.6,1023.9 1759.1,1021.9 1759.7,1020.0 1760.2,1019.9 1760.8,1019.8 1761.3,1021.0 1761.9,1022.1 1762.4,1021.8 1762.9,1021.4 1763.5,1020.4 1764.0,1019.5 1764.6,1020.5 1765.1,1021.5 1765.7,1020.4 1766.2,1019.4 1766.7,1019.7 1767.3,1020.0 1767.8,1019.4 1768.4,1018.9 1768.9,1019.5 1769.5,1020.1 1770.0,1021.1 1770.6,1022.1 1771.1,1022.1 1771.6,1022.1 1772.2,1022.4 1772.7,1022.7 1773.3,1023.3 1773.8,1023.8 1774.4,1023.2 1774.9,1022.5 1775.4,1022.0 1776.0,1021.5 1776.5,1021.7 1777.1,1021.9 1777.6,1023.3 1778.2,1024.7 1778.7,1023.5 1779.3,1022.3 1779.8,1022.5 1780.3,1022.7 1780.9,1022.4 1781.4,1022.2 1782.0,1022.5 1782.5,1022.7 1783.1,1022.9 1783.6,1023.0 1784.1,1022.6 1784.7,1022.1 1785.2,1021.8 1785.8,1021.5 1786.3,1020.8 1786.9,1020.2 1787.4,1020.0 1787.9,1019.9 1788.5,1020.9 1789.0,1022.1 1789.6,1022.6 1790.1,1023.2 1790.7,1023.7 1791.2,1024.2 1791.8,1023.8 1792.3,1023.4 1792.8,1022.9 1793.4,1022.3 1793.9,1023.4 1794.5,1024.5 1795.0,1024.6 1795.6,1024.6 1796.1,1023.1 1796.6,1021.6 1797.2,1023.3 1797.7,1025.0 1798.3,1024.7 1798.8,1024.5 1799.4,1025.2 1799.9,1026.0 1800.5,1023.9 1801.0,1021.9 1801.5,1021.8 1802.1,1021.8 1802.6,1023.3 1803.2,1024.9 1803.7,1023.0 1804.3,1021.0 1804.8,1021.5 1805.3,1021.9 1805.9,1021.1 1806.4,1020.0 1807.0,1018.8 1807.5,1016.8 1808.1,1012.7 1808.6,1006.6 1809.2,1002.0 1809.7,1002.4 1810.2,1008.8 1810.8,1015.5 1811.3,1018.9 1811.9,1020.5 1812.4,1021.4 1813.0,1021.6 1813.5,1020.6 1814.0,1018.9 1814.6,1018.1 1815.1,1016.6 1815.7,1013.8 1816.2,1014.6 1816.8,1018.1 1817.3,1021.0 1817.9,1020.6 1818.4,1019.6 1818.9,1021.5 1819.5,1023.3 1820.0,1022.6 1820.6,1021.7 1821.1,1023.0 1821.7,1024.3 1822.2,1024.3 1822.7,1024.3 1823.3,1023.5 1823.8,1022.6 1824.4,1023.5 1824.9,1024.5 1825.5,1025.1 1826.0,1025.8 1826.6,1025.3 1827.1,1024.8 1827.6,1024.9 1828.2,1025.0 1828.7,1024.1 1829.3,1023.1 1829.8,1023.4 1830.4,1023.8 1830.9,1023.7 1831.4,1023.6 1832.0,1024.6 1832.5,1025.6 1833.1,1026.5 1833.6,1027.3 1834.2,1026.8 1834.7,1026.2 1835.2,1025.9 1835.8,1025.6 1836.3,1024.8 1836.9,1024.0 1837.4,1025.1 1838.0,1026.2 1838.5,1025.6 1839.1,1025.0 1839.6,1023.7 1840.1,1022.5 1840.7,1022.5 1841.2,1022.6 1841.8,1023.5 1842.3,1024.5 1842.9,1024.1 1843.4,1023.8 1843.9,1025.7 1844.5,1027.5 1845.0,1026.4 1845.6,1025.2 1846.1,1024.4 1846.7,1023.6 1847.2,1024.0 1847.8,1024.4 1848.3,1026.0 1848.8,1027.6 1849.4,1025.9 1849.9,1024.4 1850.5,1025.8 1851.0,1027.2 1851.6,1027.1 1852.1,1026.9 1852.6,1027.6 1853.2,1028.3 1853.7,1027.5 1854.3,1026.6 1854.8,1025.7 1855.4,1024.8 1855.9,1025.3 1856.5,1025.7 1857.0,1025.3 1857.5,1024.9 1858.1,1025.5 1858.6,1026.2 1859.2,1025.5 1859.7,1024.9 1860.3,1026.4 1860.8,1028.0 1861.3,1026.7 1861.9,1025.4 1862.4,1025.9 1863.0,1026.4 1863.5,1025.8 1864.1,1025.1 1864.6,1025.7 1865.2,1026.3 1865.7,1026.2 1866.2,1026.0 1866.8,1026.0 1867.3,1026.0 1867.9,1026.4 1868.4,1026.9 1869.0,1025.8 1869.5,1024.8"/>
<polyline fill="none" stroke="#ff00ff" stroke-width="4.0" stroke-linejoin="round" stroke-linecap="butt" shape-rendering="crispEdges" points="238.5,860.5 239.0,861.2 239.6,861.9 240.1,864.4 240.7,866.8 241.2,865.5 241.8,864.2 242.3,861.2 242.8,858.1 243.4,860.2 243.9,862.3 244.5,861.6 245.0,860.9 245.6,862.1 246.1,863.3 246.7,861.2 247.2,859.2 247.7,861.8 248.3,864.3 248.8,864.3 249.4,864.3 249.9,865.9 250.5,867.5 251.0,865.7 251.5,863.9 252.1,863.9 252.6,864.0 253.2,861.2 253.7,858.4 254.3,863.2 254.8,868.0 255.4,862.5 255.9,857.2 256.4,861.1 257.0,865.1 257.5,863.4 258.1,861.7 258.6,861.1 259.2,860.5 259.7,861.0 260.2,861.4 260.8,861.5 261.3,861.5 261.9,863.0 262.4,864.4 263.0,863.8 263.5,863.2 264.1,865.4 264.6,867.5 265.1,863.2 265.7,859.0 266.2,861.4 266.8,863.8 267.3,862.6 267.9,861.4 268.4,863.5 268.9,865.5 269.5,861.6 270.0,857.6 270.6,859.6 271.1,861.6 271.7,861.9 272.2,862.1 272.8,859.2 273.3,856.1 273.8,858.4 274.4,860.4 274.9,857.4 275.5,853.7 276.0,851.1 276.6,847.4 277.1,841.2 277.6,835.1 278.2,828.5 278.7,827.0 279.3,833.1 279.8,840.2 280.4,846.9 280.9,852.3 281.4,856.8 282.0,860.3 282.5,861.9 283.1,863.1 283.6,861.6 284.2,860.0 284.7,860.5 285.3,860.9 285.8,860.9 286.3,860.8 286.9,861.3 287.4,861.8 288.0,862.4 288.5,863.0 289.1,863.2 289.6,863.5 290.1,866.3 290.7,869.2 291.2,865.8 291.8,862.5 292.3,862.7 292.9,863.1 293.4,864.1 294.0,865.2 294.5,863.5 295.0,861.8 295.6,862.7 296.1,863.5 296.7,863.9 297.2,864.4 297.8,865.2 298.3,866.0 298.8,863.2 299.4,860.3 299.9,863.6 300.5,867.0 301.0,864.6 301.6,862.3 302.1,862.8 302.7,863.3 303.2,863.9 303.7,864.2 304.3,863.0 304.8,861.2 305.4,859.4 305.9,856.5 306.5,850.7 307.0,844.0 307.5,838.9 308.1,837.0 308.6,840.1 309.2,845.6 309.7,848.8 310.3,851.1 310.8,857.3 311.4,862.4 311.9,861.2 312.4,859.6 313.0,859.6 313.5,859.5 314.1,864.3 314.6,868.9 315.2,866.0 315.7,863.0 316.2,861.4 316.8,859.6 317.3,863.1 317.9,866.4 318.4,862.4 319.0,858.0 319.5,858.0 320.0,857.3 320.6,850.7 321.1,841.9 321.7,834.0 322.2,822.4 322.8,803.4 323.3,782.7 323.9,771.0 324.4,774.3 324.9,792.0 325.5,811.8 326.0,828.3 326.6,840.6 327.1,849.5 327.7,855.8 328.2,861.4 328.7,866.0 329.3,862.9 329.8,859.4 330.4,863.0 330.9,866.4 331.5,864.7 332.0,863.0 332.6,863.9 333.1,864.8 333.6,863.4 334.2,861.9 334.7,862.3 335.3,862.5 335.8,863.7 336.4,864.9 336.9,864.6 337.4,864.3 338.0,866.2 338.5,868.1 339.1,867.4 339.6,866.7 340.2,869.4 340.7,872.0 341.3,870.6 341.8,869.1 342.3,869.1 342.9,869.0 343.4,870.2 344.0,871.3 344.5,870.4 345.1,869.4 345.6,868.5 346.1,867.5 346.7,867.1 347.2,866.6 347.8,865.9 348.3,865.0 348.9,865.6 349.4,865.8 350.0,863.6 350.5,860.6 351.0,856.3 351.6,850.5 352.1,843.8 352.7,834.6 353.2,819.6 353.8,802.9 354.3,793.5 354.8,793.0 355.4,797.2 355.9,807.4 356.5,826.2 357.0,842.1 357.6,848.7 358.1,853.1 358.7,857.8 359.2,861.1 359.7,863.9 360.3,866.1 360.8,866.5 361.4,866.6 361.9,867.1 362.5,867.4 363.0,869.8 363.5,872.2 364.1,871.3 364.6,870.3 365.2,869.4 365.7,868.5 366.3,870.6 366.8,872.6 367.3,870.1 367.9,867.5 368.4,871.9 369.0,876.2 369.5,874.0 370.1,871.8 370.6,872.3 371.2,872.7 371.7,875.8 372.2,878.9 372.8,879.1 373.3,879.2 373.9,877.0 374.4,874.6 375.0,875.5 375.5,876.3 376.0,877.0 376.6,877.7 377.1,878.5 377.7,879.2 378.2,877.0 378.8,874.7 379.3,875.1 379.9,875.4 380.4,876.8 380.9,878.1 381.5,876.9 382.0,875.7 382.6,876.3 383.1,876.9 383.7,876.7 384.2,876.6 384.7,874.4 385.3,872.3 385.8,872.7 386.4,873.0 386.9,870.8 387.5,868.6 388.0,871.6 388.6,874.6 389.1,876.6 389.6,878.6 390.2,875.6 390.7,872.5 391.3,875.4 391.8,878.3 392.4,878.0 392.9,877.7 393.4,876.5 394.0,875.2 394.5,875.3 395.1,875.4 395.6,875.6 396.2,875.8 396.7,874.7 397.3,873.6 397.8,874.3 398.3,875.1 398.9,875.5 399.4,876.0 400.0,876.9 400.5,877.8 401.1,878.2 401.6,878.5 402.1,876.6 402.7,874.6 403.2,876.5 403.8,878.3 404.3,876.2 404.9,874.1 405.4,874.8 405.9,875.6 406.5,876.3 407.0,877.1 407.6,876.7 408.1,876.4 408.7,876.4 409.2,876.4 409.8,877.0 410.3,877.6 410.8,876.7 411.4,875.7 411.9,875.7 412.5,875.6 413.0,876.2 413.6,876.8 414.1,878.4 414.6,880.0 415.2,878.8 415.7,877.6 416.3,880.2 416.8,882.7 417.4,880.6 417.9,878.5 418.5,874.4 419.0,870.4 419.5,873.3 420.1,876.3 420.6,878.7 421.2,881.1 421.7,878.9 422.3,876.7 422.8,875.9 423.3,875.2 423.9,874.6 424.4,874.0 425.0,876.8 425.5,879.6 426.1,879.4 426.6,879.2 427.2,879.0 427.7,878.9 428.2,878.9 428.8,878.9 429.3,880.4 429.9,881.9 430.4,881.3 431.0,880.7 431.5,878.3 432.0,875.8 432.6,878.3 433.1,880.7 433.7,879.9 434.2,879.1 434.8,878.7 435.3,878.3 435.9,879.3 436.4,880.3 436.9,879.4 437.5,878.5 438.0,874.9 438.6,871.3 439.1,876.9 439.7,882.5 440.2,881.9 440.7,881.2 441.3,879.8 441.8,878.2 442.4,877.8 442.9,877.4 443.5,878.1 444.0,878.8 444.5,877.0 445.1,875.2 445.6,877.3 446.2,879.3 446.7,878.7 447.3,878.2 447.8,878.1 448.4,878.0 448.9,877.3 449.4,876.7 450.0,877.1 450.5,877.4 451.1,879.7 451.6,881.9 452.2,882.3 452.7,882.5 453.2,881.5 453.8,880.5 454.3,879.8 454.9,879.1 455.4,878.1 456.0,877.0 456.5,878.9 457.1,880.8 457.6,881.9 458.1,883.0 458.7,879.1 459.2,875.3 459.8,878.9 460.3,882.5 460.9,878.6 461.4,874.7 461.9,877.0 462.5,879.2 463.0,880.0 463.6,880.7 464.1,878.3 464.7,876.0 465.2,875.6 465.8,875.2 466.3,877.2 466.8,879.2 467.4,879.9 467.9,880.8 468.5,879.1 469.0,877.5 469.6,879.8 470.1,882.1 470.6,879.6 471.2,877.2 471.7,880.5 472.3,883.8 472.8,882.0 473.4,880.2 473.9,880.6 474.5,880.9 475.0,881.5 475.5,882.0 476.1,881.8 476.6,881.5 477.2,883.4 477.7,885.2 478.3,885.6 478.8,886.0 479.3,883.9 479.9,881.8 480.4,880.8 481.0,879.9 481.5,878.6 482.1,877.3 482.6,877.7 483.1,878.2 483.7,879.0 484.2,879.9 484.8,879.7 485.3,879.4 485.9,879.4 486.4,879.4 487.0,879.4 487.5,879.4 488.0,880.0 488.6,880.6 489.1,878.5 489.7,876.3 490.2,876.8 490.8,877.2 491.3,879.9 491.8,882.6 492.4,882.3 492.9,882.1 493.5,880.5 494.0,878.9 494.6,881.2 495.1,883.4 495.7,880.9 496.2,878.5 496.7,878.9 497.3,879.3 497.8,877.4 498.4,875.5 498.9,878.8 499.5,882.1 500.0,881.1 500.5,880.0 501.1,881.3 501.6,882.5 502.2,882.0 502.7,881.5 503.3,880.6 503.8,879.8 504.4,879.8 504.9,879.7 505.4,880.8 506.0,881.8 506.5,879.8 507.1,877.7 507.6,877.1 508.2,876.4 508.7,875.6 509.2,874.5 509.8,873.6 510.3,872.0 510.9,868.7 511.4,864.4 512.0,860.9 512.5,858.0 513.1,853.6 513.6,853.0 514.1,859.7 514.7,866.5 515.2,868.2 515.8,868.9 516.3,872.8 516.9,876.0 517.4,876.5 517.9,876.6 518.5,879.2 519.0,881.6 519.6,880.7 520.1,879.8 520.7,878.9 521.2,878.1 521.8,879.8 522.3,881.4 522.8,881.4 523.4,881.3 523.9,880.6 524.5,879.9 525.0,880.0 525.6,880.0 526.1,879.2 526.6,878.5 527.2,882.9 527.7,887.4 528.3,884.1 528.8,880.8 529.4,881.6 529.9,882.4 530.4,879.5 531.0,876.7 531.5,876.5 532.1,876.3 532.6,877.3 533.2,878.2 533.7,878.0 534.3,877.8 534.8,878.8 535.3,879.8 535.9,877.3 536.4,874.8 537.0,876.4 537.5,877.9 538.1,878.7 538.6,879.5 539.1,875.9 539.7,872.3 540.2,873.8 540.8,875.2 541.3,871.6 541.9,867.6 542.4,867.2 543.0,865.8 543.5,861.3 544.0,854.9 544.6,848.1 545.1,838.7 545.7,821.0 546.2,803.7 546.8,799.0 547.3,805.0 547.8,818.5 548.4,833.7 548.9,842.2 549.5,848.3 550.0,856.9 550.6,863.4 551.1,865.7 551.7,866.9 552.2,868.8 552.7,870.1 553.3,872.6 553.8,874.9 554.4,875.1 554.9,875.1 555.5,877.5 556.0,879.7 556.5,877.9 557.1,876.1 557.6,875.5 558.2,874.9 558.7,872.3 559.3,869.4 559.8,868.0 560.4,866.3 560.9,864.9 561.4,862.9 562.0,856.1 562.5,848.1 563.1,847.6 563.6,845.0 564.2,828.4 564.7,803.6 565.2,766.1 565.8,694.1 566.3,558.7 566.9,342.8 567.4,198.0 568.0,320.6 568.5,463.6 569.0,487.8 569.6,469.6 570.1,561.5 570.7,686.6 571.2,765.5 571.8,805.9 572.3,827.5 572.9,839.6 573.4,847.2 573.9,855.3 574.5,861.6 575.0,864.8 575.6,867.3 576.1,867.3 576.7,867.0 577.2,871.8 577.7,876.4 578.3,874.1 578.8,871.7 579.4,874.9 579.9,878.2 580.5,877.6 581.0,876.9 581.6,878.1 582.1,879.0 582.6,879.5 583.2,879.8 583.7,881.6 584.3,883.4 584.8,881.0 585.4,878.7 585.9,880.1 586.4,881.5 587.0,883.7 587.5,885.8 588.1,883.1 588.6,880.3 589.2,881.0 589.7,881.7 590.3,882.4 590.8,883.2 591.3,881.6 591.9,880.2 592.4,881.5 593.0,882.9 593.5,881.7 594.1,880.6 594.6,882.5 595.1,884.4 595.7,884.0 596.2,883.5 596.8,882.5 597.3,881.6 597.9,884.5 598.4,887.3 599.0,885.5 599.5,883.7 600.0,883.4 600.6,883.1 601.1,882.2 601.7,881.4 602.2,881.9 602.8,882.4 603.3,882.8 603.8,883.3 604.4,883.6 604.9,883.9 605.5,885.0 606.0,886.1 606.6,883.2 607.1,880.3 607.6,881.4 608.2,882.5 608.7,884.3 609.3,886.1 609.8,885.0 610.4,883.9 610.9,884.2 611.5,884.6 612.0,886.2 612.5,887.7 613.1,886.3 613.6,884.8 614.2,884.9 614.7,885.0 615.3,884.3 615.8,883.6 616.3,885.6 616.9,887.6 617.4,886.6 618.0,885.6 618.5,883.3 619.1,881.0 619.6,882.2 620.2,883.4 620.7,881.0 621.2,878.5 621.8,880.6 622.3,882.5 622.9,880.8 623.4,878.4 624.0,874.5 624.5,868.7 625.0,860.9 625.6,849.8 626.1,834.3 626.7,822.0 627.2,826.6 627.8,837.6 628.3,841.4 628.9,843.0 629.4,847.5 629.9,855.3 630.5,865.0 631.0,872.6 631.6,875.0 632.1,876.2 632.7,878.2 633.2,879.7 633.7,880.5 634.3,881.0 634.8,880.7 635.4,880.3 635.9,884.9 636.5,889.5 637.0,886.5 637.6,883.5 638.1,883.4 638.6,883.3 639.2,884.9 639.7,886.4 640.3,881.8 640.8,877.2 641.4,880.9 641.9,884.6 642.4,884.7 643.0,884.9 643.5,883.8 644.1,882.7 644.6,884.4 645.2,886.1 645.7,883.3 646.2,880.5 646.8,882.9 647.3,885.4 647.9,886.6 648.4,887.7 649.0,884.2 649.5,880.6 650.1,881.6 650.6,882.5 651.1,884.1 651.7,885.6 652.2,885.8 652.8,886.0 653.3,885.4 653.9,884.7 654.4,885.8 654.9,887.0 655.5,886.7 656.0,886.4 656.6,884.3 657.1,882.2 657.7,883.4 658.2,884.6 658.8,883.1 659.3,881.6 659.8,880.6 660.4,879.6 660.9,879.2 661.5,878.7 662.0,882.7 662.6,886.5 663.1,884.9 663.6,883.2 664.2,885.2 664.7,887.0 665.3,882.2 665.8,877.1 666.4,877.3 666.9,877.6 667.5,877.5 668.0,877.8 668.5,877.2 669.1,877.0 669.6,878.3 670.2,879.6 670.7,879.4 671.3,879.0 671.8,877.9 672.3,876.5 672.9,873.7 673.4,870.6 674.0,871.1 674.5,871.3 675.1,872.9 675.6,874.1 676.2,870.0 676.7,865.2 677.2,861.9 677.8,857.9 678.3,849.7 678.9,841.4 679.4,837.5 680.0,835.5 680.5,834.0 681.0,834.3 681.6,838.6 682.1,842.6 682.7,843.1 683.2,842.1 683.8,840.2 684.3,835.7 684.9,828.9 685.4,816.6 685.9,786.7 686.5,733.8 687.0,642.9 687.6,469.6 688.1,206.6 688.7,107.0 689.2,310.6 689.7,477.6 690.3,492.9 690.8,432.4 691.4,483.4 691.9,626.4 692.5,731.6 693.0,789.7 693.5,822.9 694.1,842.6 694.6,851.1 695.2,856.5 695.7,861.6 696.3,865.4 696.8,868.1 697.4,870.1 697.9,874.3 698.4,878.1 699.0,878.3 699.5,878.2 700.1,879.8 700.6,881.2 701.2,882.6 701.7,883.9 702.2,885.4 702.8,886.8 703.3,885.6 703.9,884.4 704.4,886.3 705.0,888.1 705.5,889.5 706.1,890.9 706.6,887.2 707.1,883.5 707.7,886.9 708.2,890.3 708.8,891.4 709.3,892.4 709.9,889.3 710.4,886.3 710.9,887.7 711.5,889.2 712.0,887.0 712.6,884.7 713.1,886.7 713.7,888.7 714.2,888.0 714.8,887.2 715.3,887.9 715.8,888.6 716.4,887.2 716.9,885.9 717.5,886.0 718.0,886.2 718.6,886.8 719.1,887.3 719.6,887.1 720.2,886.9 720.7,887.1 721.3,887.4 721.8,887.9 722.4,888.5 722.9,887.5 723.5,886.4 724.0,887.3 724.5,888.0 725.1,888.0 725.6,887.6 726.2,882.6 726.7,876.9 727.3,877.0 727.8,876.7 728.3,872.1 728.9,869.0 729.4,869.2 730.0,871.4 730.5,874.5 731.1,877.2 731.6,880.0 732.1,882.2 732.7,883.4 733.2,884.1 733.8,885.6 734.3,886.7 734.9,884.4 735.4,881.7 736.0,883.2 736.5,884.3 737.0,879.6 737.6,873.8 738.1,871.3 738.7,867.9 739.2,862.5 739.8,857.8 740.3,851.8 740.8,850.0 741.4,858.4 741.9,868.0 742.5,875.5 743.0,881.9 743.6,882.6 744.1,882.5 744.7,886.1 745.2,889.0 745.7,889.4 746.3,889.4 746.8,890.3 747.4,891.0 747.9,890.9 748.5,890.8 749.0,890.6 749.5,890.4 750.1,891.9 750.6,893.4 751.2,893.6 751.7,893.9 752.3,893.0 752.8,892.1 753.4,893.9 753.9,895.7 754.4,895.3 755.0,894.9 755.5,894.6 756.1,894.2 756.6,892.7 757.2,891.1 757.7,894.1 758.2,897.0 758.8,896.4 759.3,895.8 759.9,892.0 760.4,888.3 761.0,889.6 761.5,891.0 762.1,892.0 762.6,892.9 763.1,894.7 763.7,896.5 764.2,897.0 764.8,897.4 765.3,895.7 765.9,894.0 766.4,894.6 766.9,895.1 767.5,895.5 768.0,895.9 768.6,893.6 769.1,891.3 769.7,893.3 770.2,895.4 770.7,894.4 771.3,893.4 771.8,894.0 772.4,894.6 772.9,894.4 773.5,894.2 774.0,893.0 774.6,891.7 775.1,891.9 775.6,892.1 776.2,893.2 776.7,894.2 777.3,894.1 777.8,893.9 778.4,893.1 778.9,892.0 779.4,892.7 780.0,892.9 780.5,889.4 781.1,885.0 781.6,880.3 782.2,874.7 782.7,871.1 783.3,869.0 783.8,869.1 784.3,872.2 784.9,876.4 785.4,880.5 786.0,885.3 786.5,889.2 787.1,890.2 787.6,890.8 788.1,892.5 788.7,894.0 789.2,894.2 789.8,894.4 790.3,894.0 790.9,893.5 791.4,895.2 792.0,896.8 792.5,895.5 793.0,894.2 793.6,894.8 794.1,895.4 794.7,894.0 795.2,892.6 795.8,893.8 796.3,894.9 796.8,894.3 797.4,893.7 797.9,894.2 798.5,894.6 799.0,895.7 799.6,896.5 800.1,896.1 800.7,895.4 801.2,892.1 801.7,888.4 802.3,884.9 802.8,881.4 803.4,881.0 803.9,881.9 804.5,882.3 805.0,883.5 805.5,884.7 806.1,885.7 806.6,888.1 807.2,890.0 807.7,890.8 808.3,891.4 808.8,891.6 809.3,891.7 809.9,894.3 810.4,896.7 811.0,894.7 811.5,892.5 812.1,892.5 812.6,892.3 813.2,893.4 813.7,894.4 814.2,892.5 814.8,890.7 815.3,890.2 815.9,890.0 816.4,890.8 817.0,891.7 817.5,893.7 818.0,895.6 818.6,895.9 819.1,896.1 819.7,896.3 820.2,896.4 820.8,895.7 821.3,895.1 821.9,894.7 822.4,894.4 822.9,896.5 823.5,898.6 824.0,896.2 824.6,893.7 825.1,895.2 825.7,896.6 826.2,895.5 826.7,894.4 827.3,895.4 827.8,896.5 828.4,896.8 828.9,897.2 829.5,898.7 830.0,900.3 830.6,895.9 831.1,891.5 831.6,896.2 832.2,900.8 832.7,898.4 833.3,896.0 833.8,897.3 834.4,898.5 834.9,899.1 835.4,899.7 836.0,898.0 836.5,896.5 837.1,897.5 837.6,898.6 838.2,899.6 838.7,900.6 839.3,900.3 839.8,899.8 840.3,899.3 840.9,898.6 841.4,899.5 842.0,900.3 842.5,900.0 843.1,899.7 843.6,897.8 844.1,896.1 844.7,899.2 845.2,902.4 845.8,901.3 846.3,900.2 846.9,897.5 847.4,894.8 848.0,896.6 848.5,898.3 849.0,901.0 849.6,903.6 850.1,903.3 850.7,903.0 851.2,901.4 851.8,899.8 852.3,897.6 852.8,895.3 853.4,896.8 853.9,898.3 854.5,899.6 855.0,901.0 855.6,900.3 856.1,899.6 856.6,898.9 857.2,898.2 857.7,897.8 858.3,897.4 858.8,899.2 859.4,900.9 859.9,899.7 860.5,898.6 861.0,899.0 861.5,899.4 862.1,899.3 862.6,899.1 863.2,899.7 863.7,900.1 864.3,897.2 864.8,894.0 865.3,892.2 865.9,890.3 866.4,886.2 867.0,883.0 867.5,887.2 868.1,892.4 868.6,894.2 869.2,895.8 869.7,896.4 870.2,896.6 870.8,895.1 871.3,893.4 871.9,895.9 872.4,898.3 873.0,899.3 873.5,900.3 874.0,902.8 874.6,905.1 875.1,903.6 875.7,902.0 876.2,902.2 876.8,902.3 877.3,902.2 877.9,902.1 878.4,902.4 878.9,902.8 879.5,900.0 880.0,897.3 880.6,897.6 881.1,897.9 881.7,897.7 882.2,897.4 882.7,898.4 883.3,899.4 883.8,899.4 884.4,899.3 884.9,899.8 885.5,900.3 886.0,899.1 886.6,897.9 887.1,899.2 887.6,900.4 888.2,899.5 888.7,898.5 889.3,901.7 889.8,904.8 890.4,902.0 890.9,899.1 891.4,902.4 892.0,905.7 892.5,904.8 893.1,903.9 893.6,901.1 894.2,898.2 894.7,900.7 895.2,903.1 895.8,902.9 896.3,902.7 896.9,900.5 897.4,898.3 898.0,900.6 898.5,902.9 899.1,902.1 899.6,901.3 900.1,901.7 900.7,902.1 901.2,900.8 901.8,899.4 902.3,900.3 902.9,901.1 903.4,901.6 903.9,902.1 904.5,901.4 905.0,900.8 905.6,900.3 906.1,899.8 906.7,900.2 907.2,900.7 907.8,899.9 908.3,899.1 908.8,900.6 909.4,902.1 909.9,899.2 910.5,896.2 911.0,900.6 911.6,905.0 912.1,903.6 912.6,902.1 913.2,902.6 913.7,903.1 914.3,903.5 914.8,903.9 915.4,901.8 915.9,899.6 916.5,903.4 917.0,907.2 917.5,903.7 918.1,900.2 918.6,901.9 919.2,903.6 919.7,903.4 920.3,903.1 920.8,903.9 921.3,904.6 921.9,902.8 922.4,901.0 923.0,899.0 923.5,897.0 924.1,898.4 924.6,899.6 925.2,895.9 925.7,891.8 926.2,892.9 926.8,893.8 927.3,891.3 927.9,888.2 928.4,887.5 929.0,886.8 929.5,882.1 930.0,879.0 930.6,880.0 931.1,882.5 931.7,885.5 932.2,888.4 932.8,891.0 933.3,893.2 933.8,895.3 934.4,896.9 934.9,899.2 935.5,901.2 936.0,899.6 936.6,898.0 937.1,899.4 937.7,900.8 938.2,899.7 938.7,898.6 939.3,900.1 939.8,901.7 940.4,902.2 940.9,902.7 941.5,901.4 942.0,900.1 942.5,900.9 943.1,901.7 943.6,902.5 944.2,903.2 944.7,903.9 945.3,904.6 945.8,904.7 946.4,904.8 946.9,903.6 947.4,902.3 948.0,901.2 948.5,900.1 949.1,899.3 949.6,898.5 950.2,901.0 950.7,903.5 951.2,904.2 951.8,905.0 952.3,904.0 952.9,903.1 953.4,904.6 954.0,906.0 954.5,904.1 955.1,902.1 955.6,902.3 956.1,902.4 956.7,904.5 957.2,906.6 957.8,904.0 958.3,901.4 958.9,903.1 959.4,904.9 959.9,904.8 960.5,904.6 961.0,904.5 961.6,904.4 962.1,906.2 962.7,907.9 963.2,905.3 963.8,902.7 964.3,903.2 964.8,903.7 965.4,902.0 965.9,900.3 966.5,901.5 967.0,902.6 967.6,903.3 968.1,904.0 968.6,904.2 969.2,904.5 969.7,904.7 970.3,904.9 970.8,905.4 971.4,905.7 971.9,904.6 972.4,903.4 973.0,901.9 973.5,900.3 974.1,902.4 974.6,904.5 975.2,904.8 975.7,905.0 976.3,903.3 976.8,901.6 977.3,901.9 977.9,902.2 978.4,904.8 979.0,907.4 979.5,906.6 980.1,905.9 980.6,906.0 981.1,906.1 981.7,905.7 982.2,905.2 982.8,904.7 983.3,904.0 983.9,903.1 984.4,902.1 985.0,902.9 985.5,903.5 986.0,901.9 986.6,900.1 987.1,898.5 987.7,896.3 988.2,894.0 988.8,890.1 989.3,882.4 989.8,867.7 990.4,840.7 990.9,796.2 991.5,758.0 992.0,782.4 992.6,831.8 993.1,859.8 993.7,858.1 994.2,840.0 994.7,823.1 995.3,833.1 995.8,861.1 996.4,881.3 996.9,889.1 997.5,892.4 998.0,895.9 998.5,898.2 999.1,900.1 999.6,901.5 1000.2,899.0 1000.7,896.3 1001.3,899.3 1001.8,902.2 1002.4,902.0 1002.9,901.8 1003.4,902.7 1004.0,903.7 1004.5,904.7 1005.1,905.6 1005.6,905.8 1006.2,906.1 1006.7,907.0 1007.2,908.0 1007.8,907.9 1008.3,907.9 1008.9,907.6 1009.4,907.3 1010.0,906.4 1010.5,905.5 1011.1,906.8 1011.6,908.1 1012.1,906.2 1012.7,904.2 1013.2,905.2 1013.8,906.2 1014.3,907.8 1014.9,909.3 1015.4,908.6 1015.9,908.0 1016.5,905.7 1017.0,903.5 1017.6,904.3 1018.1,905.1 1018.7,906.6 1019.2,908.1 1019.7,907.7 1020.3,907.3 1020.8,907.7 1021.4,908.0 1021.9,904.9 1022.5,901.9 1023.0,902.3 1023.6,902.7 1024.1,903.7 1024.6,904.7 1025.2,904.0 1025.7,903.3 1026.3,904.4 1026.8,905.5 1027.4,905.8 1027.9,906.1 1028.4,906.7 1029.0,907.2 1029.5,907.0 1030.1,906.7 1030.6,907.6 1031.2,908.4 1031.7,908.7 1032.3,909.0 1032.8,908.3 1033.3,907.7 1033.9,906.2 1034.4,904.7 1035.0,907.1 1035.5,909.6 1036.1,908.4 1036.6,907.3 1037.1,907.5 1037.7,907.8 1038.2,907.6 1038.8,907.5 1039.3,905.8 1039.9,904.1 1040.4,906.4 1041.0,908.7 1041.5,907.5 1042.0,906.3 1042.6,905.8 1043.1,905.3 1043.7,908.0 1044.2,910.6 1044.8,909.1 1045.3,907.6 1045.8,908.3 1046.4,909.0 1046.9,909.6 1047.5,910.3 1048.0,911.0 1048.6,911.6 1049.1,908.0 1049.7,904.4 1050.2,905.3 1050.7,906.3 1051.3,907.5 1051.8,908.8 1052.4,907.4 1052.9,906.0 1053.5,903.4 1054.0,900.8 1054.5,904.2 1055.1,907.7 1055.6,907.8 1056.2,907.9 1056.7,908.5 1057.3,909.1 1057.8,908.5 1058.3,908.0 1058.9,907.3 1059.4,906.7 1060.0,907.4 1060.5,908.2 1061.1,908.0 1061.6,907.8 1062.2,907.4 1062.7,907.0 1063.2,907.7 1063.8,908.5 1064.3,908.6 1064.9,908.6 1065.4,907.2 1066.0,905.7 1066.5,907.6 1067.0,909.5 1067.6,909.1 1068.1,908.7 1068.7,908.5 1069.2,908.3 1069.8,904.6 1070.3,901.0 1070.9,903.9 1071.4,906.9 1071.9,906.8 1072.5,906.8 1073.0,906.1 1073.6,905.4 1074.1,907.1 1074.7,908.8 1075.2,906.8 1075.7,904.8 1076.3,907.7 1076.8,910.5 1077.4,909.7 1077.9,908.9 1078.5,908.1 1079.0,907.3 1079.6,909.4 1080.1,911.4 1080.6,910.5 1081.2,909.7 1081.7,909.6 1082.3,909.6 1082.8,908.1 1083.4,906.5 1083.9,908.4 1084.4,910.3 1085.0,911.3 1085.5,912.2 1086.1,911.8 1086.6,911.4 1087.2,908.9 1087.7,906.4 1088.3,909.0 1088.8,911.6 1089.3,911.8 1089.9,912.1 1090.4,911.3 1091.0,910.6 1091.5,909.4 1092.1,908.2 1092.6,907.0 1093.1,905.8 1093.7,906.3 1094.2,906.8 1094.8,907.0 1095.3,907.3 1095.9,908.1 1096.4,908.9 1096.9,909.1 1097.5,909.3 1098.0,908.0 1098.6,906.6 1099.1,905.6 1099.7,904.6 1100.2,905.7 1100.8,906.9 1101.3,905.9 1101.8,905.0 1102.4,907.6 1102.9,910.2 1103.5,907.6 1104.0,905.0 1104.6,906.6 1105.1,908.2 1105.6,908.5 1106.2,908.7 1106.7,906.9 1107.3,905.1 1107.8,907.1 1108.4,909.1 1108.9,908.0 1109.5,907.0 1110.0,906.5 1110.5,906.0 1111.1,906.0 1111.6,906.0 1112.2,907.2 1112.7,908.4 1113.3,909.6 1113.8,910.7 1114.3,907.8 1114.9,905.0 1115.4,907.6 1116.0,910.2 1116.5,909.6 1117.1,908.9 1117.6,908.4 1118.2,907.9 1118.7,908.5 1119.2,909.2 1119.8,909.2 1120.3,909.3 1120.9,909.2 1121.4,909.2 1122.0,910.0 1122.5,910.8 1123.0,909.0 1123.6,907.2 1124.1,910.0 1124.7,912.8 1125.2,911.7 1125.8,910.6 1126.3,909.2 1126.9,907.8 1127.4,906.6 1127.9,905.4 1128.5,907.4 1129.0,909.4 1129.6,909.1 1130.1,908.8 1130.7,910.0 1131.2,911.2 1131.7,911.2 1132.3,911.2 1132.8,912.3 1133.4,913.4 1133.9,911.3 1134.5,909.2 1135.0,909.9 1135.5,910.7 1136.1,909.4 1136.6,908.2 1137.2,908.2 1137.7,908.3 1138.3,910.3 1138.8,912.2 1139.4,910.6 1139.9,909.0 1140.4,909.0 1141.0,909.1 1141.5,908.8 1142.1,908.6 1142.6,909.3 1143.2,909.9 1143.7,910.2 1144.2,910.4 1144.8,909.5 1145.3,908.7 1145.9,907.5 1146.4,906.4 1147.0,907.9 1147.5,909.4 1148.1,908.4 1148.6,907.5 1149.1,908.3 1149.7,909.0 1150.2,909.9 1150.8,910.7 1151.3,910.9 1151.9,911.1 1152.4,908.6 1152.9,906.0 1153.5,909.9 1154.0,913.8 1154.6,912.7 1155.1,911.7 1155.7,912.7 1156.2,913.7 1156.8,914.3 1157.3,914.9 1157.8,911.6 1158.4,908.3 1158.9,908.8 1159.5,909.2 1160.0,910.0 1160.6,910.7 1161.1,911.2 1161.6,911.7 1162.2,910.1 1162.7,908.5 1163.3,908.5 1163.8,908.6 1164.4,909.8 1164.9,911.1 1165.5,909.0 1166.0,907.1 1166.5,908.1 1167.1,909.1 1167.6,909.9 1168.2,910.8 1168.7,909.4 1169.3,908.1 1169.8,909.2 1170.3,910.2 1170.9,909.3 1171.4,908.5 1172.0,907.1 1172.5,905.8 1173.1,906.9 1173.6,908.0 1174.2,908.4 1174.7,908.8 1175.2,908.8 1175.8,908.7 1176.3,909.1 1176.9,909.4 1177.4,909.8 1178.0,910.1 1178.5,909.9 1179.0,909.7 1179.6,909.4 1180.1,909.2 1180.7,908.5 1181.2,907.8 1181.8,907.8 1182.3,907.9 1182.8,907.6 1183.4,907.4 1183.9,907.1 1184.5,906.8 1185.0,908.7 1185.6,910.6 1186.1,907.5 1186.7,904.4 1187.2,906.5 1187.7,908.6 1188.3,906.9 1188.8,905.1 1189.4,906.2 1189.9,907.2 1190.5,908.5 1191.0,909.8 1191.5,908.7 1192.1,907.6 1192.6,909.0 1193.2,910.5 1193.7,908.1 1194.3,905.7 1194.8,906.2 1195.4,906.8 1195.9,906.4 1196.4,906.1 1197.0,906.8 1197.5,907.5 1198.1,907.3 1198.6,907.2 1199.2,907.2 1199.7,907.3 1200.2,907.9 1200.8,908.4 1201.3,909.4 1201.9,910.4 1202.4,909.4 1203.0,908.4 1203.5,908.2 1204.1,908.0 1204.6,907.6 1205.1,907.1 1205.7,906.5 1206.2,906.0 1206.8,905.2 1207.3,904.5 1207.9,904.8 1208.4,905.2 1208.9,906.2 1209.5,907.3 1210.0,905.5 1210.6,903.7 1211.1,906.2 1211.7,908.8 1212.2,907.8 1212.8,906.9 1213.3,906.4 1213.8,905.9 1214.4,906.2 1214.9,906.4 1215.5,907.4 1216.0,908.5 1216.6,908.1 1217.1,907.7 1217.6,907.6 1218.2,907.5 1218.7,908.9 1219.3,910.3 1219.8,910.8 1220.4,911.3 1220.9,907.8 1221.4,904.3 1222.0,906.4 1222.5,908.4 1223.1,906.9 1223.6,905.4 1224.2,905.0 1224.7,904.5 1225.3,905.4 1225.8,906.4 1226.3,908.0 1226.9,909.5 1227.4,908.3 1228.0,907.1 1228.5,906.9 1229.1,906.6 1229.6,908.2 1230.1,909.8 1230.7,908.8 1231.2,907.7 1231.8,906.9 1232.3,906.1 1232.9,907.7 1233.4,909.3 1234.0,908.0 1234.5,906.7 1235.0,905.5 1235.6,904.5 1236.1,904.2 1236.7,904.0 1237.2,904.7 1237.8,905.4 1238.3,906.1 1238.8,906.6 1239.4,907.4 1239.9,908.1 1240.5,907.9 1241.0,907.7 1241.6,906.7 1242.1,905.7 1242.7,904.1 1243.2,902.4 1243.7,904.0 1244.3,905.5 1244.8,904.0 1245.4,902.5 1245.9,900.5 1246.5,898.3 1247.0,896.9 1247.5,895.1 1248.1,894.6 1248.6,893.3 1249.2,889.8 1249.7,884.6 1250.3,877.3 1250.8,865.5 1251.4,840.7 1251.9,793.9 1252.4,715.1 1253.0,589.8 1253.5,496.0 1254.1,580.0 1254.6,709.5 1255.2,784.4 1255.7,813.7 1256.2,811.2 1256.8,775.0 1257.3,714.2 1257.9,694.0 1258.4,754.2 1259.0,818.8 1259.5,856.5 1260.0,875.5 1260.6,886.0 1261.1,891.3 1261.7,894.7 1262.2,895.7 1262.8,896.1 1263.3,900.3 1263.9,904.2 1264.4,902.0 1264.9,899.7 1265.5,902.1 1266.0,904.5 1266.6,904.1 1267.1,903.6 1267.7,904.8 1268.2,905.8 1268.7,906.3 1269.3,906.7 1269.8,907.7 1270.4,908.6 1270.9,907.1 1271.5,905.4 1272.0,906.8 1272.6,908.2 1273.1,909.0 1273.6,909.9 1274.2,908.6 1274.7,907.3 1275.3,907.5 1275.8,907.9 1276.4,907.7 1276.9,907.7 1277.4,906.7 1278.0,905.8 1278.5,906.4 1279.1,907.1 1279.6,907.8 1280.2,908.4 1280.7,909.0 1281.3,909.4 1281.8,910.9 1282.3,912.2 1282.9,911.7 1283.4,911.2 1284.0,909.1 1284.5,907.0 1285.1,907.0 1285.6,906.9 1286.1,906.3 1286.7,905.7 1287.2,904.5 1287.8,903.3 1288.3,906.7 1288.9,910.1 1289.4,909.4 1290.0,908.9 1290.5,906.8 1291.0,904.7 1291.6,906.8 1292.1,909.0 1292.7,911.4 1293.2,913.9 1293.8,912.4 1294.3,910.8 1294.8,910.9 1295.4,910.9 1295.9,910.5 1296.5,910.2 1297.0,909.1 1297.6,908.1 1298.1,907.7 1298.6,907.3 1299.2,907.6 1299.7,908.0 1300.3,909.0 1300.8,910.0 1301.4,909.7 1301.9,909.5 1302.5,910.4 1303.0,911.4 1303.5,912.4 1304.1,913.4 1304.6,912.3 1305.2,911.1 1305.7,911.3 1306.3,911.3 1306.8,910.0 1307.3,908.8 1307.9,907.7 1308.4,906.7 1309.0,909.7 1309.5,912.8 1310.1,911.4 1310.6,910.1 1311.2,910.6 1311.7,911.1 1312.2,909.9 1312.8,908.6 1313.3,907.6 1313.9,906.5 1314.4,909.5 1315.0,912.3 1315.5,909.2 1316.0,906.0 1316.6,907.8 1317.1,909.6 1317.7,909.1 1318.2,908.7 1318.8,909.3 1319.3,909.9 1319.9,910.4 1320.4,910.9 1320.9,910.8 1321.5,910.7 1322.0,908.0 1322.6,905.2 1323.1,908.0 1323.7,910.8 1324.2,908.1 1324.7,905.4 1325.3,907.8 1325.8,910.2 1326.4,909.2 1326.9,908.1 1327.5,907.5 1328.0,906.8 1328.6,907.3 1329.1,907.7 1329.6,906.8 1330.2,905.9 1330.7,906.9 1331.3,907.9 1331.8,908.5 1332.4,909.2 1332.9,909.0 1333.4,908.8 1334.0,908.1 1334.5,907.5 1335.1,908.6 1335.6,909.7 1336.2,909.2 1336.7,908.8 1337.3,910.5 1337.8,912.1 1338.3,910.7 1338.9,909.3 1339.4,908.3 1340.0,907.4 1340.5,907.9 1341.1,908.3 1341.6,908.0 1342.1,907.7 1342.7,908.3 1343.2,908.8 1343.8,909.0 1344.3,909.1 1344.9,909.9 1345.4,910.5 1345.9,910.5 1346.5,910.4 1347.0,909.6 1347.6,908.7 1348.1,908.8 1348.7,908.9 1349.2,907.6 1349.8,906.4 1350.3,906.4 1350.8,906.5 1351.4,904.6 1351.9,902.8 1352.5,904.3 1353.0,905.8 1353.6,906.0 1354.1,906.1 1354.6,908.9 1355.2,911.6 1355.7,907.9 1356.3,904.2 1356.8,905.4 1357.4,906.6 1357.9,906.2 1358.5,905.8 1359.0,904.6 1359.5,903.5 1360.1,905.2 1360.6,906.9 1361.2,906.7 1361.7,906.6 1362.3,905.2 1362.8,903.8 1363.3,902.9 1363.9,902.0 1364.4,904.1 1365.0,906.1 1365.5,904.7 1366.1,903.4 1366.6,905.3 1367.2,907.3 1367.7,906.4 1368.2,905.5 1368.8,906.2 1369.3,906.9 1369.9,906.1 1370.4,905.2 1371.0,906.9 1371.5,908.5 1372.0,907.6 1372.6,906.6 1373.1,907.2 1373.7,907.9 1374.2,906.4 1374.8,905.0 1375.3,903.8 1375.9,902.8 1376.4,902.4 1376.9,902.2 1377.5,903.2 1378.0,904.2 1378.6,905.1 1379.1,906.1 1379.7,905.5 1380.2,904.9 1380.7,908.0 1381.3,911.0 1381.8,908.9 1382.4,906.7 1382.9,907.3 1383.5,907.9 1384.0,907.6 1384.5,907.2 1385.1,906.0 1385.6,904.7 1386.2,906.7 1386.7,908.7 1387.3,908.3 1387.8,907.9 1388.4,908.0 1388.9,908.2 1389.4,906.5 1390.0,904.9 1390.5,905.8 1391.1,906.8 1391.6,906.9 1392.2,907.1 1392.7,908.5 1393.2,909.9 1393.8,907.8 1394.3,905.7 1394.9,907.7 1395.4,909.6 1396.0,910.1 1396.5,910.6 1397.1,908.9 1397.6,907.1 1398.1,906.5 1398.7,905.9 1399.2,907.6 1399.8,909.4 1400.3,908.1 1400.9,906.8 1401.4,907.2 1401.9,907.5 1402.5,906.4 1403.0,904.9 1403.6,903.6 1404.1,901.5 1404.7,896.1 1405.2,887.0 1405.8,869.1 1406.3,838.9 1406.8,814.0 1407.4,826.6 1407.9,855.4 1408.5,875.1 1409.0,886.7 1409.6,891.4 1410.1,888.5 1410.6,879.9 1411.2,868.6 1411.7,862.1 1412.3,870.7 1412.8,884.0 1413.4,894.8 1413.9,900.8 1414.5,903.7 1415.0,905.4 1415.5,905.3 1416.1,904.7 1416.6,905.4 1417.2,905.9 1417.7,905.6 1418.3,905.3 1418.8,904.4 1419.3,903.6 1419.9,905.8 1420.4,908.1 1421.0,906.1 1421.5,904.1 1422.1,903.7 1422.6,903.3 1423.1,904.4 1423.7,905.5 1424.2,906.2 1424.8,906.8 1425.3,906.9 1425.9,906.9 1426.4,906.5 1427.0,906.2 1427.5,906.2 1428.0,906.1 1428.6,904.7 1429.1,903.3 1429.7,905.9 1430.2,908.5 1430.8,909.6 1431.3,910.7 1431.8,908.5 1432.4,906.3 1432.9,905.3 1433.5,904.3 1434.0,906.4 1434.6,908.6 1435.1,907.8 1435.7,907.0 1436.2,903.7 1436.7,900.4 1437.3,903.4 1437.8,906.3 1438.4,905.8 1438.9,905.2 1439.5,905.5 1440.0,905.8 1440.5,908.5 1441.1,911.3 1441.6,910.4 1442.2,909.5 1442.7,908.4 1443.3,907.4 1443.8,907.5 1444.4,907.6 1444.9,908.9 1445.4,910.2 1446.0,907.8 1446.5,905.3 1447.1,906.9 1447.6,908.4 1448.2,907.1 1448.7,905.8 1449.2,907.2 1449.8,908.5 1450.3,908.1 1450.9,907.8 1451.4,907.2 1452.0,906.6 1452.5,908.4 1453.1,910.2 1453.6,910.0 1454.1,909.7 1454.7,910.9 1455.2,912.1 1455.8,910.2 1456.3,908.3 1456.9,908.9 1457.4,909.4 1457.9,908.7 1458.5,908.0 1459.0,909.7 1459.6,911.4 1460.1,909.7 1460.7,907.9 1461.2,908.6 1461.7,909.2 1462.3,910.2 1462.8,911.2 1463.4,910.3 1463.9,909.3 1464.5,908.7 1465.0,908.1 1465.6,907.6 1466.1,907.1 1466.6,906.6 1467.2,906.2 1467.7,905.9 1468.3,905.7 1468.8,904.3 1469.4,903.1 1469.9,901.4 1470.4,900.0 1471.0,903.4 1471.5,906.9 1472.1,905.2 1472.6,903.4 1473.2,906.4 1473.7,909.2 1474.3,908.0 1474.8,906.8 1475.3,909.5 1475.9,912.1 1476.4,910.4 1477.0,908.7 1477.5,908.1 1478.1,907.5 1478.6,908.0 1479.1,908.6 1479.7,906.6 1480.2,904.7 1480.8,906.3 1481.3,907.8 1481.9,907.4 1482.4,907.0 1483.0,907.3 1483.5,907.6 1484.0,905.6 1484.6,903.7 1485.1,903.4 1485.7,903.1 1486.2,905.5 1486.8,908.0 1487.3,907.4 1487.8,906.9 1488.4,906.6 1488.9,906.4 1489.5,906.9 1490.0,907.3 1490.6,907.0 1491.1,906.6 1491.7,906.8 1492.2,906.9 1492.7,907.8 1493.3,908.7 1493.8,907.7 1494.4,906.6 1494.9,907.2 1495.5,907.8 1496.0,906.4 1496.5,905.0 1497.1,904.0 1497.6,903.0 1498.2,904.1 1498.7,905.1 1499.3,905.7 1499.8,906.2 1500.4,905.4 1500.9,904.7 1501.4,905.4 1502.0,906.1 1502.5,906.0 1503.1,906.0 1503.6,907.3 1504.2,908.7 1504.7,908.7 1505.2,908.8 1505.8,909.1 1506.3,909.4 1506.9,907.8 1507.4,906.2 1508.0,907.1 1508.5,908.0 1509.0,908.7 1509.6,909.5 1510.1,908.5 1510.7,907.5 1511.2,907.3 1511.8,907.1 1512.3,906.4 1512.9,905.7 1513.4,907.0 1513.9,908.3 1514.5,907.6 1515.0,907.0 1515.6,907.7 1516.1,908.4 1516.7,907.4 1517.2,906.4 1517.7,908.3 1518.3,910.2 1518.8,908.3 1519.4,906.4 1519.9,905.1 1520.5,903.8 1521.0,904.6 1521.6,905.5 1522.1,905.3 1522.6,905.0 1523.2,905.3 1523.7,905.6 1524.3,903.7 1524.8,902.0 1525.4,902.1 1525.9,902.3 1526.4,903.0 1527.0,903.7 1527.5,904.0 1528.1,904.2 1528.6,903.0 1529.2,901.6 1529.7,904.2 1530.3,906.7 1530.8,907.2 1531.3,907.7 1531.9,905.9 1532.4,904.1 1533.0,903.9 1533.5,903.7 1534.1,904.4 1534.6,905.2 1535.1,904.6 1535.7,904.2 1536.2,905.6 1536.8,907.1 1537.3,906.0 1537.9,904.8 1538.4,905.9 1539.0,907.0 1539.5,905.3 1540.0,903.7 1540.6,903.6 1541.1,903.4 1541.7,903.4 1542.2,903.4 1542.8,903.6 1543.3,903.9 1543.8,905.6 1544.4,907.3 1544.9,907.8 1545.5,908.3 1546.0,907.7 1546.6,907.1 1547.1,907.1 1547.6,907.1 1548.2,904.9 1548.7,902.7 1549.3,905.4 1549.8,908.1 1550.4,905.9 1550.9,903.7 1551.5,905.6 1552.0,907.4 1552.5,907.8 1553.1,907.9 1553.6,904.6 1554.2,900.7 1554.7,898.5 1555.3,894.8 1555.8,887.1 1556.3,872.0 1556.9,841.3 1557.4,798.9 1558.0,789.0 1558.5,825.0 1559.1,858.7 1559.6,877.3 1560.2,886.3 1560.7,889.7 1561.2,888.6 1561.8,881.8 1562.3,865.8 1562.9,847.7 1563.4,853.9 1564.0,874.8 1564.5,887.6 1565.0,893.9 1565.6,897.2 1566.1,898.8 1566.7,901.6 1567.2,904.0 1567.8,904.7 1568.3,905.2 1568.9,904.5 1569.4,903.7 1569.9,906.1 1570.5,908.3 1571.0,906.8 1571.6,905.2 1572.1,905.4 1572.7,905.7 1573.2,906.5 1573.7,907.5 1574.3,906.5 1574.8,905.6 1575.4,907.1 1575.9,908.7 1576.5,908.7 1577.0,908.6 1577.6,908.7 1578.1,908.8 1578.6,908.4 1579.2,908.0 1579.7,907.5 1580.3,907.0 1580.8,906.6 1581.4,906.1 1581.9,906.8 1582.4,907.5 1583.0,908.2 1583.5,908.9 1584.1,908.2 1584.6,907.6 1585.2,907.2 1585.7,906.8 1586.2,907.2 1586.8,907.7 1587.3,907.8 1587.9,907.8 1588.4,905.2 1589.0,902.4 1589.5,902.6 1590.1,902.6 1590.6,902.4 1591.1,901.8 1591.7,897.9 1592.2,892.9 1592.8,887.9 1593.3,879.0 1593.9,862.5 1594.4,829.6 1594.9,772.9 1595.5,732.0 1596.0,771.1 1596.6,827.9 1597.1,859.5 1597.7,873.9 1598.2,881.3 1598.8,882.6 1599.3,878.6 1599.8,865.3 1600.4,837.6 1600.9,819.8 1601.5,838.0 1602.0,863.4 1602.6,881.1 1603.1,890.4 1603.6,895.1 1604.2,897.8 1604.7,900.4 1605.3,902.5 1605.8,902.2 1606.4,901.8 1606.9,903.9 1607.5,906.0 1608.0,907.3 1608.5,908.5 1609.1,908.6 1609.6,908.6 1610.2,906.8 1610.7,905.1 1611.3,905.6 1611.8,906.2 1612.3,906.3 1612.9,906.5 1613.4,906.2 1614.0,905.9 1614.5,908.1 1615.1,910.4 1615.6,908.6 1616.2,906.9 1616.7,906.9 1617.2,906.8 1617.8,908.3 1618.3,909.8 1618.9,910.0 1619.4,910.1 1620.0,911.0 1620.5,911.9 1621.0,911.8 1621.6,911.6 1622.1,909.9 1622.7,908.3 1623.2,906.6 1623.8,904.9 1624.3,907.0 1624.8,909.3 1625.4,909.4 1625.9,909.6 1626.5,910.6 1627.0,911.6 1627.6,909.1 1628.1,906.5 1628.7,907.0 1629.2,907.5 1629.7,909.8 1630.3,912.1 1630.8,912.2 1631.4,912.3 1631.9,912.0 1632.5,911.8 1633.0,910.7 1633.5,909.6 1634.1,910.6 1634.6,911.6 1635.2,910.0 1635.7,908.4 1636.3,907.7 1636.8,906.9 1637.4,907.7 1637.9,908.5 1638.4,908.6 1639.0,908.6 1639.5,909.1 1640.1,909.7 1640.6,909.9 1641.2,910.2 1641.7,908.0 1642.2,905.8 1642.8,907.5 1643.3,909.2 1643.9,909.4 1644.4,909.5 1645.0,908.1 1645.5,906.7 1646.1,907.4 1646.6,908.2 1647.1,908.4 1647.7,908.7 1648.2,909.1 1648.8,909.6 1649.3,908.6 1649.9,907.7 1650.4,908.0 1650.9,908.2 1651.5,907.8 1652.0,907.4 1652.6,908.5 1653.1,909.6 1653.7,908.9 1654.2,908.2 1654.8,907.9 1655.3,907.6 1655.8,908.6 1656.4,909.5 1656.9,908.9 1657.5,908.3 1658.0,907.6 1658.6,906.9 1659.1,908.8 1659.6,910.8 1660.2,910.8 1660.7,910.7 1661.3,910.4 1661.8,910.1 1662.4,909.0 1662.9,907.9 1663.5,909.7 1664.0,911.6 1664.5,910.3 1665.1,909.0 1665.6,908.0 1666.2,907.0 1666.7,908.4 1667.3,909.8 1667.8,911.5 1668.3,913.2 1668.9,911.5 1669.4,909.9 1670.0,910.9 1670.5,911.8 1671.1,912.5 1671.6,913.0 1672.1,911.9 1672.7,910.7 1673.2,910.1 1673.8,909.4 1674.3,909.4 1674.9,909.4 1675.4,909.7 1676.0,910.0 1676.5,909.0 1677.0,908.1 1677.6,908.8 1678.1,909.6 1678.7,909.8 1679.2,910.0 1679.8,909.4 1680.3,908.7 1680.8,909.6 1681.4,910.5 1681.9,910.4 1682.5,910.3 1683.0,909.6 1683.6,909.0 1684.1,909.1 1684.7,909.3 1685.2,909.6 1685.7,909.8 1686.3,909.6 1686.8,909.3 1687.4,909.2 1687.9,909.0 1688.5,908.3 1689.0,907.5 1689.5,908.3 1690.1,909.2 1690.6,909.7 1691.2,910.2 1691.7,910.2 1692.3,910.2 1692.8,909.1 1693.4,908.0 1693.9,909.2 1694.4,910.3 1695.0,910.3 1695.5,910.3 1696.1,909.1 1696.6,907.8 1697.2,908.8 1697.7,909.8 1698.2,909.2 1698.8,908.7 1699.3,908.6 1699.9,908.5 1700.4,909.2 1701.0,909.8 1701.5,909.7 1702.1,909.6 1702.6,908.2 1703.1,906.8 1703.7,908.7 1704.2,910.6 1704.8,909.6 1705.3,908.6 1705.9,909.4 1706.4,910.2 1706.9,910.7 1707.5,911.3 1708.0,910.6 1708.6,909.9 1709.1,909.7 1709.7,909.5 1710.2,909.8 1710.7,910.2 1711.3,910.4 1711.8,910.6 1712.4,909.6 1712.9,908.6 1713.5,908.8 1714.0,909.1 1714.6,910.0 1715.1,911.0 1715.6,911.9 1716.2,912.7 1716.7,911.4 1717.3,910.1 1717.8,910.6 1718.4,911.1 1718.9,909.8 1719.4,908.6 1720.0,909.2 1720.5,909.9 1721.1,910.2 1721.6,910.4 1722.2,909.7 1722.7,908.9 1723.3,910.1 1723.8,911.2 1724.3,911.3 1724.9,911.3 1725.4,909.7 1726.0,908.0 1726.5,909.9 1727.1,911.8 1727.6,912.1 1728.1,912.3 1728.7,912.2 1729.2,912.0 1729.8,911.9 1730.3,911.8 1730.9,910.7 1731.4,909.5 1732.0,909.8 1732.5,910.1 1733.0,910.5 1733.6,910.9 1734.1,910.3 1734.7,909.8 1735.2,910.0 1735.8,910.3 1736.3,911.5 1736.8,912.7 1737.4,911.0 1737.9,909.4 1738.5,909.8 1739.0,910.1 1739.6,911.8 1740.1,913.4 1740.7,912.0 1741.2,910.6 1741.7,910.1 1742.3,909.6 1742.8,910.7 1743.4,911.7 1743.9,911.8 1744.5,911.8 1745.0,911.8 1745.5,911.7 1746.1,910.4 1746.6,909.0 1747.2,910.4 1747.7,911.8 1748.3,911.7 1748.8,911.7 1749.3,912.8 1749.9,914.0 1750.4,912.8 1751.0,911.7 1751.5,910.9 1752.1,910.0 1752.6,910.7 1753.2,911.3 1753.7,911.7 1754.2,912.2 1754.8,911.7 1755.3,911.3 1755.9,911.5 1756.4,911.6 1757.0,912.7 1757.5,913.7 1758.0,913.0 1758.6,912.3 1759.1,912.2 1759.7,912.1 1760.2,911.0 1760.8,909.9 1761.3,910.9 1761.9,912.0 1762.4,910.3 1762.9,908.7 1763.5,911.1 1764.0,913.4 1764.6,912.2 1765.1,910.9 1765.7,911.6 1766.2,912.3 1766.7,912.7 1767.3,913.1 1767.8,911.2 1768.4,909.2 1768.9,910.7 1769.5,912.2 1770.0,911.5 1770.6,910.8 1771.1,911.5 1771.6,912.2 1772.2,911.2 1772.7,910.3 1773.3,910.2 1773.8,910.1 1774.4,911.8 1774.9,913.5 1775.4,913.1 1776.0,912.7 1776.5,912.6 1777.1,912.5 1777.6,911.8 1778.2,910.9 1778.7,912.7 1779.3,914.5 1779.8,913.3 1780.3,912.0 1780.9,912.1 1781.4,912.2 1782.0,911.9 1782.5,911.7 1783.1,912.2 1783.6,912.8 1784.1,913.3 1784.7,913.7 1785.2,913.1 1785.8,912.5 1786.3,912.4 1786.9,912.2 1787.4,911.6 1787.9,911.2 1788.5,912.5 1789.0,913.9 1789.6,914.0 1790.1,914.1 1790.7,912.8 1791.2,911.5 1791.8,911.1 1792.3,910.8 1792.8,911.8 1793.4,912.8 1793.9,911.6 1794.5,910.5 1795.0,912.0 1795.6,913.4 1796.1,913.5 1796.6,913.6 1797.2,913.5 1797.7,913.3 1798.3,914.2 1798.8,915.1 1799.4,915.1 1799.9,915.2 1800.5,914.0 1801.0,913.0 1801.5,912.3 1802.1,911.7 1802.6,912.7 1803.2,913.7 1803.7,913.7 1804.3,913.8 1804.8,912.0 1805.3,910.2 1805.9,910.4 1806.4,910.5 1807.0,910.5 1807.5,910.5 1808.1,909.1 1808.6,907.7 1809.2,907.6 1809.7,907.6 1810.2,909.2 1810.8,910.9 1811.3,908.4 1811.9,906.0 1812.4,907.6 1813.0,909.3 1813.5,908.5 1814.0,907.7 1814.6,909.6 1815.1,911.4 1815.7,911.3 1816.2,911.1 1816.8,911.7 1817.3,912.2 1817.9,910.6 1818.4,908.9 1818.9,910.1 1819.5,911.2 1820.0,910.6 1820.6,910.0 1821.1,911.0 1821.7,912.0 1822.2,912.1 1822.7,912.2 1823.3,912.0 1823.8,911.8 1824.4,911.8 1824.9,911.7 1825.5,912.0 1826.0,912.2 1826.6,912.5 1827.1,912.8 1827.6,912.4 1828.2,911.9 1828.7,912.0 1829.3,912.1 1829.8,912.0 1830.4,911.8 1830.9,911.5 1831.4,911.2 1832.0,912.7 1832.5,914.2 1833.1,912.6 1833.6,911.0 1834.2,913.0 1834.7,915.0 1835.2,914.7 1835.8,914.4 1836.3,912.8 1836.9,911.2 1837.4,911.2 1838.0,911.1 1838.5,912.4 1839.1,913.6 1839.6,912.7 1840.1,911.8 1840.7,912.5 1841.2,913.3 1841.8,913.7 1842.3,914.1 1842.9,913.7 1843.4,913.2 1843.9,912.8 1844.5,912.5 1845.0,912.5 1845.6,912.6 1846.1,913.9 1846.7,915.1 1847.2,913.9 1847.8,912.7 1848.3,914.3 1848.8,915.9 1849.4,916.3 1849.9,916.6 1850.5,915.1 1851.0,913.5 1851.6,914.0 1852.1,914.5 1852.6,915.5 1853.2,916.5 1853.7,914.7 1854.3,913.0 1854.8,913.7 1855.4,914.3 1855.9,914.6 1856.5,914.9 1857.0,913.4 1857.5,911.8 1858.1,912.7 1858.6,913.6 1859.2,913.4 1859.7,913.3 1860.3,912.9 1860.8,912.6 1861.3,914.2 1861.9,915.9 1862.4,915.0 1863.0,914.1 1863.5,915.9 1864.1,917.8 1864.6,916.8 1865.2,915.8 1865.7,914.9 1866.2,913.9 1866.8,914.6 1867.3,915.2 1867.9,914.5 1868.4,913.7 1869.0,914.8 1869.5,915.8"/>
</g>
<g fill="#000">
<circle cx="570.0" cy="410.0" r="13.5"/>
<circle cx="692.9" cy="94.2" r="13.5"/>
<circle cx="633.0" cy="669.0" r="13.5"/>
<circle cx="997.0" cy="497.0" r="13.5"/>
<circle cx="1255.0" cy="386.0" r="13.5"/>
<circle cx="1415.0" cy="345.0" r="13.5"/>
<circle cx="1563.0" cy="367.6" r="13.5"/>
<circle cx="1597.0" cy="716.4" r="13.5"/>
<circle cx="1524.3" cy="878.6" r="13.5"/>
<circle cx="1670.0" cy="884.5" r="13.5"/>
<circle cx="1814.0" cy="881.2" r="13.5"/>
<path d="M281.7 784.8L296.9 800.0L281.7 815.2L266.4 800.0Z"/>
<path d="M310.5 789.8L325.8 805.0L310.5 820.2L295.2 805.0Z"/>
<path d="M327.7 731.5L342.9 746.7L327.7 762.0L312.4 746.7Z"/>
<path d="M357.5 747.8L372.8 763.0L357.5 778.2L342.2 763.0Z"/>
<path d="M516.0 803.1L531.2 818.4L516.0 833.6L500.8 818.4Z"/>
<path d="M549.0 757.4L564.2 772.6L549.0 787.9L533.8 772.6Z"/>
<path d="M586.8 827.8L602.0 843.0L586.8 858.2L571.5 843.0Z"/>
<path d="M726.8 825.8L742.0 841.0L726.8 856.2L711.5 841.0Z"/>
<path d="M741.5 806.2L756.8 821.5L741.5 836.8L726.2 821.5Z"/>
<path d="M786.2 825.4L801.5 840.6L786.2 855.9L771.0 840.6Z"/>
<path d="M806.8 813.8L822.0 829.0L806.8 844.2L791.5 829.0Z"/>
<path d="M818.4 834.2L833.6 849.5L818.4 864.8L803.1 849.5Z"/>
<path d="M872.2 837.4L887.5 852.6L872.2 867.9L857.0 852.6Z"/>
<path d="M932.4 835.5L947.6 850.7L932.4 866.0L917.1 850.7Z"/>
<path d="M1152.6 860.2L1167.8 875.5L1152.6 890.8L1137.3 875.5Z"/>
<path d="M1371.5 858.8L1386.8 874.0L1371.5 889.2L1356.2 874.0Z"/>
<path d="M1470.7 858.4L1486.0 873.6L1470.7 888.9L1455.5 873.6Z"/>
<path d="M336.0 1155.3L352.0 1186.7L320.0 1186.7Z"/>
<path d="M416.0 1170.5L432.0 1202.0L400.0 1202.0Z"/>
<path d="M908.0 1182.5L924.0 1214.0L892.0 1214.0Z"/>
<path d="M965.8 1186.0L981.8 1217.7L949.8 1217.7Z"/>
</g>
<g stroke="#000" stroke-width="3"><rect x="238.5" y="46.5" width="1631.0" height="1214.0" fill="none" stroke="#000" stroke-width="3"/><line x1="220.0" y1="1260.5" x2="238.5" y2="1260.5"/><line x1="228.0" y1="1139.1" x2="238.5" y2="1139.1"/><line x1="220.0" y1="1017.7" x2="238.5" y2="1017.7"/><line x1="228.0" y1="896.3" x2="238.5" y2="896.3"/><line x1="220.0" y1="774.9" x2="238.5" y2="774.9"/><line x1="228.0" y1="653.5" x2="238.5" y2="653.5"/><line x1="220.0" y1="532.1" x2="238.5" y2="532.1"/><line x1="228.0" y1="410.7" x2="238.5" y2="410.7"/><line x1="220.0" y1="289.3" x2="238.5" y2="289.3"/><line x1="228.0" y1="167.9" x2="238.5" y2="167.9"/><line x1="220.0" y1="46.5" x2="238.5" y2="46.5"/><line x1="238.5" y1="1260.5" x2="238.5" y2="1279.0"/><line x1="374.4" y1="1260.5" x2="374.4" y2="1270.0"/><line x1="510.3" y1="1260.5" x2="510.3" y2="1279.0"/><line x1="646.2" y1="1260.5" x2="646.2" y2="1270.0"/><line x1="782.2" y1="1260.5" x2="782.2" y2="1279.0"/><line x1="918.1" y1="1260.5" x2="918.1" y2="1270.0"/><line x1="1054.0" y1="1260.5" x2="1054.0" y2="1279.0"/><line x1="1189.9" y1="1260.5" x2="1189.9" y2="1270.0"/><line x1="1325.8" y1="1260.5" x2="1325.8" y2="1279.0"/><line x1="1461.8" y1="1260.5" x2="1461.8" y2="1270.0"/><line x1="1597.7" y1="1260.5" x2="1597.7" y2="1279.0"/><line x1="1733.6" y1="1260.5" x2="1733.6" y2="1270.0"/><line x1="1869.5" y1="1260.5" x2="1869.5" y2="1279.0"/></g>
<g class="s" font-size="46" fill="#000"><text x="209" y="1274.0" text-anchor="end">0</text><text x="209" y="1031.2" text-anchor="end">2000</text><text x="209" y="788.4" text-anchor="end">4000</text><text x="209" y="545.6" text-anchor="end">6000</text><text x="209" y="302.8" text-anchor="end">8000</text><text x="209" y="60.0" text-anchor="end">10000</text><text x="238.5" y="1326" text-anchor="middle">20</text><text x="510.3" y="1326" text-anchor="middle">30</text><text x="782.2" y="1326" text-anchor="middle">40</text><text x="1054.0" y="1326" text-anchor="middle">50</text><text x="1325.8" y="1326" text-anchor="middle">60</text><text x="1597.7" y="1326" text-anchor="middle">70</text><text x="1869.5" y="1326" text-anchor="middle">80</text></g>
<text class="t" x="993.5" y="1405" font-size="64">2θ, °</text>
<text class="t" font-size="64" transform="translate(74,866.5) rotate(-90)">Intensity, a.u.</text>
<g fill="#000">
<circle cx="296" cy="118" r="14"/>
<path d="M301.3 179L319 213.7L283.7 213.7Z"/>
<path d="M297 256.3L314 273L297 289.7L280 273Z"/>
</g>
<g class="t" font-size="64" fill="#000">
<text x="344.5" y="137">α-Mg</text>
<text x="342" y="214">Mg<tspan font-size="43">2</tspan>Sn</text>
<text x="333" y="291" font-size="63">CaMgSn</text>
</g>
<g class="t" font-size="52" fill="#000">
<text x="722.0" y="124.6" textLength="405.3" lengthAdjust="spacing">(a) As-cast Mg-3Sn</text>
<text x="722.0" y="185.8" textLength="578.8" lengthAdjust="spacing">(b) Solution treated Mg-3Sn</text>
<text x="722.0" y="247.0" textLength="502.4" lengthAdjust="spacing">(c) As-cast Mg-3Sn-1Ca</text>
<text x="722.0" y="309.8" textLength="679.9" lengthAdjust="spacing">(d) Solution treated Mg-3Sn-1Ca</text>
</g>
<g class="t" font-size="64" fill="#000">
<text x="1710" y="884">(d)</text>
<text x="1710" y="999">(c)</text>
<text x="1710" y="1107">(b)</text>
<text x="1710" y="1216">(a)</text>
</g>
</svg></body></html>
